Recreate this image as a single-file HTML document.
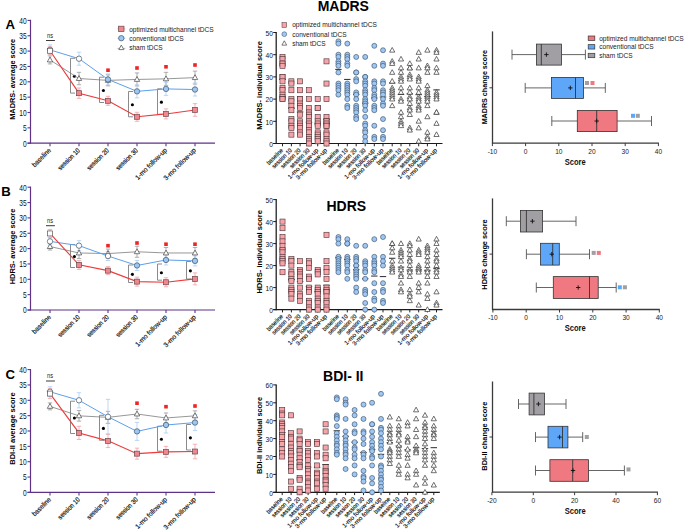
<!DOCTYPE html>
<html><head><meta charset="utf-8"><title>figure</title>
<style>
html,body{margin:0;padding:0;background:#fff;}
body{width:685px;height:530px;overflow:hidden;}
svg{display:block;}
text{font-family:"Liberation Sans", sans-serif;}
</style></head>
<body>
<svg width="685" height="530" viewBox="0 0 685 530">
<rect x="0" y="0" width="685" height="530" fill="#fff"/>
<text x="5.4" y="28.7" font-size="13.2" text-anchor="start" fill="#000" font-weight="bold">A</text>
<text x="15" y="79.3" font-size="7.4" text-anchor="middle" fill="#000" font-weight="bold" transform="rotate(-90 15 79.3)" textLength="81" lengthAdjust="spacingAndGlyphs">MADRS- average score</text>
<line x1="30.5" y1="19.8" x2="30.5" y2="143.7" stroke="#5e3387" stroke-width="1.2"/>
<line x1="27.5" y1="143.2" x2="215" y2="143.2" stroke="#5e3387" stroke-width="1.2"/>
<line x1="27.5" y1="143.2" x2="30.5" y2="143.2" stroke="#5e3387" stroke-width="1.1"/>
<text x="26.6" y="146.5" font-size="8.2" text-anchor="end" fill="#111" textLength="3.7" lengthAdjust="spacingAndGlyphs">0</text>
<line x1="27.5" y1="127.85" x2="30.5" y2="127.85" stroke="#5e3387" stroke-width="1.1"/>
<text x="26.6" y="131.15" font-size="8.2" text-anchor="end" fill="#111" textLength="3.7" lengthAdjust="spacingAndGlyphs">5</text>
<line x1="27.5" y1="112.5" x2="30.5" y2="112.5" stroke="#5e3387" stroke-width="1.1"/>
<text x="26.6" y="115.8" font-size="8.2" text-anchor="end" fill="#111" textLength="7.4" lengthAdjust="spacingAndGlyphs">10</text>
<line x1="27.5" y1="97.15" x2="30.5" y2="97.15" stroke="#5e3387" stroke-width="1.1"/>
<text x="26.6" y="100.45" font-size="8.2" text-anchor="end" fill="#111" textLength="7.4" lengthAdjust="spacingAndGlyphs">15</text>
<line x1="27.5" y1="81.8" x2="30.5" y2="81.8" stroke="#5e3387" stroke-width="1.1"/>
<text x="26.6" y="85.1" font-size="8.2" text-anchor="end" fill="#111" textLength="7.4" lengthAdjust="spacingAndGlyphs">20</text>
<line x1="27.5" y1="66.45" x2="30.5" y2="66.45" stroke="#5e3387" stroke-width="1.1"/>
<text x="26.6" y="69.75" font-size="8.2" text-anchor="end" fill="#111" textLength="7.4" lengthAdjust="spacingAndGlyphs">25</text>
<line x1="27.5" y1="51.1" x2="30.5" y2="51.1" stroke="#5e3387" stroke-width="1.1"/>
<text x="26.6" y="54.4" font-size="8.2" text-anchor="end" fill="#111" textLength="7.4" lengthAdjust="spacingAndGlyphs">30</text>
<line x1="27.5" y1="35.75" x2="30.5" y2="35.75" stroke="#5e3387" stroke-width="1.1"/>
<text x="26.6" y="39.05" font-size="8.2" text-anchor="end" fill="#111" textLength="7.4" lengthAdjust="spacingAndGlyphs">35</text>
<line x1="27.5" y1="20.4" x2="30.5" y2="20.4" stroke="#5e3387" stroke-width="1.1"/>
<text x="26.6" y="23.7" font-size="8.2" text-anchor="end" fill="#111" textLength="7.4" lengthAdjust="spacingAndGlyphs">40</text>
<line x1="50" y1="143.2" x2="50" y2="146.2" stroke="#5e3387" stroke-width="1.1"/>
<text x="51.4" y="150.8" font-size="6.8" text-anchor="end" fill="#111" transform="rotate(-45 51.4 150.8)" textLength="23.5" lengthAdjust="spacingAndGlyphs" stroke="#111" stroke-width="0.18">baseline</text>
<line x1="79" y1="143.2" x2="79" y2="146.2" stroke="#5e3387" stroke-width="1.1"/>
<text x="80.4" y="150.8" font-size="6.8" text-anchor="end" fill="#111" transform="rotate(-45 80.4 150.8)" textLength="28.2" lengthAdjust="spacingAndGlyphs" stroke="#111" stroke-width="0.18">session 10</text>
<line x1="108" y1="143.2" x2="108" y2="146.2" stroke="#5e3387" stroke-width="1.1"/>
<text x="109.4" y="150.8" font-size="6.8" text-anchor="end" fill="#111" transform="rotate(-45 109.4 150.8)" textLength="28.2" lengthAdjust="spacingAndGlyphs" stroke="#111" stroke-width="0.18">session 20</text>
<line x1="137" y1="143.2" x2="137" y2="146.2" stroke="#5e3387" stroke-width="1.1"/>
<text x="138.4" y="150.8" font-size="6.8" text-anchor="end" fill="#111" transform="rotate(-45 138.4 150.8)" textLength="28.2" lengthAdjust="spacingAndGlyphs" stroke="#111" stroke-width="0.18">session 30</text>
<line x1="166" y1="143.2" x2="166" y2="146.2" stroke="#5e3387" stroke-width="1.1"/>
<text x="167.4" y="150.8" font-size="6.8" text-anchor="end" fill="#111" transform="rotate(-45 167.4 150.8)" textLength="41.5" lengthAdjust="spacingAndGlyphs" stroke="#111" stroke-width="0.18">1-mo follow-up</text>
<line x1="195" y1="143.2" x2="195" y2="146.2" stroke="#5e3387" stroke-width="1.1"/>
<text x="196.4" y="150.8" font-size="6.8" text-anchor="end" fill="#111" transform="rotate(-45 196.4 150.8)" textLength="42.5" lengthAdjust="spacingAndGlyphs" stroke="#111" stroke-width="0.18">3-mo follow-up</text>
<text x="50.1" y="37.6" font-size="7" text-anchor="middle" fill="#222" textLength="6" lengthAdjust="spacingAndGlyphs">ns</text>
<line x1="46" y1="40.5" x2="54.9" y2="40.5" stroke="#222" stroke-width="0.9"/>
<polyline points="75,58.3 70.5,58.3 70.5,93.1 75,93.1" fill="none" stroke="#858585" stroke-width="0.95"/>
<circle cx="74.4" cy="76.3" r="1.55" fill="#000" stroke="none" stroke-width="0"/>
<polyline points="104,77.2 99.5,77.2 99.5,102.5 104,102.5" fill="none" stroke="#858585" stroke-width="0.95"/>
<circle cx="103.4" cy="90.45" r="1.55" fill="#000" stroke="none" stroke-width="0"/>
<polyline points="133,91.5 128.5,91.5 128.5,116.8 133,116.8" fill="none" stroke="#858585" stroke-width="0.95"/>
<circle cx="132.4" cy="104.75" r="1.55" fill="#000" stroke="none" stroke-width="0"/>
<polyline points="162,88.8 157.5,88.8 157.5,114.3 162,114.3" fill="none" stroke="#858585" stroke-width="0.95"/>
<circle cx="161.4" cy="102.15" r="1.55" fill="#000" stroke="none" stroke-width="0"/>
<polyline points="50,59.93 79,78.54 108,80.37 137,79.45 166,78.84 195,77.62" fill="none" stroke="#7c7c7c" stroke-width="0.8"/>
<polyline points="50,49.87 79,58.71 108,79.45 137,91.35 166,88.91 195,89.52" fill="none" stroke="#5b9ff0" stroke-width="1"/>
<polyline points="50,50.78 79,93.18 108,100.8 137,116.79 166,113.92 195,109.95" fill="none" stroke="#ee3a3a" stroke-width="1.1"/>
<line x1="50" y1="55.93" x2="50" y2="63.93" stroke="#9a9a9a" stroke-width="0.8"/>
<line x1="47.8" y1="55.93" x2="52.2" y2="55.93" stroke="#9a9a9a" stroke-width="0.8"/>
<line x1="47.8" y1="63.93" x2="52.2" y2="63.93" stroke="#9a9a9a" stroke-width="0.8"/>
<line x1="50" y1="44.87" x2="50" y2="54.87" stroke="#a9cdf5" stroke-width="0.8"/>
<line x1="47.8" y1="44.87" x2="52.2" y2="44.87" stroke="#a9cdf5" stroke-width="0.8"/>
<line x1="47.8" y1="54.87" x2="52.2" y2="54.87" stroke="#a9cdf5" stroke-width="0.8"/>
<line x1="50" y1="46.78" x2="50" y2="54.78" stroke="#f2a0a6" stroke-width="0.8"/>
<line x1="47.8" y1="46.78" x2="52.2" y2="46.78" stroke="#f2a0a6" stroke-width="0.8"/>
<line x1="47.8" y1="54.78" x2="52.2" y2="54.78" stroke="#f2a0a6" stroke-width="0.8"/>
<line x1="79" y1="72.34" x2="79" y2="84.74" stroke="#9a9a9a" stroke-width="0.8"/>
<line x1="76.8" y1="72.34" x2="81.2" y2="72.34" stroke="#9a9a9a" stroke-width="0.8"/>
<line x1="76.8" y1="84.74" x2="81.2" y2="84.74" stroke="#9a9a9a" stroke-width="0.8"/>
<line x1="79" y1="52.21" x2="79" y2="65.21" stroke="#a9cdf5" stroke-width="0.8"/>
<line x1="76.8" y1="52.21" x2="81.2" y2="52.21" stroke="#a9cdf5" stroke-width="0.8"/>
<line x1="76.8" y1="65.21" x2="81.2" y2="65.21" stroke="#a9cdf5" stroke-width="0.8"/>
<line x1="79" y1="87.98" x2="79" y2="98.38" stroke="#f2a0a6" stroke-width="0.8"/>
<line x1="76.8" y1="87.98" x2="81.2" y2="87.98" stroke="#f2a0a6" stroke-width="0.8"/>
<line x1="76.8" y1="98.38" x2="81.2" y2="98.38" stroke="#f2a0a6" stroke-width="0.8"/>
<line x1="108" y1="74.87" x2="108" y2="85.87" stroke="#9a9a9a" stroke-width="0.8"/>
<line x1="105.8" y1="74.87" x2="110.2" y2="74.87" stroke="#9a9a9a" stroke-width="0.8"/>
<line x1="105.8" y1="85.87" x2="110.2" y2="85.87" stroke="#9a9a9a" stroke-width="0.8"/>
<line x1="108" y1="73.95" x2="108" y2="84.95" stroke="#a9cdf5" stroke-width="0.8"/>
<line x1="105.8" y1="73.95" x2="110.2" y2="73.95" stroke="#a9cdf5" stroke-width="0.8"/>
<line x1="105.8" y1="84.95" x2="110.2" y2="84.95" stroke="#a9cdf5" stroke-width="0.8"/>
<line x1="108" y1="96.3" x2="108" y2="105.3" stroke="#f2a0a6" stroke-width="0.8"/>
<line x1="105.8" y1="96.3" x2="110.2" y2="96.3" stroke="#f2a0a6" stroke-width="0.8"/>
<line x1="105.8" y1="105.3" x2="110.2" y2="105.3" stroke="#f2a0a6" stroke-width="0.8"/>
<line x1="137" y1="72.95" x2="137" y2="85.95" stroke="#9a9a9a" stroke-width="0.8"/>
<line x1="134.8" y1="72.95" x2="139.2" y2="72.95" stroke="#9a9a9a" stroke-width="0.8"/>
<line x1="134.8" y1="85.95" x2="139.2" y2="85.95" stroke="#9a9a9a" stroke-width="0.8"/>
<line x1="137" y1="84.85" x2="137" y2="97.85" stroke="#a9cdf5" stroke-width="0.8"/>
<line x1="134.8" y1="84.85" x2="139.2" y2="84.85" stroke="#a9cdf5" stroke-width="0.8"/>
<line x1="134.8" y1="97.85" x2="139.2" y2="97.85" stroke="#a9cdf5" stroke-width="0.8"/>
<line x1="137" y1="112.29" x2="137" y2="121.29" stroke="#f2a0a6" stroke-width="0.8"/>
<line x1="134.8" y1="112.29" x2="139.2" y2="112.29" stroke="#f2a0a6" stroke-width="0.8"/>
<line x1="134.8" y1="121.29" x2="139.2" y2="121.29" stroke="#f2a0a6" stroke-width="0.8"/>
<line x1="166" y1="72.34" x2="166" y2="85.34" stroke="#9a9a9a" stroke-width="0.8"/>
<line x1="163.8" y1="72.34" x2="168.2" y2="72.34" stroke="#9a9a9a" stroke-width="0.8"/>
<line x1="163.8" y1="85.34" x2="168.2" y2="85.34" stroke="#9a9a9a" stroke-width="0.8"/>
<line x1="166" y1="82.41" x2="166" y2="95.41" stroke="#a9cdf5" stroke-width="0.8"/>
<line x1="163.8" y1="82.41" x2="168.2" y2="82.41" stroke="#a9cdf5" stroke-width="0.8"/>
<line x1="163.8" y1="95.41" x2="168.2" y2="95.41" stroke="#a9cdf5" stroke-width="0.8"/>
<line x1="166" y1="108.92" x2="166" y2="118.92" stroke="#f2a0a6" stroke-width="0.8"/>
<line x1="163.8" y1="108.92" x2="168.2" y2="108.92" stroke="#f2a0a6" stroke-width="0.8"/>
<line x1="163.8" y1="118.92" x2="168.2" y2="118.92" stroke="#f2a0a6" stroke-width="0.8"/>
<line x1="195" y1="71.12" x2="195" y2="84.12" stroke="#9a9a9a" stroke-width="0.8"/>
<line x1="192.8" y1="71.12" x2="197.2" y2="71.12" stroke="#9a9a9a" stroke-width="0.8"/>
<line x1="192.8" y1="84.12" x2="197.2" y2="84.12" stroke="#9a9a9a" stroke-width="0.8"/>
<line x1="195" y1="83.02" x2="195" y2="96.02" stroke="#a9cdf5" stroke-width="0.8"/>
<line x1="192.8" y1="83.02" x2="197.2" y2="83.02" stroke="#a9cdf5" stroke-width="0.8"/>
<line x1="192.8" y1="96.02" x2="197.2" y2="96.02" stroke="#a9cdf5" stroke-width="0.8"/>
<line x1="195" y1="103.65" x2="195" y2="116.25" stroke="#f2a0a6" stroke-width="0.8"/>
<line x1="192.8" y1="103.65" x2="197.2" y2="103.65" stroke="#f2a0a6" stroke-width="0.8"/>
<line x1="192.8" y1="116.25" x2="197.2" y2="116.25" stroke="#f2a0a6" stroke-width="0.8"/>
<polygon points="50,57.02 47.3,61.88 52.7,61.88" fill="#fff" stroke="#444" stroke-width="0.7"/>
<polygon points="79,75.62 76.3,80.48 81.7,80.48" fill="#fff" stroke="#444" stroke-width="0.7"/>
<polygon points="108,77.45 105.3,82.31 110.7,82.31" fill="#fff" stroke="#444" stroke-width="0.7"/>
<polygon points="137,76.54 134.3,81.4 139.7,81.4" fill="#fff" stroke="#444" stroke-width="0.7"/>
<polygon points="166,75.93 163.3,80.79 168.7,80.79" fill="#fff" stroke="#444" stroke-width="0.7"/>
<polygon points="195,74.71 192.3,79.57 197.7,79.57" fill="#fff" stroke="#444" stroke-width="0.7"/>
<circle cx="50" cy="49.87" r="2.7" fill="#fff" stroke="#445566" stroke-width="0.7"/>
<circle cx="79" cy="58.71" r="2.7" fill="#fff" stroke="#445566" stroke-width="0.7"/>
<circle cx="108" cy="79.45" r="2.7" fill="#9cc6f4" stroke="#445566" stroke-width="0.7"/>
<circle cx="137" cy="91.35" r="2.7" fill="#9cc6f4" stroke="#445566" stroke-width="0.7"/>
<circle cx="166" cy="88.91" r="2.7" fill="#9cc6f4" stroke="#445566" stroke-width="0.7"/>
<circle cx="195" cy="89.52" r="2.7" fill="#9cc6f4" stroke="#445566" stroke-width="0.7"/>
<rect x="47.5" y="48.28" width="5" height="5" fill="#fff" stroke="#555" stroke-width="0.7"/>
<rect x="76.5" y="90.68" width="5" height="5" fill="#f0868e" stroke="#6a4a4c" stroke-width="0.7"/>
<rect x="105.5" y="98.3" width="5" height="5" fill="#f0868e" stroke="#6a4a4c" stroke-width="0.7"/>
<rect x="134.5" y="114.29" width="5" height="5" fill="#f0868e" stroke="#6a4a4c" stroke-width="0.7"/>
<rect x="163.5" y="111.42" width="5" height="5" fill="#f0868e" stroke="#6a4a4c" stroke-width="0.7"/>
<rect x="192.5" y="107.45" width="5" height="5" fill="#f0868e" stroke="#6a4a4c" stroke-width="0.7"/>
<rect x="106.2" y="68.4" width="3.6" height="3.6" fill="#ee2428" stroke="none" stroke-width="0"/>
<rect x="135.2" y="66.2" width="3.6" height="3.6" fill="#ee2428" stroke="none" stroke-width="0"/>
<rect x="164.2" y="65" width="3.6" height="3.6" fill="#ee2428" stroke="none" stroke-width="0"/>
<rect x="193.2" y="63.2" width="3.6" height="3.6" fill="#ee2428" stroke="none" stroke-width="0"/>
<line x1="117.4" y1="28.9" x2="125.3" y2="28.9" stroke="#f5a0a5" stroke-width="0.9"/>
<line x1="117.4" y1="38.2" x2="125.3" y2="38.2" stroke="#9cc4f0" stroke-width="0.9"/>
<line x1="117.4" y1="48.4" x2="125.3" y2="48.4" stroke="#aaaaaa" stroke-width="0.9"/>
<rect x="118.6" y="26.2" width="5.4" height="5.4" fill="#f0868e" stroke="#6a4a4c" stroke-width="0.7"/>
<circle cx="121.3" cy="38.2" r="2.7" fill="#9cc6f4" stroke="#445566" stroke-width="0.7"/>
<polygon points="121.3,45.1 118.8,49.6 123.8,49.6" fill="#fff" stroke="#444" stroke-width="0.7"/>
<text x="129.2" y="31.6" font-size="6.8" text-anchor="start" fill="#222" textLength="84.5" lengthAdjust="spacingAndGlyphs">optimized multichannel tDCS</text>
<text x="129.2" y="40.9" font-size="6.8" text-anchor="start" fill="#222" textLength="54.5" lengthAdjust="spacingAndGlyphs">conventional tDCS</text>
<text x="129.2" y="49.8" font-size="6.8" text-anchor="start" fill="#222" textLength="33.5" lengthAdjust="spacingAndGlyphs">sham tDCS</text>
<text x="1.2" y="196.2" font-size="13.2" text-anchor="start" fill="#000" font-weight="bold">B</text>
<text x="15" y="246.5" font-size="7.4" text-anchor="middle" fill="#000" font-weight="bold" transform="rotate(-90 15 246.5)" textLength="75.6" lengthAdjust="spacingAndGlyphs">HDRS- average score</text>
<line x1="30.5" y1="186.6" x2="30.5" y2="310.5" stroke="#5e3387" stroke-width="1.2"/>
<line x1="27.5" y1="310" x2="215" y2="310" stroke="#5e3387" stroke-width="1.2"/>
<line x1="27.5" y1="310" x2="30.5" y2="310" stroke="#5e3387" stroke-width="1.1"/>
<text x="26.6" y="313.3" font-size="8.2" text-anchor="end" fill="#111" textLength="3.7" lengthAdjust="spacingAndGlyphs">0</text>
<line x1="27.5" y1="294.65" x2="30.5" y2="294.65" stroke="#5e3387" stroke-width="1.1"/>
<text x="26.6" y="297.95" font-size="8.2" text-anchor="end" fill="#111" textLength="3.7" lengthAdjust="spacingAndGlyphs">5</text>
<line x1="27.5" y1="279.3" x2="30.5" y2="279.3" stroke="#5e3387" stroke-width="1.1"/>
<text x="26.6" y="282.6" font-size="8.2" text-anchor="end" fill="#111" textLength="7.4" lengthAdjust="spacingAndGlyphs">10</text>
<line x1="27.5" y1="263.95" x2="30.5" y2="263.95" stroke="#5e3387" stroke-width="1.1"/>
<text x="26.6" y="267.25" font-size="8.2" text-anchor="end" fill="#111" textLength="7.4" lengthAdjust="spacingAndGlyphs">15</text>
<line x1="27.5" y1="248.6" x2="30.5" y2="248.6" stroke="#5e3387" stroke-width="1.1"/>
<text x="26.6" y="251.9" font-size="8.2" text-anchor="end" fill="#111" textLength="7.4" lengthAdjust="spacingAndGlyphs">20</text>
<line x1="27.5" y1="233.25" x2="30.5" y2="233.25" stroke="#5e3387" stroke-width="1.1"/>
<text x="26.6" y="236.55" font-size="8.2" text-anchor="end" fill="#111" textLength="7.4" lengthAdjust="spacingAndGlyphs">25</text>
<line x1="27.5" y1="217.9" x2="30.5" y2="217.9" stroke="#5e3387" stroke-width="1.1"/>
<text x="26.6" y="221.2" font-size="8.2" text-anchor="end" fill="#111" textLength="7.4" lengthAdjust="spacingAndGlyphs">30</text>
<line x1="27.5" y1="202.55" x2="30.5" y2="202.55" stroke="#5e3387" stroke-width="1.1"/>
<text x="26.6" y="205.85" font-size="8.2" text-anchor="end" fill="#111" textLength="7.4" lengthAdjust="spacingAndGlyphs">35</text>
<line x1="27.5" y1="187.2" x2="30.5" y2="187.2" stroke="#5e3387" stroke-width="1.1"/>
<text x="26.6" y="190.5" font-size="8.2" text-anchor="end" fill="#111" textLength="7.4" lengthAdjust="spacingAndGlyphs">40</text>
<line x1="50" y1="310" x2="50" y2="313" stroke="#5e3387" stroke-width="1.1"/>
<text x="51.4" y="317.6" font-size="6.8" text-anchor="end" fill="#111" transform="rotate(-45 51.4 317.6)" textLength="23.5" lengthAdjust="spacingAndGlyphs" stroke="#111" stroke-width="0.18">baseline</text>
<line x1="79" y1="310" x2="79" y2="313" stroke="#5e3387" stroke-width="1.1"/>
<text x="80.4" y="317.6" font-size="6.8" text-anchor="end" fill="#111" transform="rotate(-45 80.4 317.6)" textLength="28.2" lengthAdjust="spacingAndGlyphs" stroke="#111" stroke-width="0.18">session 10</text>
<line x1="108" y1="310" x2="108" y2="313" stroke="#5e3387" stroke-width="1.1"/>
<text x="109.4" y="317.6" font-size="6.8" text-anchor="end" fill="#111" transform="rotate(-45 109.4 317.6)" textLength="28.2" lengthAdjust="spacingAndGlyphs" stroke="#111" stroke-width="0.18">session 20</text>
<line x1="137" y1="310" x2="137" y2="313" stroke="#5e3387" stroke-width="1.1"/>
<text x="138.4" y="317.6" font-size="6.8" text-anchor="end" fill="#111" transform="rotate(-45 138.4 317.6)" textLength="28.2" lengthAdjust="spacingAndGlyphs" stroke="#111" stroke-width="0.18">session 30</text>
<line x1="166" y1="310" x2="166" y2="313" stroke="#5e3387" stroke-width="1.1"/>
<text x="167.4" y="317.6" font-size="6.8" text-anchor="end" fill="#111" transform="rotate(-45 167.4 317.6)" textLength="41.5" lengthAdjust="spacingAndGlyphs" stroke="#111" stroke-width="0.18">1-mo follow-up</text>
<line x1="195" y1="310" x2="195" y2="313" stroke="#5e3387" stroke-width="1.1"/>
<text x="196.4" y="317.6" font-size="6.8" text-anchor="end" fill="#111" transform="rotate(-45 196.4 317.6)" textLength="42.5" lengthAdjust="spacingAndGlyphs" stroke="#111" stroke-width="0.18">3-mo follow-up</text>
<text x="50.1" y="222.8" font-size="7" text-anchor="middle" fill="#222" textLength="6" lengthAdjust="spacingAndGlyphs">ns</text>
<line x1="46" y1="225.7" x2="54.9" y2="225.7" stroke="#222" stroke-width="0.9"/>
<polyline points="75,244.5 70.5,244.5 70.5,267.5 75,267.5" fill="none" stroke="#858585" stroke-width="0.95"/>
<circle cx="74.4" cy="256.6" r="1.55" fill="#000" stroke="none" stroke-width="0"/>
<polyline points="133,265 128.5,265 128.5,282.5 133,282.5" fill="none" stroke="#858585" stroke-width="0.95"/>
<circle cx="132.4" cy="274.35" r="1.55" fill="#000" stroke="none" stroke-width="0"/>
<polyline points="162,264 157.5,264 157.5,280.2 162,280.2" fill="none" stroke="#858585" stroke-width="0.95"/>
<circle cx="161.4" cy="272.7" r="1.55" fill="#000" stroke="none" stroke-width="0"/>
<polyline points="191,261.5 186.5,261.5 186.5,279 191,279" fill="none" stroke="#858585" stroke-width="0.95"/>
<circle cx="190.4" cy="270.85" r="1.55" fill="#000" stroke="none" stroke-width="0"/>
<polyline points="50,246.56 79,252.97 108,253.57 137,251.75 166,252.97 195,252.97" fill="none" stroke="#7c7c7c" stroke-width="0.8"/>
<polyline points="50,241.38 79,245.64 108,256.01 137,265.47 166,259.98 195,260.89" fill="none" stroke="#5b9ff0" stroke-width="1"/>
<polyline points="50,233.44 79,264.86 108,270.65 137,281.63 166,282.25 195,278.89" fill="none" stroke="#ee3a3a" stroke-width="1.1"/>
<line x1="50" y1="243.06" x2="50" y2="250.06" stroke="#9a9a9a" stroke-width="0.8"/>
<line x1="47.8" y1="243.06" x2="52.2" y2="243.06" stroke="#9a9a9a" stroke-width="0.8"/>
<line x1="47.8" y1="250.06" x2="52.2" y2="250.06" stroke="#9a9a9a" stroke-width="0.8"/>
<line x1="50" y1="237.88" x2="50" y2="244.88" stroke="#a9cdf5" stroke-width="0.8"/>
<line x1="47.8" y1="237.88" x2="52.2" y2="237.88" stroke="#a9cdf5" stroke-width="0.8"/>
<line x1="47.8" y1="244.88" x2="52.2" y2="244.88" stroke="#a9cdf5" stroke-width="0.8"/>
<line x1="50" y1="229.44" x2="50" y2="237.44" stroke="#f2a0a6" stroke-width="0.8"/>
<line x1="47.8" y1="229.44" x2="52.2" y2="229.44" stroke="#f2a0a6" stroke-width="0.8"/>
<line x1="47.8" y1="237.44" x2="52.2" y2="237.44" stroke="#f2a0a6" stroke-width="0.8"/>
<line x1="79" y1="247.47" x2="79" y2="258.47" stroke="#9a9a9a" stroke-width="0.8"/>
<line x1="76.8" y1="247.47" x2="81.2" y2="247.47" stroke="#9a9a9a" stroke-width="0.8"/>
<line x1="76.8" y1="258.47" x2="81.2" y2="258.47" stroke="#9a9a9a" stroke-width="0.8"/>
<line x1="79" y1="240.64" x2="79" y2="250.64" stroke="#a9cdf5" stroke-width="0.8"/>
<line x1="76.8" y1="240.64" x2="81.2" y2="240.64" stroke="#a9cdf5" stroke-width="0.8"/>
<line x1="76.8" y1="250.64" x2="81.2" y2="250.64" stroke="#a9cdf5" stroke-width="0.8"/>
<line x1="79" y1="260.36" x2="79" y2="269.36" stroke="#f2a0a6" stroke-width="0.8"/>
<line x1="76.8" y1="260.36" x2="81.2" y2="260.36" stroke="#f2a0a6" stroke-width="0.8"/>
<line x1="76.8" y1="269.36" x2="81.2" y2="269.36" stroke="#f2a0a6" stroke-width="0.8"/>
<line x1="108" y1="249.07" x2="108" y2="258.07" stroke="#9a9a9a" stroke-width="0.8"/>
<line x1="105.8" y1="249.07" x2="110.2" y2="249.07" stroke="#9a9a9a" stroke-width="0.8"/>
<line x1="105.8" y1="258.07" x2="110.2" y2="258.07" stroke="#9a9a9a" stroke-width="0.8"/>
<line x1="108" y1="251.51" x2="108" y2="260.51" stroke="#a9cdf5" stroke-width="0.8"/>
<line x1="105.8" y1="251.51" x2="110.2" y2="251.51" stroke="#a9cdf5" stroke-width="0.8"/>
<line x1="105.8" y1="260.51" x2="110.2" y2="260.51" stroke="#a9cdf5" stroke-width="0.8"/>
<line x1="108" y1="266.65" x2="108" y2="274.65" stroke="#f2a0a6" stroke-width="0.8"/>
<line x1="105.8" y1="266.65" x2="110.2" y2="266.65" stroke="#f2a0a6" stroke-width="0.8"/>
<line x1="105.8" y1="274.65" x2="110.2" y2="274.65" stroke="#f2a0a6" stroke-width="0.8"/>
<line x1="137" y1="246.25" x2="137" y2="257.25" stroke="#9a9a9a" stroke-width="0.8"/>
<line x1="134.8" y1="246.25" x2="139.2" y2="246.25" stroke="#9a9a9a" stroke-width="0.8"/>
<line x1="134.8" y1="257.25" x2="139.2" y2="257.25" stroke="#9a9a9a" stroke-width="0.8"/>
<line x1="137" y1="260.47" x2="137" y2="270.47" stroke="#a9cdf5" stroke-width="0.8"/>
<line x1="134.8" y1="260.47" x2="139.2" y2="260.47" stroke="#a9cdf5" stroke-width="0.8"/>
<line x1="134.8" y1="270.47" x2="139.2" y2="270.47" stroke="#a9cdf5" stroke-width="0.8"/>
<line x1="137" y1="277.13" x2="137" y2="286.13" stroke="#f2a0a6" stroke-width="0.8"/>
<line x1="134.8" y1="277.13" x2="139.2" y2="277.13" stroke="#f2a0a6" stroke-width="0.8"/>
<line x1="134.8" y1="286.13" x2="139.2" y2="286.13" stroke="#f2a0a6" stroke-width="0.8"/>
<line x1="166" y1="247.47" x2="166" y2="258.47" stroke="#9a9a9a" stroke-width="0.8"/>
<line x1="163.8" y1="247.47" x2="168.2" y2="247.47" stroke="#9a9a9a" stroke-width="0.8"/>
<line x1="163.8" y1="258.47" x2="168.2" y2="258.47" stroke="#9a9a9a" stroke-width="0.8"/>
<line x1="166" y1="254.98" x2="166" y2="264.98" stroke="#a9cdf5" stroke-width="0.8"/>
<line x1="163.8" y1="254.98" x2="168.2" y2="254.98" stroke="#a9cdf5" stroke-width="0.8"/>
<line x1="163.8" y1="264.98" x2="168.2" y2="264.98" stroke="#a9cdf5" stroke-width="0.8"/>
<line x1="166" y1="277.75" x2="166" y2="286.75" stroke="#f2a0a6" stroke-width="0.8"/>
<line x1="163.8" y1="277.75" x2="168.2" y2="277.75" stroke="#f2a0a6" stroke-width="0.8"/>
<line x1="163.8" y1="286.75" x2="168.2" y2="286.75" stroke="#f2a0a6" stroke-width="0.8"/>
<line x1="195" y1="247.47" x2="195" y2="258.47" stroke="#9a9a9a" stroke-width="0.8"/>
<line x1="192.8" y1="247.47" x2="197.2" y2="247.47" stroke="#9a9a9a" stroke-width="0.8"/>
<line x1="192.8" y1="258.47" x2="197.2" y2="258.47" stroke="#9a9a9a" stroke-width="0.8"/>
<line x1="195" y1="255.89" x2="195" y2="265.89" stroke="#a9cdf5" stroke-width="0.8"/>
<line x1="192.8" y1="255.89" x2="197.2" y2="255.89" stroke="#a9cdf5" stroke-width="0.8"/>
<line x1="192.8" y1="265.89" x2="197.2" y2="265.89" stroke="#a9cdf5" stroke-width="0.8"/>
<line x1="195" y1="272.89" x2="195" y2="284.89" stroke="#f2a0a6" stroke-width="0.8"/>
<line x1="192.8" y1="272.89" x2="197.2" y2="272.89" stroke="#f2a0a6" stroke-width="0.8"/>
<line x1="192.8" y1="284.89" x2="197.2" y2="284.89" stroke="#f2a0a6" stroke-width="0.8"/>
<polygon points="50,243.64 47.3,248.5 52.7,248.5" fill="#fff" stroke="#444" stroke-width="0.7"/>
<polygon points="79,250.05 76.3,254.91 81.7,254.91" fill="#fff" stroke="#444" stroke-width="0.7"/>
<polygon points="108,250.66 105.3,255.52 110.7,255.52" fill="#fff" stroke="#444" stroke-width="0.7"/>
<polygon points="137,248.83 134.3,253.69 139.7,253.69" fill="#fff" stroke="#444" stroke-width="0.7"/>
<polygon points="166,250.05 163.3,254.91 168.7,254.91" fill="#fff" stroke="#444" stroke-width="0.7"/>
<polygon points="195,250.05 192.3,254.91 197.7,254.91" fill="#fff" stroke="#444" stroke-width="0.7"/>
<circle cx="50" cy="241.38" r="2.7" fill="#fff" stroke="#445566" stroke-width="0.7"/>
<circle cx="79" cy="245.64" r="2.7" fill="#fff" stroke="#445566" stroke-width="0.7"/>
<circle cx="108" cy="256.01" r="2.7" fill="#fff" stroke="#445566" stroke-width="0.7"/>
<circle cx="137" cy="265.47" r="2.7" fill="#9cc6f4" stroke="#445566" stroke-width="0.7"/>
<circle cx="166" cy="259.98" r="2.7" fill="#9cc6f4" stroke="#445566" stroke-width="0.7"/>
<circle cx="195" cy="260.89" r="2.7" fill="#9cc6f4" stroke="#445566" stroke-width="0.7"/>
<rect x="47.5" y="230.94" width="5" height="5" fill="#fff" stroke="#555" stroke-width="0.7"/>
<rect x="76.5" y="262.36" width="5" height="5" fill="#f0868e" stroke="#6a4a4c" stroke-width="0.7"/>
<rect x="105.5" y="268.15" width="5" height="5" fill="#f0868e" stroke="#6a4a4c" stroke-width="0.7"/>
<rect x="134.5" y="279.13" width="5" height="5" fill="#f0868e" stroke="#6a4a4c" stroke-width="0.7"/>
<rect x="163.5" y="279.75" width="5" height="5" fill="#f0868e" stroke="#6a4a4c" stroke-width="0.7"/>
<rect x="192.5" y="276.39" width="5" height="5" fill="#f0868e" stroke="#6a4a4c" stroke-width="0.7"/>
<rect x="106.2" y="243.9" width="3.6" height="3.6" fill="#ee2428" stroke="none" stroke-width="0"/>
<rect x="135.2" y="241.2" width="3.6" height="3.6" fill="#ee2428" stroke="none" stroke-width="0"/>
<rect x="164.2" y="242.4" width="3.6" height="3.6" fill="#ee2428" stroke="none" stroke-width="0"/>
<rect x="193.2" y="242.4" width="3.6" height="3.6" fill="#ee2428" stroke="none" stroke-width="0"/>
<text x="5.4" y="378.6" font-size="13.2" text-anchor="start" fill="#000" font-weight="bold">C</text>
<text x="15" y="428.6" font-size="7.4" text-anchor="middle" fill="#000" font-weight="bold" transform="rotate(-90 15 428.6)" textLength="72.4" lengthAdjust="spacingAndGlyphs">BDI-II average score</text>
<line x1="30.5" y1="369" x2="30.5" y2="492.9" stroke="#5e3387" stroke-width="1.2"/>
<line x1="27.5" y1="492.4" x2="215" y2="492.4" stroke="#5e3387" stroke-width="1.2"/>
<line x1="27.5" y1="492.4" x2="30.5" y2="492.4" stroke="#5e3387" stroke-width="1.1"/>
<text x="26.6" y="495.7" font-size="8.2" text-anchor="end" fill="#111" textLength="3.7" lengthAdjust="spacingAndGlyphs">0</text>
<line x1="27.5" y1="477.05" x2="30.5" y2="477.05" stroke="#5e3387" stroke-width="1.1"/>
<text x="26.6" y="480.35" font-size="8.2" text-anchor="end" fill="#111" textLength="3.7" lengthAdjust="spacingAndGlyphs">5</text>
<line x1="27.5" y1="461.7" x2="30.5" y2="461.7" stroke="#5e3387" stroke-width="1.1"/>
<text x="26.6" y="465" font-size="8.2" text-anchor="end" fill="#111" textLength="7.4" lengthAdjust="spacingAndGlyphs">10</text>
<line x1="27.5" y1="446.35" x2="30.5" y2="446.35" stroke="#5e3387" stroke-width="1.1"/>
<text x="26.6" y="449.65" font-size="8.2" text-anchor="end" fill="#111" textLength="7.4" lengthAdjust="spacingAndGlyphs">15</text>
<line x1="27.5" y1="431" x2="30.5" y2="431" stroke="#5e3387" stroke-width="1.1"/>
<text x="26.6" y="434.3" font-size="8.2" text-anchor="end" fill="#111" textLength="7.4" lengthAdjust="spacingAndGlyphs">20</text>
<line x1="27.5" y1="415.65" x2="30.5" y2="415.65" stroke="#5e3387" stroke-width="1.1"/>
<text x="26.6" y="418.95" font-size="8.2" text-anchor="end" fill="#111" textLength="7.4" lengthAdjust="spacingAndGlyphs">25</text>
<line x1="27.5" y1="400.3" x2="30.5" y2="400.3" stroke="#5e3387" stroke-width="1.1"/>
<text x="26.6" y="403.6" font-size="8.2" text-anchor="end" fill="#111" textLength="7.4" lengthAdjust="spacingAndGlyphs">30</text>
<line x1="27.5" y1="384.95" x2="30.5" y2="384.95" stroke="#5e3387" stroke-width="1.1"/>
<text x="26.6" y="388.25" font-size="8.2" text-anchor="end" fill="#111" textLength="7.4" lengthAdjust="spacingAndGlyphs">35</text>
<line x1="27.5" y1="369.6" x2="30.5" y2="369.6" stroke="#5e3387" stroke-width="1.1"/>
<text x="26.6" y="372.9" font-size="8.2" text-anchor="end" fill="#111" textLength="7.4" lengthAdjust="spacingAndGlyphs">40</text>
<line x1="50" y1="492.4" x2="50" y2="495.4" stroke="#5e3387" stroke-width="1.1"/>
<text x="51.4" y="500" font-size="6.8" text-anchor="end" fill="#111" transform="rotate(-45 51.4 500)" textLength="23.5" lengthAdjust="spacingAndGlyphs" stroke="#111" stroke-width="0.18">baseline</text>
<line x1="79" y1="492.4" x2="79" y2="495.4" stroke="#5e3387" stroke-width="1.1"/>
<text x="80.4" y="500" font-size="6.8" text-anchor="end" fill="#111" transform="rotate(-45 80.4 500)" textLength="28.2" lengthAdjust="spacingAndGlyphs" stroke="#111" stroke-width="0.18">session 10</text>
<line x1="108" y1="492.4" x2="108" y2="495.4" stroke="#5e3387" stroke-width="1.1"/>
<text x="109.4" y="500" font-size="6.8" text-anchor="end" fill="#111" transform="rotate(-45 109.4 500)" textLength="28.2" lengthAdjust="spacingAndGlyphs" stroke="#111" stroke-width="0.18">session 20</text>
<line x1="137" y1="492.4" x2="137" y2="495.4" stroke="#5e3387" stroke-width="1.1"/>
<text x="138.4" y="500" font-size="6.8" text-anchor="end" fill="#111" transform="rotate(-45 138.4 500)" textLength="28.2" lengthAdjust="spacingAndGlyphs" stroke="#111" stroke-width="0.18">session 30</text>
<line x1="166" y1="492.4" x2="166" y2="495.4" stroke="#5e3387" stroke-width="1.1"/>
<text x="167.4" y="500" font-size="6.8" text-anchor="end" fill="#111" transform="rotate(-45 167.4 500)" textLength="41.5" lengthAdjust="spacingAndGlyphs" stroke="#111" stroke-width="0.18">1-mo follow-up</text>
<line x1="195" y1="492.4" x2="195" y2="495.4" stroke="#5e3387" stroke-width="1.1"/>
<text x="196.4" y="500" font-size="6.8" text-anchor="end" fill="#111" transform="rotate(-45 196.4 500)" textLength="42.5" lengthAdjust="spacingAndGlyphs" stroke="#111" stroke-width="0.18">3-mo follow-up</text>
<text x="50.1" y="378.1" font-size="7" text-anchor="middle" fill="#222" textLength="6" lengthAdjust="spacingAndGlyphs">ns</text>
<line x1="46" y1="381" x2="54.9" y2="381" stroke="#222" stroke-width="0.9"/>
<polyline points="75,401.2 70.5,401.2 70.5,433.5 75,433.5" fill="none" stroke="#858585" stroke-width="0.95"/>
<circle cx="74.4" cy="417.95" r="1.55" fill="#000" stroke="none" stroke-width="0"/>
<polyline points="104,415.3 99.5,415.3 99.5,440.3 104,440.3" fill="none" stroke="#858585" stroke-width="0.95"/>
<circle cx="103.4" cy="428.4" r="1.55" fill="#000" stroke="none" stroke-width="0"/>
<polyline points="162,426.2 157.5,426.2 157.5,451.2 162,451.2" fill="none" stroke="#858585" stroke-width="0.95"/>
<circle cx="161.4" cy="439.3" r="1.55" fill="#000" stroke="none" stroke-width="0"/>
<polyline points="191,424.5 186.5,424.5 186.5,450 191,450" fill="none" stroke="#858585" stroke-width="0.95"/>
<circle cx="190.4" cy="437.85" r="1.55" fill="#000" stroke="none" stroke-width="0"/>
<polyline points="50,406.39 79,415.84 108,417.37 137,414.01 166,417.98 195,415.84" fill="none" stroke="#7c7c7c" stroke-width="0.8"/>
<polyline points="50,391.75 79,400.29 108,416.76 137,431.4 166,425 195,422.56" fill="none" stroke="#5b9ff0" stroke-width="1"/>
<polyline points="50,393.58 79,432.92 108,440.85 137,453.66 166,451.83 195,451.53" fill="none" stroke="#ee3a3a" stroke-width="1.1"/>
<line x1="50" y1="402.89" x2="50" y2="409.89" stroke="#9a9a9a" stroke-width="0.8"/>
<line x1="47.8" y1="402.89" x2="52.2" y2="402.89" stroke="#9a9a9a" stroke-width="0.8"/>
<line x1="47.8" y1="409.89" x2="52.2" y2="409.89" stroke="#9a9a9a" stroke-width="0.8"/>
<line x1="50" y1="386.75" x2="50" y2="396.75" stroke="#a9cdf5" stroke-width="0.8"/>
<line x1="47.8" y1="386.75" x2="52.2" y2="386.75" stroke="#a9cdf5" stroke-width="0.8"/>
<line x1="47.8" y1="396.75" x2="52.2" y2="396.75" stroke="#a9cdf5" stroke-width="0.8"/>
<line x1="50" y1="388.58" x2="50" y2="398.58" stroke="#f2a0a6" stroke-width="0.8"/>
<line x1="47.8" y1="388.58" x2="52.2" y2="388.58" stroke="#f2a0a6" stroke-width="0.8"/>
<line x1="47.8" y1="398.58" x2="52.2" y2="398.58" stroke="#f2a0a6" stroke-width="0.8"/>
<line x1="79" y1="410.54" x2="79" y2="421.14" stroke="#9a9a9a" stroke-width="0.8"/>
<line x1="76.8" y1="410.54" x2="81.2" y2="410.54" stroke="#9a9a9a" stroke-width="0.8"/>
<line x1="76.8" y1="421.14" x2="81.2" y2="421.14" stroke="#9a9a9a" stroke-width="0.8"/>
<line x1="79" y1="392.69" x2="79" y2="407.89" stroke="#a9cdf5" stroke-width="0.8"/>
<line x1="76.8" y1="392.69" x2="81.2" y2="392.69" stroke="#a9cdf5" stroke-width="0.8"/>
<line x1="76.8" y1="407.89" x2="81.2" y2="407.89" stroke="#a9cdf5" stroke-width="0.8"/>
<line x1="79" y1="426.32" x2="79" y2="439.52" stroke="#f2a0a6" stroke-width="0.8"/>
<line x1="76.8" y1="426.32" x2="81.2" y2="426.32" stroke="#f2a0a6" stroke-width="0.8"/>
<line x1="76.8" y1="439.52" x2="81.2" y2="439.52" stroke="#f2a0a6" stroke-width="0.8"/>
<line x1="108" y1="411.37" x2="108" y2="423.37" stroke="#9a9a9a" stroke-width="0.8"/>
<line x1="105.8" y1="411.37" x2="110.2" y2="411.37" stroke="#9a9a9a" stroke-width="0.8"/>
<line x1="105.8" y1="423.37" x2="110.2" y2="423.37" stroke="#9a9a9a" stroke-width="0.8"/>
<line x1="108" y1="399.36" x2="108" y2="434.16" stroke="#a9cdf5" stroke-width="0.8"/>
<line x1="105.8" y1="399.36" x2="110.2" y2="399.36" stroke="#a9cdf5" stroke-width="0.8"/>
<line x1="105.8" y1="434.16" x2="110.2" y2="434.16" stroke="#a9cdf5" stroke-width="0.8"/>
<line x1="108" y1="434.15" x2="108" y2="447.55" stroke="#f2a0a6" stroke-width="0.8"/>
<line x1="105.8" y1="434.15" x2="110.2" y2="434.15" stroke="#f2a0a6" stroke-width="0.8"/>
<line x1="105.8" y1="447.55" x2="110.2" y2="447.55" stroke="#f2a0a6" stroke-width="0.8"/>
<line x1="137" y1="409.31" x2="137" y2="418.71" stroke="#9a9a9a" stroke-width="0.8"/>
<line x1="134.8" y1="409.31" x2="139.2" y2="409.31" stroke="#9a9a9a" stroke-width="0.8"/>
<line x1="134.8" y1="418.71" x2="139.2" y2="418.71" stroke="#9a9a9a" stroke-width="0.8"/>
<line x1="137" y1="422.4" x2="137" y2="440.4" stroke="#a9cdf5" stroke-width="0.8"/>
<line x1="134.8" y1="422.4" x2="139.2" y2="422.4" stroke="#a9cdf5" stroke-width="0.8"/>
<line x1="134.8" y1="440.4" x2="139.2" y2="440.4" stroke="#a9cdf5" stroke-width="0.8"/>
<line x1="137" y1="448.16" x2="137" y2="459.16" stroke="#f2a0a6" stroke-width="0.8"/>
<line x1="134.8" y1="448.16" x2="139.2" y2="448.16" stroke="#f2a0a6" stroke-width="0.8"/>
<line x1="134.8" y1="459.16" x2="139.2" y2="459.16" stroke="#f2a0a6" stroke-width="0.8"/>
<line x1="166" y1="412.98" x2="166" y2="422.98" stroke="#9a9a9a" stroke-width="0.8"/>
<line x1="163.8" y1="412.98" x2="168.2" y2="412.98" stroke="#9a9a9a" stroke-width="0.8"/>
<line x1="163.8" y1="422.98" x2="168.2" y2="422.98" stroke="#9a9a9a" stroke-width="0.8"/>
<line x1="166" y1="417" x2="166" y2="433" stroke="#a9cdf5" stroke-width="0.8"/>
<line x1="163.8" y1="417" x2="168.2" y2="417" stroke="#a9cdf5" stroke-width="0.8"/>
<line x1="163.8" y1="433" x2="168.2" y2="433" stroke="#a9cdf5" stroke-width="0.8"/>
<line x1="166" y1="446.33" x2="166" y2="457.33" stroke="#f2a0a6" stroke-width="0.8"/>
<line x1="163.8" y1="446.33" x2="168.2" y2="446.33" stroke="#f2a0a6" stroke-width="0.8"/>
<line x1="163.8" y1="457.33" x2="168.2" y2="457.33" stroke="#f2a0a6" stroke-width="0.8"/>
<line x1="195" y1="410.84" x2="195" y2="420.84" stroke="#9a9a9a" stroke-width="0.8"/>
<line x1="192.8" y1="410.84" x2="197.2" y2="410.84" stroke="#9a9a9a" stroke-width="0.8"/>
<line x1="192.8" y1="420.84" x2="197.2" y2="420.84" stroke="#9a9a9a" stroke-width="0.8"/>
<line x1="195" y1="414.56" x2="195" y2="430.56" stroke="#a9cdf5" stroke-width="0.8"/>
<line x1="192.8" y1="414.56" x2="197.2" y2="414.56" stroke="#a9cdf5" stroke-width="0.8"/>
<line x1="192.8" y1="430.56" x2="197.2" y2="430.56" stroke="#a9cdf5" stroke-width="0.8"/>
<line x1="195" y1="444.23" x2="195" y2="458.83" stroke="#f2a0a6" stroke-width="0.8"/>
<line x1="192.8" y1="444.23" x2="197.2" y2="444.23" stroke="#f2a0a6" stroke-width="0.8"/>
<line x1="192.8" y1="458.83" x2="197.2" y2="458.83" stroke="#f2a0a6" stroke-width="0.8"/>
<polygon points="50,403.47 47.3,408.33 52.7,408.33" fill="#fff" stroke="#444" stroke-width="0.7"/>
<polygon points="79,412.93 76.3,417.79 81.7,417.79" fill="#fff" stroke="#444" stroke-width="0.7"/>
<polygon points="108,414.45 105.3,419.31 110.7,419.31" fill="#fff" stroke="#444" stroke-width="0.7"/>
<polygon points="137,411.1 134.3,415.96 139.7,415.96" fill="#fff" stroke="#444" stroke-width="0.7"/>
<polygon points="166,415.06 163.3,419.92 168.7,419.92" fill="#fff" stroke="#444" stroke-width="0.7"/>
<polygon points="195,412.93 192.3,417.79 197.7,417.79" fill="#fff" stroke="#444" stroke-width="0.7"/>
<circle cx="50" cy="391.75" r="2.7" fill="#fff" stroke="#445566" stroke-width="0.7"/>
<circle cx="79" cy="400.29" r="2.7" fill="#fff" stroke="#445566" stroke-width="0.7"/>
<circle cx="108" cy="416.76" r="2.7" fill="#fff" stroke="#445566" stroke-width="0.7"/>
<circle cx="137" cy="431.4" r="2.7" fill="#9cc6f4" stroke="#445566" stroke-width="0.7"/>
<circle cx="166" cy="425" r="2.7" fill="#9cc6f4" stroke="#445566" stroke-width="0.7"/>
<circle cx="195" cy="422.56" r="2.7" fill="#9cc6f4" stroke="#445566" stroke-width="0.7"/>
<rect x="47.5" y="391.08" width="5" height="5" fill="#fff" stroke="#555" stroke-width="0.7"/>
<rect x="76.5" y="430.42" width="5" height="5" fill="#f0868e" stroke="#6a4a4c" stroke-width="0.7"/>
<rect x="105.5" y="438.35" width="5" height="5" fill="#f0868e" stroke="#6a4a4c" stroke-width="0.7"/>
<rect x="134.5" y="451.16" width="5" height="5" fill="#f0868e" stroke="#6a4a4c" stroke-width="0.7"/>
<rect x="163.5" y="449.33" width="5" height="5" fill="#f0868e" stroke="#6a4a4c" stroke-width="0.7"/>
<rect x="192.5" y="449.03" width="5" height="5" fill="#f0868e" stroke="#6a4a4c" stroke-width="0.7"/>
<rect x="135.2" y="401.4" width="3.6" height="3.6" fill="#ee2428" stroke="none" stroke-width="0"/>
<rect x="164.2" y="404.9" width="3.6" height="3.6" fill="#ee2428" stroke="none" stroke-width="0"/>
<rect x="193.2" y="404.2" width="3.6" height="3.6" fill="#ee2428" stroke="none" stroke-width="0"/>
<text x="343.3" y="11.2" font-size="14" text-anchor="middle" fill="#000" font-weight="bold">MADRS</text>
<text x="261.8" y="85.5" font-size="7.4" text-anchor="middle" fill="#000" font-weight="bold" transform="rotate(-90 261.8 85.5)" textLength="88.6" lengthAdjust="spacingAndGlyphs">MADRS- individual score</text>
<line x1="276.2" y1="32" x2="276.2" y2="144.1" stroke="#1a1a1a" stroke-width="1.25"/>
<line x1="273.2" y1="143.5" x2="442.5" y2="143.5" stroke="#1a1a1a" stroke-width="1.2"/>
<line x1="273.2" y1="143.5" x2="276.2" y2="143.5" stroke="#1a1a1a" stroke-width="1"/>
<text x="273" y="146.7" font-size="8" text-anchor="end" fill="#111" textLength="3.7" lengthAdjust="spacingAndGlyphs">0</text>
<line x1="273.2" y1="121.3" x2="276.2" y2="121.3" stroke="#1a1a1a" stroke-width="1"/>
<text x="273" y="124.5" font-size="8" text-anchor="end" fill="#111" textLength="7.4" lengthAdjust="spacingAndGlyphs">10</text>
<line x1="273.2" y1="99.1" x2="276.2" y2="99.1" stroke="#1a1a1a" stroke-width="1"/>
<text x="273" y="102.3" font-size="8" text-anchor="end" fill="#111" textLength="7.4" lengthAdjust="spacingAndGlyphs">20</text>
<line x1="273.2" y1="76.9" x2="276.2" y2="76.9" stroke="#1a1a1a" stroke-width="1"/>
<text x="273" y="80.1" font-size="8" text-anchor="end" fill="#111" textLength="7.4" lengthAdjust="spacingAndGlyphs">30</text>
<line x1="273.2" y1="54.7" x2="276.2" y2="54.7" stroke="#1a1a1a" stroke-width="1"/>
<text x="273" y="57.9" font-size="8" text-anchor="end" fill="#111" textLength="7.4" lengthAdjust="spacingAndGlyphs">40</text>
<line x1="273.2" y1="32.5" x2="276.2" y2="32.5" stroke="#1a1a1a" stroke-width="1"/>
<text x="273" y="35.7" font-size="8" text-anchor="end" fill="#111" textLength="7.4" lengthAdjust="spacingAndGlyphs">50</text>
<line x1="282.5" y1="143.5" x2="282.5" y2="146.3" stroke="#222" stroke-width="1"/>
<text x="283.5" y="150.8" font-size="6.2" text-anchor="end" fill="#111" transform="rotate(-45 283.5 150.8)" textLength="20.6" lengthAdjust="spacingAndGlyphs" stroke="#111" stroke-width="0.15">baseline</text>
<line x1="291.4" y1="143.5" x2="291.4" y2="146.3" stroke="#222" stroke-width="1"/>
<text x="292.4" y="150.8" font-size="6.2" text-anchor="end" fill="#111" transform="rotate(-45 292.4 150.8)" textLength="25.5" lengthAdjust="spacingAndGlyphs" stroke="#111" stroke-width="0.15">session 10</text>
<line x1="300.1" y1="143.5" x2="300.1" y2="146.3" stroke="#222" stroke-width="1"/>
<text x="301.1" y="150.8" font-size="6.2" text-anchor="end" fill="#111" transform="rotate(-45 301.1 150.8)" textLength="25.5" lengthAdjust="spacingAndGlyphs" stroke="#111" stroke-width="0.15">session 20</text>
<line x1="309" y1="143.5" x2="309" y2="146.3" stroke="#222" stroke-width="1"/>
<text x="310" y="150.8" font-size="6.2" text-anchor="end" fill="#111" transform="rotate(-45 310 150.8)" textLength="25.5" lengthAdjust="spacingAndGlyphs" stroke="#111" stroke-width="0.15">session 30</text>
<line x1="317.7" y1="143.5" x2="317.7" y2="146.3" stroke="#222" stroke-width="1"/>
<text x="318.7" y="150.8" font-size="6.2" text-anchor="end" fill="#111" transform="rotate(-45 318.7 150.8)" textLength="40.2" lengthAdjust="spacingAndGlyphs" stroke="#111" stroke-width="0.15">1-mo follow-up</text>
<line x1="326.5" y1="143.5" x2="326.5" y2="146.3" stroke="#222" stroke-width="1"/>
<text x="327.5" y="150.8" font-size="6.2" text-anchor="end" fill="#111" transform="rotate(-45 327.5 150.8)" textLength="41.2" lengthAdjust="spacingAndGlyphs" stroke="#111" stroke-width="0.15">3-mo follow-up</text>
<line x1="338.4" y1="143.5" x2="338.4" y2="146.3" stroke="#222" stroke-width="1"/>
<text x="339.4" y="150.8" font-size="6.2" text-anchor="end" fill="#111" transform="rotate(-45 339.4 150.8)" textLength="20.6" lengthAdjust="spacingAndGlyphs" stroke="#111" stroke-width="0.15">baseline</text>
<line x1="347.3" y1="143.5" x2="347.3" y2="146.3" stroke="#222" stroke-width="1"/>
<text x="348.3" y="150.8" font-size="6.2" text-anchor="end" fill="#111" transform="rotate(-45 348.3 150.8)" textLength="25.5" lengthAdjust="spacingAndGlyphs" stroke="#111" stroke-width="0.15">session 10</text>
<line x1="356.2" y1="143.5" x2="356.2" y2="146.3" stroke="#222" stroke-width="1"/>
<text x="357.2" y="150.8" font-size="6.2" text-anchor="end" fill="#111" transform="rotate(-45 357.2 150.8)" textLength="25.5" lengthAdjust="spacingAndGlyphs" stroke="#111" stroke-width="0.15">session 20</text>
<line x1="365.2" y1="143.5" x2="365.2" y2="146.3" stroke="#222" stroke-width="1"/>
<text x="366.2" y="150.8" font-size="6.2" text-anchor="end" fill="#111" transform="rotate(-45 366.2 150.8)" textLength="25.5" lengthAdjust="spacingAndGlyphs" stroke="#111" stroke-width="0.15">session 30</text>
<line x1="374.3" y1="143.5" x2="374.3" y2="146.3" stroke="#222" stroke-width="1"/>
<text x="375.3" y="150.8" font-size="6.2" text-anchor="end" fill="#111" transform="rotate(-45 375.3 150.8)" textLength="40.2" lengthAdjust="spacingAndGlyphs" stroke="#111" stroke-width="0.15">1-mo follow-up</text>
<line x1="383" y1="143.5" x2="383" y2="146.3" stroke="#222" stroke-width="1"/>
<text x="384" y="150.8" font-size="6.2" text-anchor="end" fill="#111" transform="rotate(-45 384 150.8)" textLength="41.2" lengthAdjust="spacingAndGlyphs" stroke="#111" stroke-width="0.15">3-mo follow-up</text>
<line x1="392.2" y1="143.5" x2="392.2" y2="146.3" stroke="#222" stroke-width="1"/>
<text x="393.2" y="150.8" font-size="6.2" text-anchor="end" fill="#111" transform="rotate(-45 393.2 150.8)" textLength="20.6" lengthAdjust="spacingAndGlyphs" stroke="#111" stroke-width="0.15">baseline</text>
<line x1="401" y1="143.5" x2="401" y2="146.3" stroke="#222" stroke-width="1"/>
<text x="402" y="150.8" font-size="6.2" text-anchor="end" fill="#111" transform="rotate(-45 402 150.8)" textLength="25.5" lengthAdjust="spacingAndGlyphs" stroke="#111" stroke-width="0.15">session 10</text>
<line x1="409.8" y1="143.5" x2="409.8" y2="146.3" stroke="#222" stroke-width="1"/>
<text x="410.8" y="150.8" font-size="6.2" text-anchor="end" fill="#111" transform="rotate(-45 410.8 150.8)" textLength="25.5" lengthAdjust="spacingAndGlyphs" stroke="#111" stroke-width="0.15">session 20</text>
<line x1="418.7" y1="143.5" x2="418.7" y2="146.3" stroke="#222" stroke-width="1"/>
<text x="419.7" y="150.8" font-size="6.2" text-anchor="end" fill="#111" transform="rotate(-45 419.7 150.8)" textLength="25.5" lengthAdjust="spacingAndGlyphs" stroke="#111" stroke-width="0.15">session 30</text>
<line x1="427.4" y1="143.5" x2="427.4" y2="146.3" stroke="#222" stroke-width="1"/>
<text x="428.4" y="150.8" font-size="6.2" text-anchor="end" fill="#111" transform="rotate(-45 428.4 150.8)" textLength="40.2" lengthAdjust="spacingAndGlyphs" stroke="#111" stroke-width="0.15">1-mo follow-up</text>
<line x1="436.5" y1="143.5" x2="436.5" y2="146.3" stroke="#222" stroke-width="1"/>
<text x="437.5" y="150.8" font-size="6.2" text-anchor="end" fill="#111" transform="rotate(-45 437.5 150.8)" textLength="41.2" lengthAdjust="spacingAndGlyphs" stroke="#111" stroke-width="0.15">3-mo follow-up</text>
<line x1="279.3" y1="79.44" x2="285.7" y2="79.44" stroke="#111" stroke-width="0.9"/>
<line x1="288.2" y1="108.35" x2="294.6" y2="108.35" stroke="#111" stroke-width="0.9"/>
<line x1="296.9" y1="111.94" x2="303.3" y2="111.94" stroke="#111" stroke-width="0.9"/>
<line x1="305.8" y1="122.34" x2="312.2" y2="122.34" stroke="#111" stroke-width="0.9"/>
<line x1="314.5" y1="123.89" x2="320.9" y2="123.89" stroke="#111" stroke-width="0.9"/>
<line x1="323.3" y1="119.24" x2="329.7" y2="119.24" stroke="#111" stroke-width="0.9"/>
<line x1="335.2" y1="69.39" x2="341.6" y2="69.39" stroke="#111" stroke-width="0.9"/>
<line x1="344.1" y1="79.42" x2="350.5" y2="79.42" stroke="#111" stroke-width="0.9"/>
<line x1="353" y1="94.34" x2="359.4" y2="94.34" stroke="#111" stroke-width="0.9"/>
<line x1="362" y1="103.12" x2="368.4" y2="103.12" stroke="#111" stroke-width="0.9"/>
<line x1="371.1" y1="98.06" x2="377.5" y2="98.06" stroke="#111" stroke-width="0.9"/>
<line x1="379.8" y1="97.03" x2="386.2" y2="97.03" stroke="#111" stroke-width="0.9"/>
<line x1="389" y1="83" x2="395.4" y2="83" stroke="#111" stroke-width="0.9"/>
<line x1="397.8" y1="94.51" x2="404.2" y2="94.51" stroke="#111" stroke-width="0.9"/>
<line x1="406.6" y1="93.83" x2="413" y2="93.83" stroke="#111" stroke-width="0.9"/>
<line x1="415.5" y1="94.66" x2="421.9" y2="94.66" stroke="#111" stroke-width="0.9"/>
<line x1="424.2" y1="96.74" x2="430.6" y2="96.74" stroke="#111" stroke-width="0.9"/>
<line x1="433.3" y1="89.88" x2="439.7" y2="89.88" stroke="#111" stroke-width="0.9"/>
<rect x="279.95" y="54.37" width="5.1" height="5.1" fill="#f6a3aa" stroke="#4a3033" stroke-width="0.6"/>
<rect x="279.95" y="56.59" width="5.1" height="5.1" fill="#f6a3aa" stroke="#4a3033" stroke-width="0.6"/>
<rect x="279.95" y="61.03" width="5.1" height="5.1" fill="#f6a3aa" stroke="#4a3033" stroke-width="0.6"/>
<rect x="279.95" y="61.03" width="5.1" height="5.1" fill="#f6a3aa" stroke="#4a3033" stroke-width="0.6"/>
<rect x="279.95" y="63.25" width="5.1" height="5.1" fill="#f6a3aa" stroke="#4a3033" stroke-width="0.6"/>
<rect x="279.95" y="74.35" width="5.1" height="5.1" fill="#f6a3aa" stroke="#4a3033" stroke-width="0.6"/>
<rect x="279.95" y="74.35" width="5.1" height="5.1" fill="#f6a3aa" stroke="#4a3033" stroke-width="0.6"/>
<rect x="279.95" y="78.79" width="5.1" height="5.1" fill="#f6a3aa" stroke="#4a3033" stroke-width="0.6"/>
<rect x="279.95" y="85.45" width="5.1" height="5.1" fill="#f6a3aa" stroke="#4a3033" stroke-width="0.6"/>
<rect x="279.95" y="87.67" width="5.1" height="5.1" fill="#f6a3aa" stroke="#4a3033" stroke-width="0.6"/>
<rect x="279.95" y="92.11" width="5.1" height="5.1" fill="#f6a3aa" stroke="#4a3033" stroke-width="0.6"/>
<rect x="279.95" y="94.33" width="5.1" height="5.1" fill="#f6a3aa" stroke="#4a3033" stroke-width="0.6"/>
<rect x="279.95" y="96.55" width="5.1" height="5.1" fill="#f6a3aa" stroke="#4a3033" stroke-width="0.6"/>
<rect x="279.95" y="96.55" width="5.1" height="5.1" fill="#f6a3aa" stroke="#4a3033" stroke-width="0.6"/>
<rect x="288.85" y="78.79" width="5.1" height="5.1" fill="#f6a3aa" stroke="#4a3033" stroke-width="0.6"/>
<rect x="288.85" y="81.01" width="5.1" height="5.1" fill="#f6a3aa" stroke="#4a3033" stroke-width="0.6"/>
<rect x="288.85" y="87.67" width="5.1" height="5.1" fill="#f6a3aa" stroke="#4a3033" stroke-width="0.6"/>
<rect x="288.85" y="96.55" width="5.1" height="5.1" fill="#f6a3aa" stroke="#4a3033" stroke-width="0.6"/>
<rect x="288.85" y="98.77" width="5.1" height="5.1" fill="#f6a3aa" stroke="#4a3033" stroke-width="0.6"/>
<rect x="288.85" y="103.21" width="5.1" height="5.1" fill="#f6a3aa" stroke="#4a3033" stroke-width="0.6"/>
<rect x="288.85" y="107.65" width="5.1" height="5.1" fill="#f6a3aa" stroke="#4a3033" stroke-width="0.6"/>
<rect x="288.85" y="116.53" width="5.1" height="5.1" fill="#f6a3aa" stroke="#4a3033" stroke-width="0.6"/>
<rect x="288.85" y="118.75" width="5.1" height="5.1" fill="#f6a3aa" stroke="#4a3033" stroke-width="0.6"/>
<rect x="288.85" y="123.19" width="5.1" height="5.1" fill="#f6a3aa" stroke="#4a3033" stroke-width="0.6"/>
<rect x="288.85" y="125.41" width="5.1" height="5.1" fill="#f6a3aa" stroke="#4a3033" stroke-width="0.6"/>
<rect x="288.85" y="132.07" width="5.1" height="5.1" fill="#f6a3aa" stroke="#4a3033" stroke-width="0.6"/>
<rect x="297.55" y="78.79" width="5.1" height="5.1" fill="#f6a3aa" stroke="#4a3033" stroke-width="0.6"/>
<rect x="297.55" y="87.67" width="5.1" height="5.1" fill="#f6a3aa" stroke="#4a3033" stroke-width="0.6"/>
<rect x="297.55" y="96.55" width="5.1" height="5.1" fill="#f6a3aa" stroke="#4a3033" stroke-width="0.6"/>
<rect x="297.55" y="96.55" width="5.1" height="5.1" fill="#f6a3aa" stroke="#4a3033" stroke-width="0.6"/>
<rect x="297.55" y="100.99" width="5.1" height="5.1" fill="#f6a3aa" stroke="#4a3033" stroke-width="0.6"/>
<rect x="297.55" y="103.21" width="5.1" height="5.1" fill="#f6a3aa" stroke="#4a3033" stroke-width="0.6"/>
<rect x="297.55" y="105.43" width="5.1" height="5.1" fill="#f6a3aa" stroke="#4a3033" stroke-width="0.6"/>
<rect x="297.55" y="112.09" width="5.1" height="5.1" fill="#f6a3aa" stroke="#4a3033" stroke-width="0.6"/>
<rect x="297.55" y="118.75" width="5.1" height="5.1" fill="#f6a3aa" stroke="#4a3033" stroke-width="0.6"/>
<rect x="297.55" y="120.97" width="5.1" height="5.1" fill="#f6a3aa" stroke="#4a3033" stroke-width="0.6"/>
<rect x="297.55" y="123.19" width="5.1" height="5.1" fill="#f6a3aa" stroke="#4a3033" stroke-width="0.6"/>
<rect x="297.55" y="125.41" width="5.1" height="5.1" fill="#f6a3aa" stroke="#4a3033" stroke-width="0.6"/>
<rect x="297.55" y="129.85" width="5.1" height="5.1" fill="#f6a3aa" stroke="#4a3033" stroke-width="0.6"/>
<rect x="297.55" y="132.07" width="5.1" height="5.1" fill="#f6a3aa" stroke="#4a3033" stroke-width="0.6"/>
<rect x="306.45" y="87.67" width="5.1" height="5.1" fill="#f6a3aa" stroke="#4a3033" stroke-width="0.6"/>
<rect x="306.45" y="96.55" width="5.1" height="5.1" fill="#f6a3aa" stroke="#4a3033" stroke-width="0.6"/>
<rect x="306.45" y="105.43" width="5.1" height="5.1" fill="#f6a3aa" stroke="#4a3033" stroke-width="0.6"/>
<rect x="306.45" y="109.87" width="5.1" height="5.1" fill="#f6a3aa" stroke="#4a3033" stroke-width="0.6"/>
<rect x="306.45" y="112.09" width="5.1" height="5.1" fill="#f6a3aa" stroke="#4a3033" stroke-width="0.6"/>
<rect x="306.45" y="114.31" width="5.1" height="5.1" fill="#f6a3aa" stroke="#4a3033" stroke-width="0.6"/>
<rect x="306.45" y="118.75" width="5.1" height="5.1" fill="#f6a3aa" stroke="#4a3033" stroke-width="0.6"/>
<rect x="306.45" y="120.97" width="5.1" height="5.1" fill="#f6a3aa" stroke="#4a3033" stroke-width="0.6"/>
<rect x="306.45" y="123.19" width="5.1" height="5.1" fill="#f6a3aa" stroke="#4a3033" stroke-width="0.6"/>
<rect x="306.45" y="127.63" width="5.1" height="5.1" fill="#f6a3aa" stroke="#4a3033" stroke-width="0.6"/>
<rect x="306.45" y="129.85" width="5.1" height="5.1" fill="#f6a3aa" stroke="#4a3033" stroke-width="0.6"/>
<rect x="306.45" y="134.29" width="5.1" height="5.1" fill="#f6a3aa" stroke="#4a3033" stroke-width="0.6"/>
<rect x="306.45" y="136.51" width="5.1" height="5.1" fill="#f6a3aa" stroke="#4a3033" stroke-width="0.6"/>
<rect x="306.45" y="138.73" width="5.1" height="5.1" fill="#f6a3aa" stroke="#4a3033" stroke-width="0.6"/>
<rect x="306.45" y="140.95" width="5.1" height="5.1" fill="#f6a3aa" stroke="#4a3033" stroke-width="0.6"/>
<rect x="315.15" y="96.55" width="5.1" height="5.1" fill="#f6a3aa" stroke="#4a3033" stroke-width="0.6"/>
<rect x="315.15" y="105.43" width="5.1" height="5.1" fill="#f6a3aa" stroke="#4a3033" stroke-width="0.6"/>
<rect x="315.15" y="105.43" width="5.1" height="5.1" fill="#f6a3aa" stroke="#4a3033" stroke-width="0.6"/>
<rect x="315.15" y="114.31" width="5.1" height="5.1" fill="#f6a3aa" stroke="#4a3033" stroke-width="0.6"/>
<rect x="315.15" y="118.75" width="5.1" height="5.1" fill="#f6a3aa" stroke="#4a3033" stroke-width="0.6"/>
<rect x="315.15" y="120.97" width="5.1" height="5.1" fill="#f6a3aa" stroke="#4a3033" stroke-width="0.6"/>
<rect x="315.15" y="123.19" width="5.1" height="5.1" fill="#f6a3aa" stroke="#4a3033" stroke-width="0.6"/>
<rect x="315.15" y="129.85" width="5.1" height="5.1" fill="#f6a3aa" stroke="#4a3033" stroke-width="0.6"/>
<rect x="315.15" y="132.07" width="5.1" height="5.1" fill="#f6a3aa" stroke="#4a3033" stroke-width="0.6"/>
<rect x="315.15" y="134.29" width="5.1" height="5.1" fill="#f6a3aa" stroke="#4a3033" stroke-width="0.6"/>
<rect x="315.15" y="136.51" width="5.1" height="5.1" fill="#f6a3aa" stroke="#4a3033" stroke-width="0.6"/>
<rect x="315.15" y="138.73" width="5.1" height="5.1" fill="#f6a3aa" stroke="#4a3033" stroke-width="0.6"/>
<rect x="323.95" y="58.81" width="5.1" height="5.1" fill="#f6a3aa" stroke="#4a3033" stroke-width="0.6"/>
<rect x="323.95" y="81.01" width="5.1" height="5.1" fill="#f6a3aa" stroke="#4a3033" stroke-width="0.6"/>
<rect x="323.95" y="96.55" width="5.1" height="5.1" fill="#f6a3aa" stroke="#4a3033" stroke-width="0.6"/>
<rect x="323.95" y="114.31" width="5.1" height="5.1" fill="#f6a3aa" stroke="#4a3033" stroke-width="0.6"/>
<rect x="323.95" y="118.75" width="5.1" height="5.1" fill="#f6a3aa" stroke="#4a3033" stroke-width="0.6"/>
<rect x="323.95" y="118.75" width="5.1" height="5.1" fill="#f6a3aa" stroke="#4a3033" stroke-width="0.6"/>
<rect x="323.95" y="120.97" width="5.1" height="5.1" fill="#f6a3aa" stroke="#4a3033" stroke-width="0.6"/>
<rect x="323.95" y="123.19" width="5.1" height="5.1" fill="#f6a3aa" stroke="#4a3033" stroke-width="0.6"/>
<rect x="323.95" y="123.19" width="5.1" height="5.1" fill="#f6a3aa" stroke="#4a3033" stroke-width="0.6"/>
<rect x="323.95" y="129.85" width="5.1" height="5.1" fill="#f6a3aa" stroke="#4a3033" stroke-width="0.6"/>
<rect x="323.95" y="132.07" width="5.1" height="5.1" fill="#f6a3aa" stroke="#4a3033" stroke-width="0.6"/>
<rect x="323.95" y="136.51" width="5.1" height="5.1" fill="#f6a3aa" stroke="#4a3033" stroke-width="0.6"/>
<rect x="323.95" y="138.73" width="5.1" height="5.1" fill="#f6a3aa" stroke="#4a3033" stroke-width="0.6"/>
<rect x="323.95" y="140.95" width="5.1" height="5.1" fill="#f6a3aa" stroke="#4a3033" stroke-width="0.6"/>
<circle cx="338.4" cy="41.38" r="2.5" fill="#9fc7f5" stroke="#34495f" stroke-width="0.6"/>
<circle cx="338.4" cy="43.6" r="2.5" fill="#9fc7f5" stroke="#34495f" stroke-width="0.6"/>
<circle cx="338.4" cy="54.7" r="2.5" fill="#9fc7f5" stroke="#34495f" stroke-width="0.6"/>
<circle cx="338.4" cy="56.92" r="2.5" fill="#9fc7f5" stroke="#34495f" stroke-width="0.6"/>
<circle cx="338.4" cy="61.36" r="2.5" fill="#9fc7f5" stroke="#34495f" stroke-width="0.6"/>
<circle cx="338.4" cy="63.58" r="2.5" fill="#9fc7f5" stroke="#34495f" stroke-width="0.6"/>
<circle cx="338.4" cy="65.8" r="2.5" fill="#9fc7f5" stroke="#34495f" stroke-width="0.6"/>
<circle cx="338.4" cy="72.46" r="2.5" fill="#9fc7f5" stroke="#34495f" stroke-width="0.6"/>
<circle cx="338.4" cy="83.56" r="2.5" fill="#9fc7f5" stroke="#34495f" stroke-width="0.6"/>
<circle cx="338.4" cy="85.78" r="2.5" fill="#9fc7f5" stroke="#34495f" stroke-width="0.6"/>
<circle cx="338.4" cy="88" r="2.5" fill="#9fc7f5" stroke="#34495f" stroke-width="0.6"/>
<circle cx="338.4" cy="90.22" r="2.5" fill="#9fc7f5" stroke="#34495f" stroke-width="0.6"/>
<circle cx="338.4" cy="94.66" r="2.5" fill="#9fc7f5" stroke="#34495f" stroke-width="0.6"/>
<circle cx="347.3" cy="43.6" r="2.5" fill="#9fc7f5" stroke="#34495f" stroke-width="0.6"/>
<circle cx="347.3" cy="54.7" r="2.5" fill="#9fc7f5" stroke="#34495f" stroke-width="0.6"/>
<circle cx="347.3" cy="56.92" r="2.5" fill="#9fc7f5" stroke="#34495f" stroke-width="0.6"/>
<circle cx="347.3" cy="59.14" r="2.5" fill="#9fc7f5" stroke="#34495f" stroke-width="0.6"/>
<circle cx="347.3" cy="63.58" r="2.5" fill="#9fc7f5" stroke="#34495f" stroke-width="0.6"/>
<circle cx="347.3" cy="65.8" r="2.5" fill="#9fc7f5" stroke="#34495f" stroke-width="0.6"/>
<circle cx="347.3" cy="83.56" r="2.5" fill="#9fc7f5" stroke="#34495f" stroke-width="0.6"/>
<circle cx="347.3" cy="85.78" r="2.5" fill="#9fc7f5" stroke="#34495f" stroke-width="0.6"/>
<circle cx="347.3" cy="88" r="2.5" fill="#9fc7f5" stroke="#34495f" stroke-width="0.6"/>
<circle cx="347.3" cy="90.22" r="2.5" fill="#9fc7f5" stroke="#34495f" stroke-width="0.6"/>
<circle cx="347.3" cy="92.44" r="2.5" fill="#9fc7f5" stroke="#34495f" stroke-width="0.6"/>
<circle cx="347.3" cy="94.66" r="2.5" fill="#9fc7f5" stroke="#34495f" stroke-width="0.6"/>
<circle cx="347.3" cy="99.1" r="2.5" fill="#9fc7f5" stroke="#34495f" stroke-width="0.6"/>
<circle cx="347.3" cy="105.76" r="2.5" fill="#9fc7f5" stroke="#34495f" stroke-width="0.6"/>
<circle cx="347.3" cy="107.98" r="2.5" fill="#9fc7f5" stroke="#34495f" stroke-width="0.6"/>
<circle cx="356.2" cy="56.92" r="2.5" fill="#9fc7f5" stroke="#34495f" stroke-width="0.6"/>
<circle cx="356.2" cy="72.46" r="2.5" fill="#9fc7f5" stroke="#34495f" stroke-width="0.6"/>
<circle cx="356.2" cy="72.46" r="2.5" fill="#9fc7f5" stroke="#34495f" stroke-width="0.6"/>
<circle cx="356.2" cy="79.12" r="2.5" fill="#9fc7f5" stroke="#34495f" stroke-width="0.6"/>
<circle cx="356.2" cy="81.34" r="2.5" fill="#9fc7f5" stroke="#34495f" stroke-width="0.6"/>
<circle cx="356.2" cy="92.44" r="2.5" fill="#9fc7f5" stroke="#34495f" stroke-width="0.6"/>
<circle cx="356.2" cy="94.66" r="2.5" fill="#9fc7f5" stroke="#34495f" stroke-width="0.6"/>
<circle cx="356.2" cy="99.1" r="2.5" fill="#9fc7f5" stroke="#34495f" stroke-width="0.6"/>
<circle cx="356.2" cy="105.76" r="2.5" fill="#9fc7f5" stroke="#34495f" stroke-width="0.6"/>
<circle cx="356.2" cy="107.98" r="2.5" fill="#9fc7f5" stroke="#34495f" stroke-width="0.6"/>
<circle cx="356.2" cy="110.2" r="2.5" fill="#9fc7f5" stroke="#34495f" stroke-width="0.6"/>
<circle cx="356.2" cy="112.42" r="2.5" fill="#9fc7f5" stroke="#34495f" stroke-width="0.6"/>
<circle cx="356.2" cy="116.86" r="2.5" fill="#9fc7f5" stroke="#34495f" stroke-width="0.6"/>
<circle cx="356.2" cy="119.08" r="2.5" fill="#9fc7f5" stroke="#34495f" stroke-width="0.6"/>
<circle cx="365.2" cy="56.92" r="2.5" fill="#9fc7f5" stroke="#34495f" stroke-width="0.6"/>
<circle cx="365.2" cy="76.9" r="2.5" fill="#9fc7f5" stroke="#34495f" stroke-width="0.6"/>
<circle cx="365.2" cy="76.9" r="2.5" fill="#9fc7f5" stroke="#34495f" stroke-width="0.6"/>
<circle cx="365.2" cy="81.34" r="2.5" fill="#9fc7f5" stroke="#34495f" stroke-width="0.6"/>
<circle cx="365.2" cy="83.56" r="2.5" fill="#9fc7f5" stroke="#34495f" stroke-width="0.6"/>
<circle cx="365.2" cy="85.78" r="2.5" fill="#9fc7f5" stroke="#34495f" stroke-width="0.6"/>
<circle cx="365.2" cy="90.22" r="2.5" fill="#9fc7f5" stroke="#34495f" stroke-width="0.6"/>
<circle cx="365.2" cy="92.44" r="2.5" fill="#9fc7f5" stroke="#34495f" stroke-width="0.6"/>
<circle cx="365.2" cy="94.66" r="2.5" fill="#9fc7f5" stroke="#34495f" stroke-width="0.6"/>
<circle cx="365.2" cy="99.1" r="2.5" fill="#9fc7f5" stroke="#34495f" stroke-width="0.6"/>
<circle cx="365.2" cy="101.32" r="2.5" fill="#9fc7f5" stroke="#34495f" stroke-width="0.6"/>
<circle cx="365.2" cy="103.54" r="2.5" fill="#9fc7f5" stroke="#34495f" stroke-width="0.6"/>
<circle cx="365.2" cy="105.76" r="2.5" fill="#9fc7f5" stroke="#34495f" stroke-width="0.6"/>
<circle cx="365.2" cy="110.2" r="2.5" fill="#9fc7f5" stroke="#34495f" stroke-width="0.6"/>
<circle cx="365.2" cy="116.86" r="2.5" fill="#9fc7f5" stroke="#34495f" stroke-width="0.6"/>
<circle cx="365.2" cy="123.52" r="2.5" fill="#9fc7f5" stroke="#34495f" stroke-width="0.6"/>
<circle cx="365.2" cy="125.74" r="2.5" fill="#9fc7f5" stroke="#34495f" stroke-width="0.6"/>
<circle cx="365.2" cy="130.18" r="2.5" fill="#9fc7f5" stroke="#34495f" stroke-width="0.6"/>
<circle cx="365.2" cy="132.4" r="2.5" fill="#9fc7f5" stroke="#34495f" stroke-width="0.6"/>
<circle cx="365.2" cy="136.84" r="2.5" fill="#9fc7f5" stroke="#34495f" stroke-width="0.6"/>
<circle cx="365.2" cy="141.28" r="2.5" fill="#9fc7f5" stroke="#34495f" stroke-width="0.6"/>
<circle cx="374.3" cy="45.82" r="2.5" fill="#9fc7f5" stroke="#34495f" stroke-width="0.6"/>
<circle cx="374.3" cy="65.8" r="2.5" fill="#9fc7f5" stroke="#34495f" stroke-width="0.6"/>
<circle cx="374.3" cy="81.34" r="2.5" fill="#9fc7f5" stroke="#34495f" stroke-width="0.6"/>
<circle cx="374.3" cy="83.56" r="2.5" fill="#9fc7f5" stroke="#34495f" stroke-width="0.6"/>
<circle cx="374.3" cy="88" r="2.5" fill="#9fc7f5" stroke="#34495f" stroke-width="0.6"/>
<circle cx="374.3" cy="90.22" r="2.5" fill="#9fc7f5" stroke="#34495f" stroke-width="0.6"/>
<circle cx="374.3" cy="94.66" r="2.5" fill="#9fc7f5" stroke="#34495f" stroke-width="0.6"/>
<circle cx="374.3" cy="96.88" r="2.5" fill="#9fc7f5" stroke="#34495f" stroke-width="0.6"/>
<circle cx="374.3" cy="99.1" r="2.5" fill="#9fc7f5" stroke="#34495f" stroke-width="0.6"/>
<circle cx="374.3" cy="105.76" r="2.5" fill="#9fc7f5" stroke="#34495f" stroke-width="0.6"/>
<circle cx="374.3" cy="107.98" r="2.5" fill="#9fc7f5" stroke="#34495f" stroke-width="0.6"/>
<circle cx="374.3" cy="110.2" r="2.5" fill="#9fc7f5" stroke="#34495f" stroke-width="0.6"/>
<circle cx="374.3" cy="125.74" r="2.5" fill="#9fc7f5" stroke="#34495f" stroke-width="0.6"/>
<circle cx="374.3" cy="136.84" r="2.5" fill="#9fc7f5" stroke="#34495f" stroke-width="0.6"/>
<circle cx="374.3" cy="139.06" r="2.5" fill="#9fc7f5" stroke="#34495f" stroke-width="0.6"/>
<circle cx="383" cy="50.26" r="2.5" fill="#9fc7f5" stroke="#34495f" stroke-width="0.6"/>
<circle cx="383" cy="63.58" r="2.5" fill="#9fc7f5" stroke="#34495f" stroke-width="0.6"/>
<circle cx="383" cy="65.8" r="2.5" fill="#9fc7f5" stroke="#34495f" stroke-width="0.6"/>
<circle cx="383" cy="81.34" r="2.5" fill="#9fc7f5" stroke="#34495f" stroke-width="0.6"/>
<circle cx="383" cy="83.56" r="2.5" fill="#9fc7f5" stroke="#34495f" stroke-width="0.6"/>
<circle cx="383" cy="90.22" r="2.5" fill="#9fc7f5" stroke="#34495f" stroke-width="0.6"/>
<circle cx="383" cy="92.44" r="2.5" fill="#9fc7f5" stroke="#34495f" stroke-width="0.6"/>
<circle cx="383" cy="94.66" r="2.5" fill="#9fc7f5" stroke="#34495f" stroke-width="0.6"/>
<circle cx="383" cy="99.1" r="2.5" fill="#9fc7f5" stroke="#34495f" stroke-width="0.6"/>
<circle cx="383" cy="103.54" r="2.5" fill="#9fc7f5" stroke="#34495f" stroke-width="0.6"/>
<circle cx="383" cy="105.76" r="2.5" fill="#9fc7f5" stroke="#34495f" stroke-width="0.6"/>
<circle cx="383" cy="119.08" r="2.5" fill="#9fc7f5" stroke="#34495f" stroke-width="0.6"/>
<circle cx="383" cy="130.18" r="2.5" fill="#9fc7f5" stroke="#34495f" stroke-width="0.6"/>
<circle cx="383" cy="136.84" r="2.5" fill="#9fc7f5" stroke="#34495f" stroke-width="0.6"/>
<circle cx="383" cy="139.06" r="2.5" fill="#9fc7f5" stroke="#34495f" stroke-width="0.6"/>
<polygon points="392.2,47.45 389.6,52.13 394.8,52.13" fill="#fff" stroke="#333" stroke-width="0.7"/>
<polygon points="392.2,58.55 389.6,63.23 394.8,63.23" fill="#fff" stroke="#333" stroke-width="0.7"/>
<polygon points="392.2,60.77 389.6,65.45 394.8,65.45" fill="#fff" stroke="#333" stroke-width="0.7"/>
<polygon points="392.2,69.65 389.6,74.33 394.8,74.33" fill="#fff" stroke="#333" stroke-width="0.7"/>
<polygon points="392.2,78.53 389.6,83.21 394.8,83.21" fill="#fff" stroke="#333" stroke-width="0.7"/>
<polygon points="392.2,85.19 389.6,89.87 394.8,89.87" fill="#fff" stroke="#333" stroke-width="0.7"/>
<polygon points="392.2,87.41 389.6,92.09 394.8,92.09" fill="#fff" stroke="#333" stroke-width="0.7"/>
<polygon points="392.2,89.63 389.6,94.31 394.8,94.31" fill="#fff" stroke="#333" stroke-width="0.7"/>
<polygon points="392.2,91.85 389.6,96.53 394.8,96.53" fill="#fff" stroke="#333" stroke-width="0.7"/>
<polygon points="392.2,94.07 389.6,98.75 394.8,98.75" fill="#fff" stroke="#333" stroke-width="0.7"/>
<polygon points="392.2,96.29 389.6,100.97 394.8,100.97" fill="#fff" stroke="#333" stroke-width="0.7"/>
<polygon points="392.2,102.95 389.6,107.63 394.8,107.63" fill="#fff" stroke="#333" stroke-width="0.7"/>
<polygon points="401,56.33 398.4,61.01 403.6,61.01" fill="#fff" stroke="#333" stroke-width="0.7"/>
<polygon points="401,65.21 398.4,69.89 403.6,69.89" fill="#fff" stroke="#333" stroke-width="0.7"/>
<polygon points="401,69.65 398.4,74.33 403.6,74.33" fill="#fff" stroke="#333" stroke-width="0.7"/>
<polygon points="401,74.09 398.4,78.77 403.6,78.77" fill="#fff" stroke="#333" stroke-width="0.7"/>
<polygon points="401,76.31 398.4,80.99 403.6,80.99" fill="#fff" stroke="#333" stroke-width="0.7"/>
<polygon points="401,78.53 398.4,83.21 403.6,83.21" fill="#fff" stroke="#333" stroke-width="0.7"/>
<polygon points="401,85.19 398.4,89.87 403.6,89.87" fill="#fff" stroke="#333" stroke-width="0.7"/>
<polygon points="401,89.63 398.4,94.31 403.6,94.31" fill="#fff" stroke="#333" stroke-width="0.7"/>
<polygon points="401,96.29 398.4,100.97 403.6,100.97" fill="#fff" stroke="#333" stroke-width="0.7"/>
<polygon points="401,98.51 398.4,103.19 403.6,103.19" fill="#fff" stroke="#333" stroke-width="0.7"/>
<polygon points="401,109.61 398.4,114.29 403.6,114.29" fill="#fff" stroke="#333" stroke-width="0.7"/>
<polygon points="401,114.05 398.4,118.73 403.6,118.73" fill="#fff" stroke="#333" stroke-width="0.7"/>
<polygon points="401,118.49 398.4,123.17 403.6,123.17" fill="#fff" stroke="#333" stroke-width="0.7"/>
<polygon points="401,120.71 398.4,125.39 403.6,125.39" fill="#fff" stroke="#333" stroke-width="0.7"/>
<polygon points="401,122.93 398.4,127.61 403.6,127.61" fill="#fff" stroke="#333" stroke-width="0.7"/>
<polygon points="409.8,60.77 407.2,65.45 412.4,65.45" fill="#fff" stroke="#333" stroke-width="0.7"/>
<polygon points="409.8,65.21 407.2,69.89 412.4,69.89" fill="#fff" stroke="#333" stroke-width="0.7"/>
<polygon points="409.8,65.21 407.2,69.89 412.4,69.89" fill="#fff" stroke="#333" stroke-width="0.7"/>
<polygon points="409.8,71.87 407.2,76.55 412.4,76.55" fill="#fff" stroke="#333" stroke-width="0.7"/>
<polygon points="409.8,74.09 407.2,78.77 412.4,78.77" fill="#fff" stroke="#333" stroke-width="0.7"/>
<polygon points="409.8,76.31 407.2,80.99 412.4,80.99" fill="#fff" stroke="#333" stroke-width="0.7"/>
<polygon points="409.8,85.19 407.2,89.87 412.4,89.87" fill="#fff" stroke="#333" stroke-width="0.7"/>
<polygon points="409.8,89.63 407.2,94.31 412.4,94.31" fill="#fff" stroke="#333" stroke-width="0.7"/>
<polygon points="409.8,94.07 407.2,98.75 412.4,98.75" fill="#fff" stroke="#333" stroke-width="0.7"/>
<polygon points="409.8,96.29 407.2,100.97 412.4,100.97" fill="#fff" stroke="#333" stroke-width="0.7"/>
<polygon points="409.8,100.73 407.2,105.41 412.4,105.41" fill="#fff" stroke="#333" stroke-width="0.7"/>
<polygon points="409.8,105.17 407.2,109.85 412.4,109.85" fill="#fff" stroke="#333" stroke-width="0.7"/>
<polygon points="409.8,107.39 407.2,112.07 412.4,112.07" fill="#fff" stroke="#333" stroke-width="0.7"/>
<polygon points="409.8,111.83 407.2,116.51 412.4,116.51" fill="#fff" stroke="#333" stroke-width="0.7"/>
<polygon points="409.8,125.15 407.2,129.83 412.4,129.83" fill="#fff" stroke="#333" stroke-width="0.7"/>
<polygon points="409.8,127.37 407.2,132.05 412.4,132.05" fill="#fff" stroke="#333" stroke-width="0.7"/>
<polygon points="418.7,49.67 416.1,54.35 421.3,54.35" fill="#fff" stroke="#333" stroke-width="0.7"/>
<polygon points="418.7,56.33 416.1,61.01 421.3,61.01" fill="#fff" stroke="#333" stroke-width="0.7"/>
<polygon points="418.7,65.21 416.1,69.89 421.3,69.89" fill="#fff" stroke="#333" stroke-width="0.7"/>
<polygon points="418.7,74.09 416.1,78.77 421.3,78.77" fill="#fff" stroke="#333" stroke-width="0.7"/>
<polygon points="418.7,76.31 416.1,80.99 421.3,80.99" fill="#fff" stroke="#333" stroke-width="0.7"/>
<polygon points="418.7,78.53 416.1,83.21 421.3,83.21" fill="#fff" stroke="#333" stroke-width="0.7"/>
<polygon points="418.7,85.19 416.1,89.87 421.3,89.87" fill="#fff" stroke="#333" stroke-width="0.7"/>
<polygon points="418.7,89.63 416.1,94.31 421.3,94.31" fill="#fff" stroke="#333" stroke-width="0.7"/>
<polygon points="418.7,94.07 416.1,98.75 421.3,98.75" fill="#fff" stroke="#333" stroke-width="0.7"/>
<polygon points="418.7,96.29 416.1,100.97 421.3,100.97" fill="#fff" stroke="#333" stroke-width="0.7"/>
<polygon points="418.7,98.51 416.1,103.19 421.3,103.19" fill="#fff" stroke="#333" stroke-width="0.7"/>
<polygon points="418.7,102.95 416.1,107.63 421.3,107.63" fill="#fff" stroke="#333" stroke-width="0.7"/>
<polygon points="418.7,105.17 416.1,109.85 421.3,109.85" fill="#fff" stroke="#333" stroke-width="0.7"/>
<polygon points="418.7,107.39 416.1,112.07 421.3,112.07" fill="#fff" stroke="#333" stroke-width="0.7"/>
<polygon points="418.7,118.49 416.1,123.17 421.3,123.17" fill="#fff" stroke="#333" stroke-width="0.7"/>
<polygon points="418.7,125.15 416.1,129.83 421.3,129.83" fill="#fff" stroke="#333" stroke-width="0.7"/>
<polygon points="418.7,138.47 416.1,143.15 421.3,143.15" fill="#fff" stroke="#333" stroke-width="0.7"/>
<polygon points="427.4,47.45 424.8,52.13 430,52.13" fill="#fff" stroke="#333" stroke-width="0.7"/>
<polygon points="427.4,62.99 424.8,67.67 430,67.67" fill="#fff" stroke="#333" stroke-width="0.7"/>
<polygon points="427.4,65.21 424.8,69.89 430,69.89" fill="#fff" stroke="#333" stroke-width="0.7"/>
<polygon points="427.4,69.65 424.8,74.33 430,74.33" fill="#fff" stroke="#333" stroke-width="0.7"/>
<polygon points="427.4,82.97 424.8,87.65 430,87.65" fill="#fff" stroke="#333" stroke-width="0.7"/>
<polygon points="427.4,87.41 424.8,92.09 430,92.09" fill="#fff" stroke="#333" stroke-width="0.7"/>
<polygon points="427.4,89.63 424.8,94.31 430,94.31" fill="#fff" stroke="#333" stroke-width="0.7"/>
<polygon points="427.4,91.85 424.8,96.53 430,96.53" fill="#fff" stroke="#333" stroke-width="0.7"/>
<polygon points="427.4,94.07 424.8,98.75 430,98.75" fill="#fff" stroke="#333" stroke-width="0.7"/>
<polygon points="427.4,96.29 424.8,100.97 430,100.97" fill="#fff" stroke="#333" stroke-width="0.7"/>
<polygon points="427.4,98.51 424.8,103.19 430,103.19" fill="#fff" stroke="#333" stroke-width="0.7"/>
<polygon points="427.4,102.95 424.8,107.63 430,107.63" fill="#fff" stroke="#333" stroke-width="0.7"/>
<polygon points="427.4,114.05 424.8,118.73 430,118.73" fill="#fff" stroke="#333" stroke-width="0.7"/>
<polygon points="427.4,129.59 424.8,134.27 430,134.27" fill="#fff" stroke="#333" stroke-width="0.7"/>
<polygon points="427.4,134.03 424.8,138.71 430,138.71" fill="#fff" stroke="#333" stroke-width="0.7"/>
<polygon points="427.4,136.25 424.8,140.93 430,140.93" fill="#fff" stroke="#333" stroke-width="0.7"/>
<polygon points="436.5,47.45 433.9,52.13 439.1,52.13" fill="#fff" stroke="#333" stroke-width="0.7"/>
<polygon points="436.5,49.67 433.9,54.35 439.1,54.35" fill="#fff" stroke="#333" stroke-width="0.7"/>
<polygon points="436.5,56.33 433.9,61.01 439.1,61.01" fill="#fff" stroke="#333" stroke-width="0.7"/>
<polygon points="436.5,65.21 433.9,69.89 439.1,69.89" fill="#fff" stroke="#333" stroke-width="0.7"/>
<polygon points="436.5,69.65 433.9,74.33 439.1,74.33" fill="#fff" stroke="#333" stroke-width="0.7"/>
<polygon points="436.5,89.63 433.9,94.31 439.1,94.31" fill="#fff" stroke="#333" stroke-width="0.7"/>
<polygon points="436.5,91.85 433.9,96.53 439.1,96.53" fill="#fff" stroke="#333" stroke-width="0.7"/>
<polygon points="436.5,94.07 433.9,98.75 439.1,98.75" fill="#fff" stroke="#333" stroke-width="0.7"/>
<polygon points="436.5,96.29 433.9,100.97 439.1,100.97" fill="#fff" stroke="#333" stroke-width="0.7"/>
<polygon points="436.5,109.61 433.9,114.29 439.1,114.29" fill="#fff" stroke="#333" stroke-width="0.7"/>
<polygon points="436.5,109.61 433.9,114.29 439.1,114.29" fill="#fff" stroke="#333" stroke-width="0.7"/>
<polygon points="436.5,120.71 433.9,125.39 439.1,125.39" fill="#fff" stroke="#333" stroke-width="0.7"/>
<polygon points="436.5,131.81 433.9,136.49 439.1,136.49" fill="#fff" stroke="#333" stroke-width="0.7"/>
<rect x="282" y="22.7" width="4.6" height="4.6" fill="#f6a3aa" stroke="#5a3a3c" stroke-width="0.55"/>
<circle cx="284.3" cy="34.2" r="2.4" fill="#9fc7f5" stroke="#3d5570" stroke-width="0.55"/>
<polygon points="284.3,40.81 281.9,45.13 286.7,45.13" fill="#fff" stroke="#333" stroke-width="0.65"/>
<text x="292.2" y="27.4" font-size="6.8" text-anchor="start" fill="#222" textLength="84.8" lengthAdjust="spacingAndGlyphs">optimized multichannel tDCS</text>
<text x="292.2" y="36.6" font-size="6.8" text-anchor="start" fill="#222" textLength="54.5" lengthAdjust="spacingAndGlyphs">conventional tDCS</text>
<text x="292.2" y="45.6" font-size="6.8" text-anchor="start" fill="#222" textLength="33.5" lengthAdjust="spacingAndGlyphs">sham tDCS</text>
<text x="346.3" y="211.2" font-size="14" text-anchor="middle" fill="#000" font-weight="bold">HDRS</text>
<text x="261.8" y="251.8" font-size="7.4" text-anchor="middle" fill="#000" font-weight="bold" transform="rotate(-90 261.8 251.8)" textLength="83.6" lengthAdjust="spacingAndGlyphs">HDRS- individual score</text>
<line x1="276.2" y1="199.1" x2="276.2" y2="310.2" stroke="#1a1a1a" stroke-width="1.25"/>
<line x1="273.2" y1="309.6" x2="442.5" y2="309.6" stroke="#1a1a1a" stroke-width="1.2"/>
<line x1="273.2" y1="309.6" x2="276.2" y2="309.6" stroke="#1a1a1a" stroke-width="1"/>
<text x="273" y="312.8" font-size="8" text-anchor="end" fill="#111" textLength="3.7" lengthAdjust="spacingAndGlyphs">0</text>
<line x1="273.2" y1="287.6" x2="276.2" y2="287.6" stroke="#1a1a1a" stroke-width="1"/>
<text x="273" y="290.8" font-size="8" text-anchor="end" fill="#111" textLength="7.4" lengthAdjust="spacingAndGlyphs">10</text>
<line x1="273.2" y1="265.6" x2="276.2" y2="265.6" stroke="#1a1a1a" stroke-width="1"/>
<text x="273" y="268.8" font-size="8" text-anchor="end" fill="#111" textLength="7.4" lengthAdjust="spacingAndGlyphs">20</text>
<line x1="273.2" y1="243.6" x2="276.2" y2="243.6" stroke="#1a1a1a" stroke-width="1"/>
<text x="273" y="246.8" font-size="8" text-anchor="end" fill="#111" textLength="7.4" lengthAdjust="spacingAndGlyphs">30</text>
<line x1="273.2" y1="221.6" x2="276.2" y2="221.6" stroke="#1a1a1a" stroke-width="1"/>
<text x="273" y="224.8" font-size="8" text-anchor="end" fill="#111" textLength="7.4" lengthAdjust="spacingAndGlyphs">40</text>
<line x1="273.2" y1="199.6" x2="276.2" y2="199.6" stroke="#1a1a1a" stroke-width="1"/>
<text x="273" y="202.8" font-size="8" text-anchor="end" fill="#111" textLength="7.4" lengthAdjust="spacingAndGlyphs">50</text>
<line x1="282.5" y1="309.6" x2="282.5" y2="312.4" stroke="#222" stroke-width="1"/>
<text x="283.5" y="316.9" font-size="6.2" text-anchor="end" fill="#111" transform="rotate(-45 283.5 316.9)" textLength="20.6" lengthAdjust="spacingAndGlyphs" stroke="#111" stroke-width="0.15">baseline</text>
<line x1="291.4" y1="309.6" x2="291.4" y2="312.4" stroke="#222" stroke-width="1"/>
<text x="292.4" y="316.9" font-size="6.2" text-anchor="end" fill="#111" transform="rotate(-45 292.4 316.9)" textLength="25.5" lengthAdjust="spacingAndGlyphs" stroke="#111" stroke-width="0.15">session 10</text>
<line x1="300.1" y1="309.6" x2="300.1" y2="312.4" stroke="#222" stroke-width="1"/>
<text x="301.1" y="316.9" font-size="6.2" text-anchor="end" fill="#111" transform="rotate(-45 301.1 316.9)" textLength="25.5" lengthAdjust="spacingAndGlyphs" stroke="#111" stroke-width="0.15">session 20</text>
<line x1="309" y1="309.6" x2="309" y2="312.4" stroke="#222" stroke-width="1"/>
<text x="310" y="316.9" font-size="6.2" text-anchor="end" fill="#111" transform="rotate(-45 310 316.9)" textLength="25.5" lengthAdjust="spacingAndGlyphs" stroke="#111" stroke-width="0.15">session 30</text>
<line x1="317.7" y1="309.6" x2="317.7" y2="312.4" stroke="#222" stroke-width="1"/>
<text x="318.7" y="316.9" font-size="6.2" text-anchor="end" fill="#111" transform="rotate(-45 318.7 316.9)" textLength="40.2" lengthAdjust="spacingAndGlyphs" stroke="#111" stroke-width="0.15">1-mo follow-up</text>
<line x1="326.5" y1="309.6" x2="326.5" y2="312.4" stroke="#222" stroke-width="1"/>
<text x="327.5" y="316.9" font-size="6.2" text-anchor="end" fill="#111" transform="rotate(-45 327.5 316.9)" textLength="41.2" lengthAdjust="spacingAndGlyphs" stroke="#111" stroke-width="0.15">3-mo follow-up</text>
<line x1="338.4" y1="309.6" x2="338.4" y2="312.4" stroke="#222" stroke-width="1"/>
<text x="339.4" y="316.9" font-size="6.2" text-anchor="end" fill="#111" transform="rotate(-45 339.4 316.9)" textLength="20.6" lengthAdjust="spacingAndGlyphs" stroke="#111" stroke-width="0.15">baseline</text>
<line x1="347.3" y1="309.6" x2="347.3" y2="312.4" stroke="#222" stroke-width="1"/>
<text x="348.3" y="316.9" font-size="6.2" text-anchor="end" fill="#111" transform="rotate(-45 348.3 316.9)" textLength="25.5" lengthAdjust="spacingAndGlyphs" stroke="#111" stroke-width="0.15">session 10</text>
<line x1="356.2" y1="309.6" x2="356.2" y2="312.4" stroke="#222" stroke-width="1"/>
<text x="357.2" y="316.9" font-size="6.2" text-anchor="end" fill="#111" transform="rotate(-45 357.2 316.9)" textLength="25.5" lengthAdjust="spacingAndGlyphs" stroke="#111" stroke-width="0.15">session 20</text>
<line x1="365.2" y1="309.6" x2="365.2" y2="312.4" stroke="#222" stroke-width="1"/>
<text x="366.2" y="316.9" font-size="6.2" text-anchor="end" fill="#111" transform="rotate(-45 366.2 316.9)" textLength="25.5" lengthAdjust="spacingAndGlyphs" stroke="#111" stroke-width="0.15">session 30</text>
<line x1="374.3" y1="309.6" x2="374.3" y2="312.4" stroke="#222" stroke-width="1"/>
<text x="375.3" y="316.9" font-size="6.2" text-anchor="end" fill="#111" transform="rotate(-45 375.3 316.9)" textLength="40.2" lengthAdjust="spacingAndGlyphs" stroke="#111" stroke-width="0.15">1-mo follow-up</text>
<line x1="383" y1="309.6" x2="383" y2="312.4" stroke="#222" stroke-width="1"/>
<text x="384" y="316.9" font-size="6.2" text-anchor="end" fill="#111" transform="rotate(-45 384 316.9)" textLength="41.2" lengthAdjust="spacingAndGlyphs" stroke="#111" stroke-width="0.15">3-mo follow-up</text>
<line x1="392.2" y1="309.6" x2="392.2" y2="312.4" stroke="#222" stroke-width="1"/>
<text x="393.2" y="316.9" font-size="6.2" text-anchor="end" fill="#111" transform="rotate(-45 393.2 316.9)" textLength="20.6" lengthAdjust="spacingAndGlyphs" stroke="#111" stroke-width="0.15">baseline</text>
<line x1="401" y1="309.6" x2="401" y2="312.4" stroke="#222" stroke-width="1"/>
<text x="402" y="316.9" font-size="6.2" text-anchor="end" fill="#111" transform="rotate(-45 402 316.9)" textLength="25.5" lengthAdjust="spacingAndGlyphs" stroke="#111" stroke-width="0.15">session 10</text>
<line x1="409.8" y1="309.6" x2="409.8" y2="312.4" stroke="#222" stroke-width="1"/>
<text x="410.8" y="316.9" font-size="6.2" text-anchor="end" fill="#111" transform="rotate(-45 410.8 316.9)" textLength="25.5" lengthAdjust="spacingAndGlyphs" stroke="#111" stroke-width="0.15">session 20</text>
<line x1="418.7" y1="309.6" x2="418.7" y2="312.4" stroke="#222" stroke-width="1"/>
<text x="419.7" y="316.9" font-size="6.2" text-anchor="end" fill="#111" transform="rotate(-45 419.7 316.9)" textLength="25.5" lengthAdjust="spacingAndGlyphs" stroke="#111" stroke-width="0.15">session 30</text>
<line x1="427.4" y1="309.6" x2="427.4" y2="312.4" stroke="#222" stroke-width="1"/>
<text x="428.4" y="316.9" font-size="6.2" text-anchor="end" fill="#111" transform="rotate(-45 428.4 316.9)" textLength="40.2" lengthAdjust="spacingAndGlyphs" stroke="#111" stroke-width="0.15">1-mo follow-up</text>
<line x1="436.5" y1="309.6" x2="436.5" y2="312.4" stroke="#222" stroke-width="1"/>
<text x="437.5" y="316.9" font-size="6.2" text-anchor="end" fill="#111" transform="rotate(-45 437.5 316.9)" textLength="41.2" lengthAdjust="spacingAndGlyphs" stroke="#111" stroke-width="0.15">3-mo follow-up</text>
<line x1="279.3" y1="249.1" x2="285.7" y2="249.1" stroke="#111" stroke-width="0.9"/>
<line x1="288.2" y1="279.53" x2="294.6" y2="279.53" stroke="#111" stroke-width="0.9"/>
<line x1="296.9" y1="281.44" x2="303.3" y2="281.44" stroke="#111" stroke-width="0.9"/>
<line x1="305.8" y1="286.5" x2="312.2" y2="286.5" stroke="#111" stroke-width="0.9"/>
<line x1="314.5" y1="291.63" x2="320.9" y2="291.63" stroke="#111" stroke-width="0.9"/>
<line x1="323.3" y1="285.24" x2="329.7" y2="285.24" stroke="#111" stroke-width="0.9"/>
<line x1="335.2" y1="257.8" x2="341.6" y2="257.8" stroke="#111" stroke-width="0.9"/>
<line x1="344.1" y1="259.4" x2="350.5" y2="259.4" stroke="#111" stroke-width="0.9"/>
<line x1="353" y1="269.66" x2="359.4" y2="269.66" stroke="#111" stroke-width="0.9"/>
<line x1="362" y1="278.8" x2="368.4" y2="278.8" stroke="#111" stroke-width="0.9"/>
<line x1="371.1" y1="276.05" x2="377.5" y2="276.05" stroke="#111" stroke-width="0.9"/>
<line x1="379.8" y1="276.6" x2="386.2" y2="276.6" stroke="#111" stroke-width="0.9"/>
<line x1="389" y1="258.27" x2="395.4" y2="258.27" stroke="#111" stroke-width="0.9"/>
<line x1="397.8" y1="267.12" x2="404.2" y2="267.12" stroke="#111" stroke-width="0.9"/>
<line x1="406.6" y1="270" x2="413" y2="270" stroke="#111" stroke-width="0.9"/>
<line x1="415.5" y1="270" x2="421.9" y2="270" stroke="#111" stroke-width="0.9"/>
<line x1="424.2" y1="270.31" x2="430.6" y2="270.31" stroke="#111" stroke-width="0.9"/>
<line x1="433.3" y1="268.65" x2="439.7" y2="268.65" stroke="#111" stroke-width="0.9"/>
<rect x="279.95" y="219.05" width="5.1" height="5.1" fill="#f6a3aa" stroke="#4a3033" stroke-width="0.6"/>
<rect x="279.95" y="225.65" width="5.1" height="5.1" fill="#f6a3aa" stroke="#4a3033" stroke-width="0.6"/>
<rect x="279.95" y="234.45" width="5.1" height="5.1" fill="#f6a3aa" stroke="#4a3033" stroke-width="0.6"/>
<rect x="279.95" y="238.85" width="5.1" height="5.1" fill="#f6a3aa" stroke="#4a3033" stroke-width="0.6"/>
<rect x="279.95" y="243.25" width="5.1" height="5.1" fill="#f6a3aa" stroke="#4a3033" stroke-width="0.6"/>
<rect x="279.95" y="247.65" width="5.1" height="5.1" fill="#f6a3aa" stroke="#4a3033" stroke-width="0.6"/>
<rect x="279.95" y="249.85" width="5.1" height="5.1" fill="#f6a3aa" stroke="#4a3033" stroke-width="0.6"/>
<rect x="279.95" y="254.25" width="5.1" height="5.1" fill="#f6a3aa" stroke="#4a3033" stroke-width="0.6"/>
<rect x="279.95" y="256.45" width="5.1" height="5.1" fill="#f6a3aa" stroke="#4a3033" stroke-width="0.6"/>
<rect x="279.95" y="258.65" width="5.1" height="5.1" fill="#f6a3aa" stroke="#4a3033" stroke-width="0.6"/>
<rect x="279.95" y="260.85" width="5.1" height="5.1" fill="#f6a3aa" stroke="#4a3033" stroke-width="0.6"/>
<rect x="279.95" y="269.65" width="5.1" height="5.1" fill="#f6a3aa" stroke="#4a3033" stroke-width="0.6"/>
<rect x="288.85" y="256.45" width="5.1" height="5.1" fill="#f6a3aa" stroke="#4a3033" stroke-width="0.6"/>
<rect x="288.85" y="258.65" width="5.1" height="5.1" fill="#f6a3aa" stroke="#4a3033" stroke-width="0.6"/>
<rect x="288.85" y="263.05" width="5.1" height="5.1" fill="#f6a3aa" stroke="#4a3033" stroke-width="0.6"/>
<rect x="288.85" y="269.65" width="5.1" height="5.1" fill="#f6a3aa" stroke="#4a3033" stroke-width="0.6"/>
<rect x="288.85" y="271.85" width="5.1" height="5.1" fill="#f6a3aa" stroke="#4a3033" stroke-width="0.6"/>
<rect x="288.85" y="276.25" width="5.1" height="5.1" fill="#f6a3aa" stroke="#4a3033" stroke-width="0.6"/>
<rect x="288.85" y="278.45" width="5.1" height="5.1" fill="#f6a3aa" stroke="#4a3033" stroke-width="0.6"/>
<rect x="288.85" y="285.05" width="5.1" height="5.1" fill="#f6a3aa" stroke="#4a3033" stroke-width="0.6"/>
<rect x="288.85" y="287.25" width="5.1" height="5.1" fill="#f6a3aa" stroke="#4a3033" stroke-width="0.6"/>
<rect x="288.85" y="289.45" width="5.1" height="5.1" fill="#f6a3aa" stroke="#4a3033" stroke-width="0.6"/>
<rect x="288.85" y="291.65" width="5.1" height="5.1" fill="#f6a3aa" stroke="#4a3033" stroke-width="0.6"/>
<rect x="288.85" y="296.05" width="5.1" height="5.1" fill="#f6a3aa" stroke="#4a3033" stroke-width="0.6"/>
<rect x="297.55" y="258.65" width="5.1" height="5.1" fill="#f6a3aa" stroke="#4a3033" stroke-width="0.6"/>
<rect x="297.55" y="267.45" width="5.1" height="5.1" fill="#f6a3aa" stroke="#4a3033" stroke-width="0.6"/>
<rect x="297.55" y="269.65" width="5.1" height="5.1" fill="#f6a3aa" stroke="#4a3033" stroke-width="0.6"/>
<rect x="297.55" y="271.85" width="5.1" height="5.1" fill="#f6a3aa" stroke="#4a3033" stroke-width="0.6"/>
<rect x="297.55" y="274.05" width="5.1" height="5.1" fill="#f6a3aa" stroke="#4a3033" stroke-width="0.6"/>
<rect x="297.55" y="278.45" width="5.1" height="5.1" fill="#f6a3aa" stroke="#4a3033" stroke-width="0.6"/>
<rect x="297.55" y="285.05" width="5.1" height="5.1" fill="#f6a3aa" stroke="#4a3033" stroke-width="0.6"/>
<rect x="297.55" y="291.65" width="5.1" height="5.1" fill="#f6a3aa" stroke="#4a3033" stroke-width="0.6"/>
<rect x="297.55" y="293.85" width="5.1" height="5.1" fill="#f6a3aa" stroke="#4a3033" stroke-width="0.6"/>
<rect x="297.55" y="298.25" width="5.1" height="5.1" fill="#f6a3aa" stroke="#4a3033" stroke-width="0.6"/>
<rect x="306.45" y="258.65" width="5.1" height="5.1" fill="#f6a3aa" stroke="#4a3033" stroke-width="0.6"/>
<rect x="306.45" y="260.85" width="5.1" height="5.1" fill="#f6a3aa" stroke="#4a3033" stroke-width="0.6"/>
<rect x="306.45" y="265.25" width="5.1" height="5.1" fill="#f6a3aa" stroke="#4a3033" stroke-width="0.6"/>
<rect x="306.45" y="274.05" width="5.1" height="5.1" fill="#f6a3aa" stroke="#4a3033" stroke-width="0.6"/>
<rect x="306.45" y="276.25" width="5.1" height="5.1" fill="#f6a3aa" stroke="#4a3033" stroke-width="0.6"/>
<rect x="306.45" y="285.05" width="5.1" height="5.1" fill="#f6a3aa" stroke="#4a3033" stroke-width="0.6"/>
<rect x="306.45" y="287.25" width="5.1" height="5.1" fill="#f6a3aa" stroke="#4a3033" stroke-width="0.6"/>
<rect x="306.45" y="289.45" width="5.1" height="5.1" fill="#f6a3aa" stroke="#4a3033" stroke-width="0.6"/>
<rect x="306.45" y="298.25" width="5.1" height="5.1" fill="#f6a3aa" stroke="#4a3033" stroke-width="0.6"/>
<rect x="306.45" y="300.45" width="5.1" height="5.1" fill="#f6a3aa" stroke="#4a3033" stroke-width="0.6"/>
<rect x="306.45" y="304.85" width="5.1" height="5.1" fill="#f6a3aa" stroke="#4a3033" stroke-width="0.6"/>
<rect x="306.45" y="307.05" width="5.1" height="5.1" fill="#f6a3aa" stroke="#4a3033" stroke-width="0.6"/>
<rect x="315.15" y="267.45" width="5.1" height="5.1" fill="#f6a3aa" stroke="#4a3033" stroke-width="0.6"/>
<rect x="315.15" y="269.65" width="5.1" height="5.1" fill="#f6a3aa" stroke="#4a3033" stroke-width="0.6"/>
<rect x="315.15" y="271.85" width="5.1" height="5.1" fill="#f6a3aa" stroke="#4a3033" stroke-width="0.6"/>
<rect x="315.15" y="285.05" width="5.1" height="5.1" fill="#f6a3aa" stroke="#4a3033" stroke-width="0.6"/>
<rect x="315.15" y="287.25" width="5.1" height="5.1" fill="#f6a3aa" stroke="#4a3033" stroke-width="0.6"/>
<rect x="315.15" y="289.45" width="5.1" height="5.1" fill="#f6a3aa" stroke="#4a3033" stroke-width="0.6"/>
<rect x="315.15" y="291.65" width="5.1" height="5.1" fill="#f6a3aa" stroke="#4a3033" stroke-width="0.6"/>
<rect x="315.15" y="296.05" width="5.1" height="5.1" fill="#f6a3aa" stroke="#4a3033" stroke-width="0.6"/>
<rect x="315.15" y="298.25" width="5.1" height="5.1" fill="#f6a3aa" stroke="#4a3033" stroke-width="0.6"/>
<rect x="315.15" y="300.45" width="5.1" height="5.1" fill="#f6a3aa" stroke="#4a3033" stroke-width="0.6"/>
<rect x="315.15" y="304.85" width="5.1" height="5.1" fill="#f6a3aa" stroke="#4a3033" stroke-width="0.6"/>
<rect x="315.15" y="307.05" width="5.1" height="5.1" fill="#f6a3aa" stroke="#4a3033" stroke-width="0.6"/>
<rect x="323.95" y="232.25" width="5.1" height="5.1" fill="#f6a3aa" stroke="#4a3033" stroke-width="0.6"/>
<rect x="323.95" y="258.65" width="5.1" height="5.1" fill="#f6a3aa" stroke="#4a3033" stroke-width="0.6"/>
<rect x="323.95" y="265.25" width="5.1" height="5.1" fill="#f6a3aa" stroke="#4a3033" stroke-width="0.6"/>
<rect x="323.95" y="269.65" width="5.1" height="5.1" fill="#f6a3aa" stroke="#4a3033" stroke-width="0.6"/>
<rect x="323.95" y="276.25" width="5.1" height="5.1" fill="#f6a3aa" stroke="#4a3033" stroke-width="0.6"/>
<rect x="323.95" y="285.05" width="5.1" height="5.1" fill="#f6a3aa" stroke="#4a3033" stroke-width="0.6"/>
<rect x="323.95" y="287.25" width="5.1" height="5.1" fill="#f6a3aa" stroke="#4a3033" stroke-width="0.6"/>
<rect x="323.95" y="289.45" width="5.1" height="5.1" fill="#f6a3aa" stroke="#4a3033" stroke-width="0.6"/>
<rect x="323.95" y="289.45" width="5.1" height="5.1" fill="#f6a3aa" stroke="#4a3033" stroke-width="0.6"/>
<rect x="323.95" y="293.85" width="5.1" height="5.1" fill="#f6a3aa" stroke="#4a3033" stroke-width="0.6"/>
<rect x="323.95" y="298.25" width="5.1" height="5.1" fill="#f6a3aa" stroke="#4a3033" stroke-width="0.6"/>
<rect x="323.95" y="300.45" width="5.1" height="5.1" fill="#f6a3aa" stroke="#4a3033" stroke-width="0.6"/>
<rect x="323.95" y="304.85" width="5.1" height="5.1" fill="#f6a3aa" stroke="#4a3033" stroke-width="0.6"/>
<rect x="323.95" y="307.05" width="5.1" height="5.1" fill="#f6a3aa" stroke="#4a3033" stroke-width="0.6"/>
<circle cx="338.4" cy="237" r="2.5" fill="#9fc7f5" stroke="#34495f" stroke-width="0.6"/>
<circle cx="338.4" cy="239.2" r="2.5" fill="#9fc7f5" stroke="#34495f" stroke-width="0.6"/>
<circle cx="338.4" cy="243.6" r="2.5" fill="#9fc7f5" stroke="#34495f" stroke-width="0.6"/>
<circle cx="338.4" cy="256.8" r="2.5" fill="#9fc7f5" stroke="#34495f" stroke-width="0.6"/>
<circle cx="338.4" cy="259" r="2.5" fill="#9fc7f5" stroke="#34495f" stroke-width="0.6"/>
<circle cx="338.4" cy="261.2" r="2.5" fill="#9fc7f5" stroke="#34495f" stroke-width="0.6"/>
<circle cx="338.4" cy="263.4" r="2.5" fill="#9fc7f5" stroke="#34495f" stroke-width="0.6"/>
<circle cx="338.4" cy="265.6" r="2.5" fill="#9fc7f5" stroke="#34495f" stroke-width="0.6"/>
<circle cx="338.4" cy="267.8" r="2.5" fill="#9fc7f5" stroke="#34495f" stroke-width="0.6"/>
<circle cx="338.4" cy="270" r="2.5" fill="#9fc7f5" stroke="#34495f" stroke-width="0.6"/>
<circle cx="338.4" cy="272.2" r="2.5" fill="#9fc7f5" stroke="#34495f" stroke-width="0.6"/>
<circle cx="347.3" cy="239.2" r="2.5" fill="#9fc7f5" stroke="#34495f" stroke-width="0.6"/>
<circle cx="347.3" cy="243.6" r="2.5" fill="#9fc7f5" stroke="#34495f" stroke-width="0.6"/>
<circle cx="347.3" cy="243.6" r="2.5" fill="#9fc7f5" stroke="#34495f" stroke-width="0.6"/>
<circle cx="347.3" cy="256.8" r="2.5" fill="#9fc7f5" stroke="#34495f" stroke-width="0.6"/>
<circle cx="347.3" cy="259" r="2.5" fill="#9fc7f5" stroke="#34495f" stroke-width="0.6"/>
<circle cx="347.3" cy="261.2" r="2.5" fill="#9fc7f5" stroke="#34495f" stroke-width="0.6"/>
<circle cx="347.3" cy="263.4" r="2.5" fill="#9fc7f5" stroke="#34495f" stroke-width="0.6"/>
<circle cx="347.3" cy="265.6" r="2.5" fill="#9fc7f5" stroke="#34495f" stroke-width="0.6"/>
<circle cx="347.3" cy="270" r="2.5" fill="#9fc7f5" stroke="#34495f" stroke-width="0.6"/>
<circle cx="347.3" cy="272.2" r="2.5" fill="#9fc7f5" stroke="#34495f" stroke-width="0.6"/>
<circle cx="347.3" cy="278.8" r="2.5" fill="#9fc7f5" stroke="#34495f" stroke-width="0.6"/>
<circle cx="356.2" cy="245.8" r="2.5" fill="#9fc7f5" stroke="#34495f" stroke-width="0.6"/>
<circle cx="356.2" cy="256.8" r="2.5" fill="#9fc7f5" stroke="#34495f" stroke-width="0.6"/>
<circle cx="356.2" cy="259" r="2.5" fill="#9fc7f5" stroke="#34495f" stroke-width="0.6"/>
<circle cx="356.2" cy="261.2" r="2.5" fill="#9fc7f5" stroke="#34495f" stroke-width="0.6"/>
<circle cx="356.2" cy="265.6" r="2.5" fill="#9fc7f5" stroke="#34495f" stroke-width="0.6"/>
<circle cx="356.2" cy="265.6" r="2.5" fill="#9fc7f5" stroke="#34495f" stroke-width="0.6"/>
<circle cx="356.2" cy="270" r="2.5" fill="#9fc7f5" stroke="#34495f" stroke-width="0.6"/>
<circle cx="356.2" cy="272.2" r="2.5" fill="#9fc7f5" stroke="#34495f" stroke-width="0.6"/>
<circle cx="356.2" cy="274.4" r="2.5" fill="#9fc7f5" stroke="#34495f" stroke-width="0.6"/>
<circle cx="356.2" cy="276.6" r="2.5" fill="#9fc7f5" stroke="#34495f" stroke-width="0.6"/>
<circle cx="356.2" cy="278.8" r="2.5" fill="#9fc7f5" stroke="#34495f" stroke-width="0.6"/>
<circle cx="356.2" cy="287.6" r="2.5" fill="#9fc7f5" stroke="#34495f" stroke-width="0.6"/>
<circle cx="356.2" cy="292" r="2.5" fill="#9fc7f5" stroke="#34495f" stroke-width="0.6"/>
<circle cx="365.2" cy="245.8" r="2.5" fill="#9fc7f5" stroke="#34495f" stroke-width="0.6"/>
<circle cx="365.2" cy="261.2" r="2.5" fill="#9fc7f5" stroke="#34495f" stroke-width="0.6"/>
<circle cx="365.2" cy="263.4" r="2.5" fill="#9fc7f5" stroke="#34495f" stroke-width="0.6"/>
<circle cx="365.2" cy="265.6" r="2.5" fill="#9fc7f5" stroke="#34495f" stroke-width="0.6"/>
<circle cx="365.2" cy="270" r="2.5" fill="#9fc7f5" stroke="#34495f" stroke-width="0.6"/>
<circle cx="365.2" cy="272.2" r="2.5" fill="#9fc7f5" stroke="#34495f" stroke-width="0.6"/>
<circle cx="365.2" cy="278.8" r="2.5" fill="#9fc7f5" stroke="#34495f" stroke-width="0.6"/>
<circle cx="365.2" cy="289.8" r="2.5" fill="#9fc7f5" stroke="#34495f" stroke-width="0.6"/>
<circle cx="365.2" cy="292" r="2.5" fill="#9fc7f5" stroke="#34495f" stroke-width="0.6"/>
<circle cx="365.2" cy="294.2" r="2.5" fill="#9fc7f5" stroke="#34495f" stroke-width="0.6"/>
<circle cx="365.2" cy="303" r="2.5" fill="#9fc7f5" stroke="#34495f" stroke-width="0.6"/>
<circle cx="365.2" cy="309.6" r="2.5" fill="#9fc7f5" stroke="#34495f" stroke-width="0.6"/>
<circle cx="374.3" cy="239.2" r="2.5" fill="#9fc7f5" stroke="#34495f" stroke-width="0.6"/>
<circle cx="374.3" cy="256.8" r="2.5" fill="#9fc7f5" stroke="#34495f" stroke-width="0.6"/>
<circle cx="374.3" cy="261.2" r="2.5" fill="#9fc7f5" stroke="#34495f" stroke-width="0.6"/>
<circle cx="374.3" cy="263.4" r="2.5" fill="#9fc7f5" stroke="#34495f" stroke-width="0.6"/>
<circle cx="374.3" cy="265.6" r="2.5" fill="#9fc7f5" stroke="#34495f" stroke-width="0.6"/>
<circle cx="374.3" cy="270" r="2.5" fill="#9fc7f5" stroke="#34495f" stroke-width="0.6"/>
<circle cx="374.3" cy="272.2" r="2.5" fill="#9fc7f5" stroke="#34495f" stroke-width="0.6"/>
<circle cx="374.3" cy="283.2" r="2.5" fill="#9fc7f5" stroke="#34495f" stroke-width="0.6"/>
<circle cx="374.3" cy="292" r="2.5" fill="#9fc7f5" stroke="#34495f" stroke-width="0.6"/>
<circle cx="374.3" cy="298.6" r="2.5" fill="#9fc7f5" stroke="#34495f" stroke-width="0.6"/>
<circle cx="374.3" cy="300.8" r="2.5" fill="#9fc7f5" stroke="#34495f" stroke-width="0.6"/>
<circle cx="374.3" cy="309.6" r="2.5" fill="#9fc7f5" stroke="#34495f" stroke-width="0.6"/>
<circle cx="383" cy="237" r="2.5" fill="#9fc7f5" stroke="#34495f" stroke-width="0.6"/>
<circle cx="383" cy="256.8" r="2.5" fill="#9fc7f5" stroke="#34495f" stroke-width="0.6"/>
<circle cx="383" cy="261.2" r="2.5" fill="#9fc7f5" stroke="#34495f" stroke-width="0.6"/>
<circle cx="383" cy="265.6" r="2.5" fill="#9fc7f5" stroke="#34495f" stroke-width="0.6"/>
<circle cx="383" cy="283.2" r="2.5" fill="#9fc7f5" stroke="#34495f" stroke-width="0.6"/>
<circle cx="383" cy="289.8" r="2.5" fill="#9fc7f5" stroke="#34495f" stroke-width="0.6"/>
<circle cx="383" cy="292" r="2.5" fill="#9fc7f5" stroke="#34495f" stroke-width="0.6"/>
<circle cx="383" cy="300.8" r="2.5" fill="#9fc7f5" stroke="#34495f" stroke-width="0.6"/>
<circle cx="383" cy="303" r="2.5" fill="#9fc7f5" stroke="#34495f" stroke-width="0.6"/>
<polygon points="392.2,240.79 389.6,245.47 394.8,245.47" fill="#fff" stroke="#333" stroke-width="0.7"/>
<polygon points="392.2,240.79 389.6,245.47 394.8,245.47" fill="#fff" stroke="#333" stroke-width="0.7"/>
<polygon points="392.2,245.19 389.6,249.87 394.8,249.87" fill="#fff" stroke="#333" stroke-width="0.7"/>
<polygon points="392.2,249.59 389.6,254.27 394.8,254.27" fill="#fff" stroke="#333" stroke-width="0.7"/>
<polygon points="392.2,258.39 389.6,263.07 394.8,263.07" fill="#fff" stroke="#333" stroke-width="0.7"/>
<polygon points="392.2,262.79 389.6,267.47 394.8,267.47" fill="#fff" stroke="#333" stroke-width="0.7"/>
<polygon points="392.2,264.99 389.6,269.67 394.8,269.67" fill="#fff" stroke="#333" stroke-width="0.7"/>
<polygon points="392.2,267.19 389.6,271.87 394.8,271.87" fill="#fff" stroke="#333" stroke-width="0.7"/>
<polygon points="392.2,269.39 389.6,274.07 394.8,274.07" fill="#fff" stroke="#333" stroke-width="0.7"/>
<polygon points="401,240.79 398.4,245.47 403.6,245.47" fill="#fff" stroke="#333" stroke-width="0.7"/>
<polygon points="401,247.39 398.4,252.07 403.6,252.07" fill="#fff" stroke="#333" stroke-width="0.7"/>
<polygon points="401,249.59 398.4,254.27 403.6,254.27" fill="#fff" stroke="#333" stroke-width="0.7"/>
<polygon points="401,251.79 398.4,256.47 403.6,256.47" fill="#fff" stroke="#333" stroke-width="0.7"/>
<polygon points="401,253.99 398.4,258.67 403.6,258.67" fill="#fff" stroke="#333" stroke-width="0.7"/>
<polygon points="401,258.39 398.4,263.07 403.6,263.07" fill="#fff" stroke="#333" stroke-width="0.7"/>
<polygon points="401,264.99 398.4,269.67 403.6,269.67" fill="#fff" stroke="#333" stroke-width="0.7"/>
<polygon points="401,267.19 398.4,271.87 403.6,271.87" fill="#fff" stroke="#333" stroke-width="0.7"/>
<polygon points="401,271.59 398.4,276.27 403.6,276.27" fill="#fff" stroke="#333" stroke-width="0.7"/>
<polygon points="401,273.79 398.4,278.47 403.6,278.47" fill="#fff" stroke="#333" stroke-width="0.7"/>
<polygon points="401,280.39 398.4,285.07 403.6,285.07" fill="#fff" stroke="#333" stroke-width="0.7"/>
<polygon points="401,286.99 398.4,291.67 403.6,291.67" fill="#fff" stroke="#333" stroke-width="0.7"/>
<polygon points="401,289.19 398.4,293.87 403.6,293.87" fill="#fff" stroke="#333" stroke-width="0.7"/>
<polygon points="409.8,240.79 407.2,245.47 412.4,245.47" fill="#fff" stroke="#333" stroke-width="0.7"/>
<polygon points="409.8,242.99 407.2,247.67 412.4,247.67" fill="#fff" stroke="#333" stroke-width="0.7"/>
<polygon points="409.8,247.39 407.2,252.07 412.4,252.07" fill="#fff" stroke="#333" stroke-width="0.7"/>
<polygon points="409.8,251.79 407.2,256.47 412.4,256.47" fill="#fff" stroke="#333" stroke-width="0.7"/>
<polygon points="409.8,256.19 407.2,260.87 412.4,260.87" fill="#fff" stroke="#333" stroke-width="0.7"/>
<polygon points="409.8,258.39 407.2,263.07 412.4,263.07" fill="#fff" stroke="#333" stroke-width="0.7"/>
<polygon points="409.8,262.79 407.2,267.47 412.4,267.47" fill="#fff" stroke="#333" stroke-width="0.7"/>
<polygon points="409.8,267.19 407.2,271.87 412.4,271.87" fill="#fff" stroke="#333" stroke-width="0.7"/>
<polygon points="409.8,269.39 407.2,274.07 412.4,274.07" fill="#fff" stroke="#333" stroke-width="0.7"/>
<polygon points="409.8,273.79 407.2,278.47 412.4,278.47" fill="#fff" stroke="#333" stroke-width="0.7"/>
<polygon points="409.8,286.99 407.2,291.67 412.4,291.67" fill="#fff" stroke="#333" stroke-width="0.7"/>
<polygon points="409.8,291.39 407.2,296.07 412.4,296.07" fill="#fff" stroke="#333" stroke-width="0.7"/>
<polygon points="409.8,293.59 407.2,298.27 412.4,298.27" fill="#fff" stroke="#333" stroke-width="0.7"/>
<polygon points="409.8,297.99 407.2,302.67 412.4,302.67" fill="#fff" stroke="#333" stroke-width="0.7"/>
<polygon points="418.7,236.39 416.1,241.07 421.3,241.07" fill="#fff" stroke="#333" stroke-width="0.7"/>
<polygon points="418.7,247.39 416.1,252.07 421.3,252.07" fill="#fff" stroke="#333" stroke-width="0.7"/>
<polygon points="418.7,249.59 416.1,254.27 421.3,254.27" fill="#fff" stroke="#333" stroke-width="0.7"/>
<polygon points="418.7,251.79 416.1,256.47 421.3,256.47" fill="#fff" stroke="#333" stroke-width="0.7"/>
<polygon points="418.7,262.79 416.1,267.47 421.3,267.47" fill="#fff" stroke="#333" stroke-width="0.7"/>
<polygon points="418.7,264.99 416.1,269.67 421.3,269.67" fill="#fff" stroke="#333" stroke-width="0.7"/>
<polygon points="418.7,267.19 416.1,271.87 421.3,271.87" fill="#fff" stroke="#333" stroke-width="0.7"/>
<polygon points="418.7,269.39 416.1,274.07 421.3,274.07" fill="#fff" stroke="#333" stroke-width="0.7"/>
<polygon points="418.7,280.39 416.1,285.07 421.3,285.07" fill="#fff" stroke="#333" stroke-width="0.7"/>
<polygon points="418.7,284.79 416.1,289.47 421.3,289.47" fill="#fff" stroke="#333" stroke-width="0.7"/>
<polygon points="418.7,289.19 416.1,293.87 421.3,293.87" fill="#fff" stroke="#333" stroke-width="0.7"/>
<polygon points="418.7,302.39 416.1,307.07 421.3,307.07" fill="#fff" stroke="#333" stroke-width="0.7"/>
<polygon points="427.4,242.99 424.8,247.67 430,247.67" fill="#fff" stroke="#333" stroke-width="0.7"/>
<polygon points="427.4,245.19 424.8,249.87 430,249.87" fill="#fff" stroke="#333" stroke-width="0.7"/>
<polygon points="427.4,247.39 424.8,252.07 430,252.07" fill="#fff" stroke="#333" stroke-width="0.7"/>
<polygon points="427.4,249.59 424.8,254.27 430,254.27" fill="#fff" stroke="#333" stroke-width="0.7"/>
<polygon points="427.4,253.99 424.8,258.67 430,258.67" fill="#fff" stroke="#333" stroke-width="0.7"/>
<polygon points="427.4,258.39 424.8,263.07 430,263.07" fill="#fff" stroke="#333" stroke-width="0.7"/>
<polygon points="427.4,262.79 424.8,267.47 430,267.47" fill="#fff" stroke="#333" stroke-width="0.7"/>
<polygon points="427.4,267.19 424.8,271.87 430,271.87" fill="#fff" stroke="#333" stroke-width="0.7"/>
<polygon points="427.4,269.39 424.8,274.07 430,274.07" fill="#fff" stroke="#333" stroke-width="0.7"/>
<polygon points="427.4,273.79 424.8,278.47 430,278.47" fill="#fff" stroke="#333" stroke-width="0.7"/>
<polygon points="427.4,280.39 424.8,285.07 430,285.07" fill="#fff" stroke="#333" stroke-width="0.7"/>
<polygon points="427.4,291.39 424.8,296.07 430,296.07" fill="#fff" stroke="#333" stroke-width="0.7"/>
<polygon points="427.4,295.79 424.8,300.47 430,300.47" fill="#fff" stroke="#333" stroke-width="0.7"/>
<polygon points="427.4,306.79 424.8,311.47 430,311.47" fill="#fff" stroke="#333" stroke-width="0.7"/>
<polygon points="436.5,236.39 433.9,241.07 439.1,241.07" fill="#fff" stroke="#333" stroke-width="0.7"/>
<polygon points="436.5,240.79 433.9,245.47 439.1,245.47" fill="#fff" stroke="#333" stroke-width="0.7"/>
<polygon points="436.5,247.39 433.9,252.07 439.1,252.07" fill="#fff" stroke="#333" stroke-width="0.7"/>
<polygon points="436.5,251.79 433.9,256.47 439.1,256.47" fill="#fff" stroke="#333" stroke-width="0.7"/>
<polygon points="436.5,256.19 433.9,260.87 439.1,260.87" fill="#fff" stroke="#333" stroke-width="0.7"/>
<polygon points="436.5,258.39 433.9,263.07 439.1,263.07" fill="#fff" stroke="#333" stroke-width="0.7"/>
<polygon points="436.5,262.79 433.9,267.47 439.1,267.47" fill="#fff" stroke="#333" stroke-width="0.7"/>
<polygon points="436.5,267.19 433.9,271.87 439.1,271.87" fill="#fff" stroke="#333" stroke-width="0.7"/>
<polygon points="436.5,269.39 433.9,274.07 439.1,274.07" fill="#fff" stroke="#333" stroke-width="0.7"/>
<polygon points="436.5,273.79 433.9,278.47 439.1,278.47" fill="#fff" stroke="#333" stroke-width="0.7"/>
<polygon points="436.5,289.19 433.9,293.87 439.1,293.87" fill="#fff" stroke="#333" stroke-width="0.7"/>
<polygon points="436.5,300.19 433.9,304.87 439.1,304.87" fill="#fff" stroke="#333" stroke-width="0.7"/>
<polygon points="436.5,302.39 433.9,307.07 439.1,307.07" fill="#fff" stroke="#333" stroke-width="0.7"/>
<text x="343.3" y="380.7" font-size="14" text-anchor="middle" fill="#000" font-weight="bold">BDI- II</text>
<text x="261.8" y="435.5" font-size="7.4" text-anchor="middle" fill="#000" font-weight="bold" transform="rotate(-90 261.8 435.5)" textLength="77" lengthAdjust="spacingAndGlyphs">BDI-II individual score</text>
<line x1="276.2" y1="384.4" x2="276.2" y2="492.9" stroke="#1a1a1a" stroke-width="1.25"/>
<line x1="273.2" y1="492.3" x2="439.8" y2="492.3" stroke="#1a1a1a" stroke-width="1.2"/>
<line x1="273.2" y1="492.3" x2="276.2" y2="492.3" stroke="#1a1a1a" stroke-width="1"/>
<text x="273" y="495.5" font-size="8" text-anchor="end" fill="#111" textLength="3.7" lengthAdjust="spacingAndGlyphs">0</text>
<line x1="273.2" y1="474.4" x2="276.2" y2="474.4" stroke="#1a1a1a" stroke-width="1"/>
<text x="273" y="477.6" font-size="8" text-anchor="end" fill="#111" textLength="7.4" lengthAdjust="spacingAndGlyphs">10</text>
<line x1="273.2" y1="456.5" x2="276.2" y2="456.5" stroke="#1a1a1a" stroke-width="1"/>
<text x="273" y="459.7" font-size="8" text-anchor="end" fill="#111" textLength="7.4" lengthAdjust="spacingAndGlyphs">20</text>
<line x1="273.2" y1="438.6" x2="276.2" y2="438.6" stroke="#1a1a1a" stroke-width="1"/>
<text x="273" y="441.8" font-size="8" text-anchor="end" fill="#111" textLength="7.4" lengthAdjust="spacingAndGlyphs">30</text>
<line x1="273.2" y1="420.7" x2="276.2" y2="420.7" stroke="#1a1a1a" stroke-width="1"/>
<text x="273" y="423.9" font-size="8" text-anchor="end" fill="#111" textLength="7.4" lengthAdjust="spacingAndGlyphs">40</text>
<line x1="273.2" y1="402.8" x2="276.2" y2="402.8" stroke="#1a1a1a" stroke-width="1"/>
<text x="273" y="406" font-size="8" text-anchor="end" fill="#111" textLength="7.4" lengthAdjust="spacingAndGlyphs">50</text>
<line x1="273.2" y1="384.9" x2="276.2" y2="384.9" stroke="#1a1a1a" stroke-width="1"/>
<text x="273" y="388.1" font-size="8" text-anchor="end" fill="#111" textLength="7.4" lengthAdjust="spacingAndGlyphs">60</text>
<line x1="282.2" y1="492.3" x2="282.2" y2="495.1" stroke="#222" stroke-width="1"/>
<text x="283.2" y="499.6" font-size="6.2" text-anchor="end" fill="#111" transform="rotate(-45 283.2 499.6)" textLength="20.6" lengthAdjust="spacingAndGlyphs" stroke="#111" stroke-width="0.15">baseline</text>
<line x1="291.1" y1="492.3" x2="291.1" y2="495.1" stroke="#222" stroke-width="1"/>
<text x="292.1" y="499.6" font-size="6.2" text-anchor="end" fill="#111" transform="rotate(-45 292.1 499.6)" textLength="25.5" lengthAdjust="spacingAndGlyphs" stroke="#111" stroke-width="0.15">session 10</text>
<line x1="299.6" y1="492.3" x2="299.6" y2="495.1" stroke="#222" stroke-width="1"/>
<text x="300.6" y="499.6" font-size="6.2" text-anchor="end" fill="#111" transform="rotate(-45 300.6 499.6)" textLength="25.5" lengthAdjust="spacingAndGlyphs" stroke="#111" stroke-width="0.15">session 20</text>
<line x1="308.1" y1="492.3" x2="308.1" y2="495.1" stroke="#222" stroke-width="1"/>
<text x="309.1" y="499.6" font-size="6.2" text-anchor="end" fill="#111" transform="rotate(-45 309.1 499.6)" textLength="25.5" lengthAdjust="spacingAndGlyphs" stroke="#111" stroke-width="0.15">session 30</text>
<line x1="317.1" y1="492.3" x2="317.1" y2="495.1" stroke="#222" stroke-width="1"/>
<text x="318.1" y="499.6" font-size="6.2" text-anchor="end" fill="#111" transform="rotate(-45 318.1 499.6)" textLength="40.2" lengthAdjust="spacingAndGlyphs" stroke="#111" stroke-width="0.15">1-mo follow-up</text>
<line x1="325.6" y1="492.3" x2="325.6" y2="495.1" stroke="#222" stroke-width="1"/>
<text x="326.6" y="499.6" font-size="6.2" text-anchor="end" fill="#111" transform="rotate(-45 326.6 499.6)" textLength="41.2" lengthAdjust="spacingAndGlyphs" stroke="#111" stroke-width="0.15">3-mo follow-up</text>
<line x1="336.8" y1="492.3" x2="336.8" y2="495.1" stroke="#222" stroke-width="1"/>
<text x="337.8" y="499.6" font-size="6.2" text-anchor="end" fill="#111" transform="rotate(-45 337.8 499.6)" textLength="20.6" lengthAdjust="spacingAndGlyphs" stroke="#111" stroke-width="0.15">baseline</text>
<line x1="345.6" y1="492.3" x2="345.6" y2="495.1" stroke="#222" stroke-width="1"/>
<text x="346.6" y="499.6" font-size="6.2" text-anchor="end" fill="#111" transform="rotate(-45 346.6 499.6)" textLength="25.5" lengthAdjust="spacingAndGlyphs" stroke="#111" stroke-width="0.15">session 10</text>
<line x1="354.6" y1="492.3" x2="354.6" y2="495.1" stroke="#222" stroke-width="1"/>
<text x="355.6" y="499.6" font-size="6.2" text-anchor="end" fill="#111" transform="rotate(-45 355.6 499.6)" textLength="25.5" lengthAdjust="spacingAndGlyphs" stroke="#111" stroke-width="0.15">session 20</text>
<line x1="363.5" y1="492.3" x2="363.5" y2="495.1" stroke="#222" stroke-width="1"/>
<text x="364.5" y="499.6" font-size="6.2" text-anchor="end" fill="#111" transform="rotate(-45 364.5 499.6)" textLength="25.5" lengthAdjust="spacingAndGlyphs" stroke="#111" stroke-width="0.15">session 30</text>
<line x1="372.1" y1="492.3" x2="372.1" y2="495.1" stroke="#222" stroke-width="1"/>
<text x="373.1" y="499.6" font-size="6.2" text-anchor="end" fill="#111" transform="rotate(-45 373.1 499.6)" textLength="40.2" lengthAdjust="spacingAndGlyphs" stroke="#111" stroke-width="0.15">1-mo follow-up</text>
<line x1="381" y1="492.3" x2="381" y2="495.1" stroke="#222" stroke-width="1"/>
<text x="382" y="499.6" font-size="6.2" text-anchor="end" fill="#111" transform="rotate(-45 382 499.6)" textLength="41.2" lengthAdjust="spacingAndGlyphs" stroke="#111" stroke-width="0.15">3-mo follow-up</text>
<line x1="389.8" y1="492.3" x2="389.8" y2="495.1" stroke="#222" stroke-width="1"/>
<text x="390.8" y="499.6" font-size="6.2" text-anchor="end" fill="#111" transform="rotate(-45 390.8 499.6)" textLength="20.6" lengthAdjust="spacingAndGlyphs" stroke="#111" stroke-width="0.15">baseline</text>
<line x1="398.8" y1="492.3" x2="398.8" y2="495.1" stroke="#222" stroke-width="1"/>
<text x="399.8" y="499.6" font-size="6.2" text-anchor="end" fill="#111" transform="rotate(-45 399.8 499.6)" textLength="25.5" lengthAdjust="spacingAndGlyphs" stroke="#111" stroke-width="0.15">session 10</text>
<line x1="407.6" y1="492.3" x2="407.6" y2="495.1" stroke="#222" stroke-width="1"/>
<text x="408.6" y="499.6" font-size="6.2" text-anchor="end" fill="#111" transform="rotate(-45 408.6 499.6)" textLength="25.5" lengthAdjust="spacingAndGlyphs" stroke="#111" stroke-width="0.15">session 20</text>
<line x1="416.1" y1="492.3" x2="416.1" y2="495.1" stroke="#222" stroke-width="1"/>
<text x="417.1" y="499.6" font-size="6.2" text-anchor="end" fill="#111" transform="rotate(-45 417.1 499.6)" textLength="25.5" lengthAdjust="spacingAndGlyphs" stroke="#111" stroke-width="0.15">session 30</text>
<line x1="425" y1="492.3" x2="425" y2="495.1" stroke="#222" stroke-width="1"/>
<text x="426" y="499.6" font-size="6.2" text-anchor="end" fill="#111" transform="rotate(-45 426 499.6)" textLength="40.2" lengthAdjust="spacingAndGlyphs" stroke="#111" stroke-width="0.15">1-mo follow-up</text>
<line x1="433.8" y1="492.3" x2="433.8" y2="495.1" stroke="#222" stroke-width="1"/>
<text x="434.8" y="499.6" font-size="6.2" text-anchor="end" fill="#111" transform="rotate(-45 434.8 499.6)" textLength="41.2" lengthAdjust="spacingAndGlyphs" stroke="#111" stroke-width="0.15">3-mo follow-up</text>
<line x1="279" y1="432.51" x2="285.4" y2="432.51" stroke="#111" stroke-width="0.9"/>
<line x1="287.9" y1="453.87" x2="294.3" y2="453.87" stroke="#111" stroke-width="0.9"/>
<line x1="296.4" y1="460.08" x2="302.8" y2="460.08" stroke="#111" stroke-width="0.9"/>
<line x1="304.9" y1="467.12" x2="311.3" y2="467.12" stroke="#111" stroke-width="0.9"/>
<line x1="313.9" y1="467.24" x2="320.3" y2="467.24" stroke="#111" stroke-width="0.9"/>
<line x1="322.4" y1="464.49" x2="328.8" y2="464.49" stroke="#111" stroke-width="0.9"/>
<line x1="333.6" y1="430.8" x2="340" y2="430.8" stroke="#111" stroke-width="0.9"/>
<line x1="342.4" y1="436.3" x2="348.8" y2="436.3" stroke="#111" stroke-width="0.9"/>
<line x1="351.4" y1="442.18" x2="357.8" y2="442.18" stroke="#111" stroke-width="0.9"/>
<line x1="360.3" y1="452.41" x2="366.7" y2="452.41" stroke="#111" stroke-width="0.9"/>
<line x1="368.9" y1="449.46" x2="375.3" y2="449.46" stroke="#111" stroke-width="0.9"/>
<line x1="377.8" y1="454.33" x2="384.2" y2="454.33" stroke="#111" stroke-width="0.9"/>
<line x1="386.6" y1="442.73" x2="393" y2="442.73" stroke="#111" stroke-width="0.9"/>
<line x1="395.6" y1="446.04" x2="402" y2="446.04" stroke="#111" stroke-width="0.9"/>
<line x1="404.4" y1="449.83" x2="410.8" y2="449.83" stroke="#111" stroke-width="0.9"/>
<line x1="412.9" y1="447.71" x2="419.3" y2="447.71" stroke="#111" stroke-width="0.9"/>
<line x1="421.8" y1="448.67" x2="428.2" y2="448.67" stroke="#111" stroke-width="0.9"/>
<line x1="430.6" y1="447.7" x2="437" y2="447.7" stroke="#111" stroke-width="0.9"/>
<rect x="279.65" y="407.41" width="5.1" height="5.1" fill="#f6a3aa" stroke="#4a3033" stroke-width="0.6"/>
<rect x="279.65" y="410.99" width="5.1" height="5.1" fill="#f6a3aa" stroke="#4a3033" stroke-width="0.6"/>
<rect x="279.65" y="412.78" width="5.1" height="5.1" fill="#f6a3aa" stroke="#4a3033" stroke-width="0.6"/>
<rect x="279.65" y="419.94" width="5.1" height="5.1" fill="#f6a3aa" stroke="#4a3033" stroke-width="0.6"/>
<rect x="279.65" y="421.73" width="5.1" height="5.1" fill="#f6a3aa" stroke="#4a3033" stroke-width="0.6"/>
<rect x="279.65" y="423.52" width="5.1" height="5.1" fill="#f6a3aa" stroke="#4a3033" stroke-width="0.6"/>
<rect x="279.65" y="425.31" width="5.1" height="5.1" fill="#f6a3aa" stroke="#4a3033" stroke-width="0.6"/>
<rect x="279.65" y="428.89" width="5.1" height="5.1" fill="#f6a3aa" stroke="#4a3033" stroke-width="0.6"/>
<rect x="279.65" y="432.47" width="5.1" height="5.1" fill="#f6a3aa" stroke="#4a3033" stroke-width="0.6"/>
<rect x="279.65" y="434.26" width="5.1" height="5.1" fill="#f6a3aa" stroke="#4a3033" stroke-width="0.6"/>
<rect x="279.65" y="439.63" width="5.1" height="5.1" fill="#f6a3aa" stroke="#4a3033" stroke-width="0.6"/>
<rect x="279.65" y="441.42" width="5.1" height="5.1" fill="#f6a3aa" stroke="#4a3033" stroke-width="0.6"/>
<rect x="279.65" y="446.79" width="5.1" height="5.1" fill="#f6a3aa" stroke="#4a3033" stroke-width="0.6"/>
<rect x="279.65" y="450.37" width="5.1" height="5.1" fill="#f6a3aa" stroke="#4a3033" stroke-width="0.6"/>
<rect x="279.65" y="453.95" width="5.1" height="5.1" fill="#f6a3aa" stroke="#4a3033" stroke-width="0.6"/>
<rect x="288.55" y="412.78" width="5.1" height="5.1" fill="#f6a3aa" stroke="#4a3033" stroke-width="0.6"/>
<rect x="288.55" y="430.68" width="5.1" height="5.1" fill="#f6a3aa" stroke="#4a3033" stroke-width="0.6"/>
<rect x="288.55" y="434.26" width="5.1" height="5.1" fill="#f6a3aa" stroke="#4a3033" stroke-width="0.6"/>
<rect x="288.55" y="436.05" width="5.1" height="5.1" fill="#f6a3aa" stroke="#4a3033" stroke-width="0.6"/>
<rect x="288.55" y="441.42" width="5.1" height="5.1" fill="#f6a3aa" stroke="#4a3033" stroke-width="0.6"/>
<rect x="288.55" y="445" width="5.1" height="5.1" fill="#f6a3aa" stroke="#4a3033" stroke-width="0.6"/>
<rect x="288.55" y="448.58" width="5.1" height="5.1" fill="#f6a3aa" stroke="#4a3033" stroke-width="0.6"/>
<rect x="288.55" y="450.37" width="5.1" height="5.1" fill="#f6a3aa" stroke="#4a3033" stroke-width="0.6"/>
<rect x="288.55" y="453.95" width="5.1" height="5.1" fill="#f6a3aa" stroke="#4a3033" stroke-width="0.6"/>
<rect x="288.55" y="457.53" width="5.1" height="5.1" fill="#f6a3aa" stroke="#4a3033" stroke-width="0.6"/>
<rect x="288.55" y="461.11" width="5.1" height="5.1" fill="#f6a3aa" stroke="#4a3033" stroke-width="0.6"/>
<rect x="288.55" y="464.69" width="5.1" height="5.1" fill="#f6a3aa" stroke="#4a3033" stroke-width="0.6"/>
<rect x="288.55" y="468.27" width="5.1" height="5.1" fill="#f6a3aa" stroke="#4a3033" stroke-width="0.6"/>
<rect x="288.55" y="479.01" width="5.1" height="5.1" fill="#f6a3aa" stroke="#4a3033" stroke-width="0.6"/>
<rect x="288.55" y="486.17" width="5.1" height="5.1" fill="#f6a3aa" stroke="#4a3033" stroke-width="0.6"/>
<rect x="297.05" y="428.89" width="5.1" height="5.1" fill="#f6a3aa" stroke="#4a3033" stroke-width="0.6"/>
<rect x="297.05" y="436.05" width="5.1" height="5.1" fill="#f6a3aa" stroke="#4a3033" stroke-width="0.6"/>
<rect x="297.05" y="437.84" width="5.1" height="5.1" fill="#f6a3aa" stroke="#4a3033" stroke-width="0.6"/>
<rect x="297.05" y="441.42" width="5.1" height="5.1" fill="#f6a3aa" stroke="#4a3033" stroke-width="0.6"/>
<rect x="297.05" y="446.79" width="5.1" height="5.1" fill="#f6a3aa" stroke="#4a3033" stroke-width="0.6"/>
<rect x="297.05" y="448.58" width="5.1" height="5.1" fill="#f6a3aa" stroke="#4a3033" stroke-width="0.6"/>
<rect x="297.05" y="452.16" width="5.1" height="5.1" fill="#f6a3aa" stroke="#4a3033" stroke-width="0.6"/>
<rect x="297.05" y="455.74" width="5.1" height="5.1" fill="#f6a3aa" stroke="#4a3033" stroke-width="0.6"/>
<rect x="297.05" y="459.32" width="5.1" height="5.1" fill="#f6a3aa" stroke="#4a3033" stroke-width="0.6"/>
<rect x="297.05" y="462.9" width="5.1" height="5.1" fill="#f6a3aa" stroke="#4a3033" stroke-width="0.6"/>
<rect x="297.05" y="464.69" width="5.1" height="5.1" fill="#f6a3aa" stroke="#4a3033" stroke-width="0.6"/>
<rect x="297.05" y="475.43" width="5.1" height="5.1" fill="#f6a3aa" stroke="#4a3033" stroke-width="0.6"/>
<rect x="297.05" y="477.22" width="5.1" height="5.1" fill="#f6a3aa" stroke="#4a3033" stroke-width="0.6"/>
<rect x="297.05" y="486.17" width="5.1" height="5.1" fill="#f6a3aa" stroke="#4a3033" stroke-width="0.6"/>
<rect x="297.05" y="489.75" width="5.1" height="5.1" fill="#f6a3aa" stroke="#4a3033" stroke-width="0.6"/>
<rect x="305.55" y="439.63" width="5.1" height="5.1" fill="#f6a3aa" stroke="#4a3033" stroke-width="0.6"/>
<rect x="305.55" y="441.42" width="5.1" height="5.1" fill="#f6a3aa" stroke="#4a3033" stroke-width="0.6"/>
<rect x="305.55" y="448.58" width="5.1" height="5.1" fill="#f6a3aa" stroke="#4a3033" stroke-width="0.6"/>
<rect x="305.55" y="450.37" width="5.1" height="5.1" fill="#f6a3aa" stroke="#4a3033" stroke-width="0.6"/>
<rect x="305.55" y="453.95" width="5.1" height="5.1" fill="#f6a3aa" stroke="#4a3033" stroke-width="0.6"/>
<rect x="305.55" y="457.53" width="5.1" height="5.1" fill="#f6a3aa" stroke="#4a3033" stroke-width="0.6"/>
<rect x="305.55" y="462.9" width="5.1" height="5.1" fill="#f6a3aa" stroke="#4a3033" stroke-width="0.6"/>
<rect x="305.55" y="466.48" width="5.1" height="5.1" fill="#f6a3aa" stroke="#4a3033" stroke-width="0.6"/>
<rect x="305.55" y="468.27" width="5.1" height="5.1" fill="#f6a3aa" stroke="#4a3033" stroke-width="0.6"/>
<rect x="305.55" y="471.85" width="5.1" height="5.1" fill="#f6a3aa" stroke="#4a3033" stroke-width="0.6"/>
<rect x="305.55" y="475.43" width="5.1" height="5.1" fill="#f6a3aa" stroke="#4a3033" stroke-width="0.6"/>
<rect x="305.55" y="479.01" width="5.1" height="5.1" fill="#f6a3aa" stroke="#4a3033" stroke-width="0.6"/>
<rect x="305.55" y="480.8" width="5.1" height="5.1" fill="#f6a3aa" stroke="#4a3033" stroke-width="0.6"/>
<rect x="305.55" y="484.38" width="5.1" height="5.1" fill="#f6a3aa" stroke="#4a3033" stroke-width="0.6"/>
<rect x="305.55" y="487.96" width="5.1" height="5.1" fill="#f6a3aa" stroke="#4a3033" stroke-width="0.6"/>
<rect x="314.55" y="439.63" width="5.1" height="5.1" fill="#f6a3aa" stroke="#4a3033" stroke-width="0.6"/>
<rect x="314.55" y="441.42" width="5.1" height="5.1" fill="#f6a3aa" stroke="#4a3033" stroke-width="0.6"/>
<rect x="314.55" y="450.37" width="5.1" height="5.1" fill="#f6a3aa" stroke="#4a3033" stroke-width="0.6"/>
<rect x="314.55" y="453.95" width="5.1" height="5.1" fill="#f6a3aa" stroke="#4a3033" stroke-width="0.6"/>
<rect x="314.55" y="462.9" width="5.1" height="5.1" fill="#f6a3aa" stroke="#4a3033" stroke-width="0.6"/>
<rect x="314.55" y="470.06" width="5.1" height="5.1" fill="#f6a3aa" stroke="#4a3033" stroke-width="0.6"/>
<rect x="314.55" y="471.85" width="5.1" height="5.1" fill="#f6a3aa" stroke="#4a3033" stroke-width="0.6"/>
<rect x="314.55" y="475.43" width="5.1" height="5.1" fill="#f6a3aa" stroke="#4a3033" stroke-width="0.6"/>
<rect x="314.55" y="479.01" width="5.1" height="5.1" fill="#f6a3aa" stroke="#4a3033" stroke-width="0.6"/>
<rect x="314.55" y="480.8" width="5.1" height="5.1" fill="#f6a3aa" stroke="#4a3033" stroke-width="0.6"/>
<rect x="314.55" y="486.17" width="5.1" height="5.1" fill="#f6a3aa" stroke="#4a3033" stroke-width="0.6"/>
<rect x="323.05" y="421.73" width="5.1" height="5.1" fill="#f6a3aa" stroke="#4a3033" stroke-width="0.6"/>
<rect x="323.05" y="428.89" width="5.1" height="5.1" fill="#f6a3aa" stroke="#4a3033" stroke-width="0.6"/>
<rect x="323.05" y="445" width="5.1" height="5.1" fill="#f6a3aa" stroke="#4a3033" stroke-width="0.6"/>
<rect x="323.05" y="452.16" width="5.1" height="5.1" fill="#f6a3aa" stroke="#4a3033" stroke-width="0.6"/>
<rect x="323.05" y="455.74" width="5.1" height="5.1" fill="#f6a3aa" stroke="#4a3033" stroke-width="0.6"/>
<rect x="323.05" y="464.69" width="5.1" height="5.1" fill="#f6a3aa" stroke="#4a3033" stroke-width="0.6"/>
<rect x="323.05" y="468.27" width="5.1" height="5.1" fill="#f6a3aa" stroke="#4a3033" stroke-width="0.6"/>
<rect x="323.05" y="470.06" width="5.1" height="5.1" fill="#f6a3aa" stroke="#4a3033" stroke-width="0.6"/>
<rect x="323.05" y="473.64" width="5.1" height="5.1" fill="#f6a3aa" stroke="#4a3033" stroke-width="0.6"/>
<rect x="323.05" y="477.22" width="5.1" height="5.1" fill="#f6a3aa" stroke="#4a3033" stroke-width="0.6"/>
<rect x="323.05" y="479.01" width="5.1" height="5.1" fill="#f6a3aa" stroke="#4a3033" stroke-width="0.6"/>
<rect x="323.05" y="482.59" width="5.1" height="5.1" fill="#f6a3aa" stroke="#4a3033" stroke-width="0.6"/>
<rect x="323.05" y="486.17" width="5.1" height="5.1" fill="#f6a3aa" stroke="#4a3033" stroke-width="0.6"/>
<circle cx="336.8" cy="397.43" r="2.5" fill="#9fc7f5" stroke="#34495f" stroke-width="0.6"/>
<circle cx="336.8" cy="399.22" r="2.5" fill="#9fc7f5" stroke="#34495f" stroke-width="0.6"/>
<circle cx="336.8" cy="415.33" r="2.5" fill="#9fc7f5" stroke="#34495f" stroke-width="0.6"/>
<circle cx="336.8" cy="417.12" r="2.5" fill="#9fc7f5" stroke="#34495f" stroke-width="0.6"/>
<circle cx="336.8" cy="418.91" r="2.5" fill="#9fc7f5" stroke="#34495f" stroke-width="0.6"/>
<circle cx="336.8" cy="426.07" r="2.5" fill="#9fc7f5" stroke="#34495f" stroke-width="0.6"/>
<circle cx="336.8" cy="433.23" r="2.5" fill="#9fc7f5" stroke="#34495f" stroke-width="0.6"/>
<circle cx="336.8" cy="436.81" r="2.5" fill="#9fc7f5" stroke="#34495f" stroke-width="0.6"/>
<circle cx="336.8" cy="440.39" r="2.5" fill="#9fc7f5" stroke="#34495f" stroke-width="0.6"/>
<circle cx="336.8" cy="443.97" r="2.5" fill="#9fc7f5" stroke="#34495f" stroke-width="0.6"/>
<circle cx="336.8" cy="445.76" r="2.5" fill="#9fc7f5" stroke="#34495f" stroke-width="0.6"/>
<circle cx="336.8" cy="449.34" r="2.5" fill="#9fc7f5" stroke="#34495f" stroke-width="0.6"/>
<circle cx="336.8" cy="452.92" r="2.5" fill="#9fc7f5" stroke="#34495f" stroke-width="0.6"/>
<circle cx="336.8" cy="454.71" r="2.5" fill="#9fc7f5" stroke="#34495f" stroke-width="0.6"/>
<circle cx="345.6" cy="399.22" r="2.5" fill="#9fc7f5" stroke="#34495f" stroke-width="0.6"/>
<circle cx="345.6" cy="402.8" r="2.5" fill="#9fc7f5" stroke="#34495f" stroke-width="0.6"/>
<circle cx="345.6" cy="404.59" r="2.5" fill="#9fc7f5" stroke="#34495f" stroke-width="0.6"/>
<circle cx="345.6" cy="418.91" r="2.5" fill="#9fc7f5" stroke="#34495f" stroke-width="0.6"/>
<circle cx="345.6" cy="431.44" r="2.5" fill="#9fc7f5" stroke="#34495f" stroke-width="0.6"/>
<circle cx="345.6" cy="436.81" r="2.5" fill="#9fc7f5" stroke="#34495f" stroke-width="0.6"/>
<circle cx="345.6" cy="440.39" r="2.5" fill="#9fc7f5" stroke="#34495f" stroke-width="0.6"/>
<circle cx="345.6" cy="443.97" r="2.5" fill="#9fc7f5" stroke="#34495f" stroke-width="0.6"/>
<circle cx="345.6" cy="445.76" r="2.5" fill="#9fc7f5" stroke="#34495f" stroke-width="0.6"/>
<circle cx="345.6" cy="449.34" r="2.5" fill="#9fc7f5" stroke="#34495f" stroke-width="0.6"/>
<circle cx="345.6" cy="452.92" r="2.5" fill="#9fc7f5" stroke="#34495f" stroke-width="0.6"/>
<circle cx="345.6" cy="454.71" r="2.5" fill="#9fc7f5" stroke="#34495f" stroke-width="0.6"/>
<circle cx="345.6" cy="458.29" r="2.5" fill="#9fc7f5" stroke="#34495f" stroke-width="0.6"/>
<circle cx="345.6" cy="469.03" r="2.5" fill="#9fc7f5" stroke="#34495f" stroke-width="0.6"/>
<circle cx="354.6" cy="409.96" r="2.5" fill="#9fc7f5" stroke="#34495f" stroke-width="0.6"/>
<circle cx="354.6" cy="415.33" r="2.5" fill="#9fc7f5" stroke="#34495f" stroke-width="0.6"/>
<circle cx="354.6" cy="424.28" r="2.5" fill="#9fc7f5" stroke="#34495f" stroke-width="0.6"/>
<circle cx="354.6" cy="431.44" r="2.5" fill="#9fc7f5" stroke="#34495f" stroke-width="0.6"/>
<circle cx="354.6" cy="433.23" r="2.5" fill="#9fc7f5" stroke="#34495f" stroke-width="0.6"/>
<circle cx="354.6" cy="442.18" r="2.5" fill="#9fc7f5" stroke="#34495f" stroke-width="0.6"/>
<circle cx="354.6" cy="447.55" r="2.5" fill="#9fc7f5" stroke="#34495f" stroke-width="0.6"/>
<circle cx="354.6" cy="449.34" r="2.5" fill="#9fc7f5" stroke="#34495f" stroke-width="0.6"/>
<circle cx="354.6" cy="454.71" r="2.5" fill="#9fc7f5" stroke="#34495f" stroke-width="0.6"/>
<circle cx="354.6" cy="458.29" r="2.5" fill="#9fc7f5" stroke="#34495f" stroke-width="0.6"/>
<circle cx="354.6" cy="465.45" r="2.5" fill="#9fc7f5" stroke="#34495f" stroke-width="0.6"/>
<circle cx="354.6" cy="474.4" r="2.5" fill="#9fc7f5" stroke="#34495f" stroke-width="0.6"/>
<circle cx="363.5" cy="404.59" r="2.5" fill="#9fc7f5" stroke="#34495f" stroke-width="0.6"/>
<circle cx="363.5" cy="418.91" r="2.5" fill="#9fc7f5" stroke="#34495f" stroke-width="0.6"/>
<circle cx="363.5" cy="431.44" r="2.5" fill="#9fc7f5" stroke="#34495f" stroke-width="0.6"/>
<circle cx="363.5" cy="433.23" r="2.5" fill="#9fc7f5" stroke="#34495f" stroke-width="0.6"/>
<circle cx="363.5" cy="438.6" r="2.5" fill="#9fc7f5" stroke="#34495f" stroke-width="0.6"/>
<circle cx="363.5" cy="443.97" r="2.5" fill="#9fc7f5" stroke="#34495f" stroke-width="0.6"/>
<circle cx="363.5" cy="452.92" r="2.5" fill="#9fc7f5" stroke="#34495f" stroke-width="0.6"/>
<circle cx="363.5" cy="454.71" r="2.5" fill="#9fc7f5" stroke="#34495f" stroke-width="0.6"/>
<circle cx="363.5" cy="458.29" r="2.5" fill="#9fc7f5" stroke="#34495f" stroke-width="0.6"/>
<circle cx="363.5" cy="470.82" r="2.5" fill="#9fc7f5" stroke="#34495f" stroke-width="0.6"/>
<circle cx="363.5" cy="476.19" r="2.5" fill="#9fc7f5" stroke="#34495f" stroke-width="0.6"/>
<circle cx="363.5" cy="477.98" r="2.5" fill="#9fc7f5" stroke="#34495f" stroke-width="0.6"/>
<circle cx="363.5" cy="481.56" r="2.5" fill="#9fc7f5" stroke="#34495f" stroke-width="0.6"/>
<circle cx="363.5" cy="490.51" r="2.5" fill="#9fc7f5" stroke="#34495f" stroke-width="0.6"/>
<circle cx="372.1" cy="402.8" r="2.5" fill="#9fc7f5" stroke="#34495f" stroke-width="0.6"/>
<circle cx="372.1" cy="424.28" r="2.5" fill="#9fc7f5" stroke="#34495f" stroke-width="0.6"/>
<circle cx="372.1" cy="424.28" r="2.5" fill="#9fc7f5" stroke="#34495f" stroke-width="0.6"/>
<circle cx="372.1" cy="431.44" r="2.5" fill="#9fc7f5" stroke="#34495f" stroke-width="0.6"/>
<circle cx="372.1" cy="436.81" r="2.5" fill="#9fc7f5" stroke="#34495f" stroke-width="0.6"/>
<circle cx="372.1" cy="442.18" r="2.5" fill="#9fc7f5" stroke="#34495f" stroke-width="0.6"/>
<circle cx="372.1" cy="445.76" r="2.5" fill="#9fc7f5" stroke="#34495f" stroke-width="0.6"/>
<circle cx="372.1" cy="449.34" r="2.5" fill="#9fc7f5" stroke="#34495f" stroke-width="0.6"/>
<circle cx="372.1" cy="451.13" r="2.5" fill="#9fc7f5" stroke="#34495f" stroke-width="0.6"/>
<circle cx="372.1" cy="456.5" r="2.5" fill="#9fc7f5" stroke="#34495f" stroke-width="0.6"/>
<circle cx="372.1" cy="458.29" r="2.5" fill="#9fc7f5" stroke="#34495f" stroke-width="0.6"/>
<circle cx="372.1" cy="465.45" r="2.5" fill="#9fc7f5" stroke="#34495f" stroke-width="0.6"/>
<circle cx="372.1" cy="477.98" r="2.5" fill="#9fc7f5" stroke="#34495f" stroke-width="0.6"/>
<circle cx="372.1" cy="483.35" r="2.5" fill="#9fc7f5" stroke="#34495f" stroke-width="0.6"/>
<circle cx="372.1" cy="492.3" r="2.5" fill="#9fc7f5" stroke="#34495f" stroke-width="0.6"/>
<circle cx="381" cy="393.85" r="2.5" fill="#9fc7f5" stroke="#34495f" stroke-width="0.6"/>
<circle cx="381" cy="418.91" r="2.5" fill="#9fc7f5" stroke="#34495f" stroke-width="0.6"/>
<circle cx="381" cy="427.86" r="2.5" fill="#9fc7f5" stroke="#34495f" stroke-width="0.6"/>
<circle cx="381" cy="429.65" r="2.5" fill="#9fc7f5" stroke="#34495f" stroke-width="0.6"/>
<circle cx="381" cy="433.23" r="2.5" fill="#9fc7f5" stroke="#34495f" stroke-width="0.6"/>
<circle cx="381" cy="438.6" r="2.5" fill="#9fc7f5" stroke="#34495f" stroke-width="0.6"/>
<circle cx="381" cy="442.18" r="2.5" fill="#9fc7f5" stroke="#34495f" stroke-width="0.6"/>
<circle cx="381" cy="445.76" r="2.5" fill="#9fc7f5" stroke="#34495f" stroke-width="0.6"/>
<circle cx="381" cy="449.34" r="2.5" fill="#9fc7f5" stroke="#34495f" stroke-width="0.6"/>
<circle cx="381" cy="456.5" r="2.5" fill="#9fc7f5" stroke="#34495f" stroke-width="0.6"/>
<circle cx="381" cy="465.45" r="2.5" fill="#9fc7f5" stroke="#34495f" stroke-width="0.6"/>
<circle cx="381" cy="467.24" r="2.5" fill="#9fc7f5" stroke="#34495f" stroke-width="0.6"/>
<circle cx="381" cy="470.82" r="2.5" fill="#9fc7f5" stroke="#34495f" stroke-width="0.6"/>
<circle cx="381" cy="474.4" r="2.5" fill="#9fc7f5" stroke="#34495f" stroke-width="0.6"/>
<circle cx="381" cy="477.98" r="2.5" fill="#9fc7f5" stroke="#34495f" stroke-width="0.6"/>
<circle cx="381" cy="479.77" r="2.5" fill="#9fc7f5" stroke="#34495f" stroke-width="0.6"/>
<circle cx="381" cy="483.35" r="2.5" fill="#9fc7f5" stroke="#34495f" stroke-width="0.6"/>
<circle cx="381" cy="486.93" r="2.5" fill="#9fc7f5" stroke="#34495f" stroke-width="0.6"/>
<circle cx="381" cy="490.51" r="2.5" fill="#9fc7f5" stroke="#34495f" stroke-width="0.6"/>
<polygon points="389.8,414.31 387.2,418.99 392.4,418.99" fill="#fff" stroke="#333" stroke-width="0.7"/>
<polygon points="389.8,423.26 387.2,427.94 392.4,427.94" fill="#fff" stroke="#333" stroke-width="0.7"/>
<polygon points="389.8,426.84 387.2,431.52 392.4,431.52" fill="#fff" stroke="#333" stroke-width="0.7"/>
<polygon points="389.8,430.42 387.2,435.1 392.4,435.1" fill="#fff" stroke="#333" stroke-width="0.7"/>
<polygon points="389.8,432.21 387.2,436.89 392.4,436.89" fill="#fff" stroke="#333" stroke-width="0.7"/>
<polygon points="389.8,435.79 387.2,440.47 392.4,440.47" fill="#fff" stroke="#333" stroke-width="0.7"/>
<polygon points="389.8,439.37 387.2,444.05 392.4,444.05" fill="#fff" stroke="#333" stroke-width="0.7"/>
<polygon points="389.8,446.53 387.2,451.21 392.4,451.21" fill="#fff" stroke="#333" stroke-width="0.7"/>
<polygon points="389.8,448.32 387.2,453 392.4,453" fill="#fff" stroke="#333" stroke-width="0.7"/>
<polygon points="389.8,450.11 387.2,454.79 392.4,454.79" fill="#fff" stroke="#333" stroke-width="0.7"/>
<polygon points="389.8,453.69 387.2,458.37 392.4,458.37" fill="#fff" stroke="#333" stroke-width="0.7"/>
<polygon points="389.8,457.27 387.2,461.95 392.4,461.95" fill="#fff" stroke="#333" stroke-width="0.7"/>
<polygon points="389.8,460.85 387.2,465.53 392.4,465.53" fill="#fff" stroke="#333" stroke-width="0.7"/>
<polygon points="398.8,416.1 396.2,420.78 401.4,420.78" fill="#fff" stroke="#333" stroke-width="0.7"/>
<polygon points="398.8,423.26 396.2,427.94 401.4,427.94" fill="#fff" stroke="#333" stroke-width="0.7"/>
<polygon points="398.8,426.84 396.2,431.52 401.4,431.52" fill="#fff" stroke="#333" stroke-width="0.7"/>
<polygon points="398.8,430.42 396.2,435.1 401.4,435.1" fill="#fff" stroke="#333" stroke-width="0.7"/>
<polygon points="398.8,432.21 396.2,436.89 401.4,436.89" fill="#fff" stroke="#333" stroke-width="0.7"/>
<polygon points="398.8,437.58 396.2,442.26 401.4,442.26" fill="#fff" stroke="#333" stroke-width="0.7"/>
<polygon points="398.8,442.95 396.2,447.63 401.4,447.63" fill="#fff" stroke="#333" stroke-width="0.7"/>
<polygon points="398.8,446.53 396.2,451.21 401.4,451.21" fill="#fff" stroke="#333" stroke-width="0.7"/>
<polygon points="398.8,450.11 396.2,454.79 401.4,454.79" fill="#fff" stroke="#333" stroke-width="0.7"/>
<polygon points="398.8,453.69 396.2,458.37 401.4,458.37" fill="#fff" stroke="#333" stroke-width="0.7"/>
<polygon points="398.8,462.64 396.2,467.32 401.4,467.32" fill="#fff" stroke="#333" stroke-width="0.7"/>
<polygon points="398.8,468.01 396.2,472.69 401.4,472.69" fill="#fff" stroke="#333" stroke-width="0.7"/>
<polygon points="398.8,471.59 396.2,476.27 401.4,476.27" fill="#fff" stroke="#333" stroke-width="0.7"/>
<polygon points="407.6,419.68 405,424.36 410.2,424.36" fill="#fff" stroke="#333" stroke-width="0.7"/>
<polygon points="407.6,423.26 405,427.94 410.2,427.94" fill="#fff" stroke="#333" stroke-width="0.7"/>
<polygon points="407.6,434 405,438.68 410.2,438.68" fill="#fff" stroke="#333" stroke-width="0.7"/>
<polygon points="407.6,437.58 405,442.26 410.2,442.26" fill="#fff" stroke="#333" stroke-width="0.7"/>
<polygon points="407.6,439.37 405,444.05 410.2,444.05" fill="#fff" stroke="#333" stroke-width="0.7"/>
<polygon points="407.6,446.53 405,451.21 410.2,451.21" fill="#fff" stroke="#333" stroke-width="0.7"/>
<polygon points="407.6,451.9 405,456.58 410.2,456.58" fill="#fff" stroke="#333" stroke-width="0.7"/>
<polygon points="407.6,455.48 405,460.16 410.2,460.16" fill="#fff" stroke="#333" stroke-width="0.7"/>
<polygon points="407.6,462.64 405,467.32 410.2,467.32" fill="#fff" stroke="#333" stroke-width="0.7"/>
<polygon points="407.6,471.59 405,476.27 410.2,476.27" fill="#fff" stroke="#333" stroke-width="0.7"/>
<polygon points="407.6,475.17 405,479.85 410.2,479.85" fill="#fff" stroke="#333" stroke-width="0.7"/>
<polygon points="416.1,407.15 413.5,411.83 418.7,411.83" fill="#fff" stroke="#333" stroke-width="0.7"/>
<polygon points="416.1,416.1 413.5,420.78 418.7,420.78" fill="#fff" stroke="#333" stroke-width="0.7"/>
<polygon points="416.1,426.84 413.5,431.52 418.7,431.52" fill="#fff" stroke="#333" stroke-width="0.7"/>
<polygon points="416.1,434 413.5,438.68 418.7,438.68" fill="#fff" stroke="#333" stroke-width="0.7"/>
<polygon points="416.1,442.95 413.5,447.63 418.7,447.63" fill="#fff" stroke="#333" stroke-width="0.7"/>
<polygon points="416.1,446.53 413.5,451.21 418.7,451.21" fill="#fff" stroke="#333" stroke-width="0.7"/>
<polygon points="416.1,448.32 413.5,453 418.7,453" fill="#fff" stroke="#333" stroke-width="0.7"/>
<polygon points="416.1,450.11 413.5,454.79 418.7,454.79" fill="#fff" stroke="#333" stroke-width="0.7"/>
<polygon points="416.1,468.01 413.5,472.69 418.7,472.69" fill="#fff" stroke="#333" stroke-width="0.7"/>
<polygon points="416.1,471.59 413.5,476.27 418.7,476.27" fill="#fff" stroke="#333" stroke-width="0.7"/>
<polygon points="416.1,482.33 413.5,487.01 418.7,487.01" fill="#fff" stroke="#333" stroke-width="0.7"/>
<polygon points="425,412.52 422.4,417.2 427.6,417.2" fill="#fff" stroke="#333" stroke-width="0.7"/>
<polygon points="425,419.68 422.4,424.36 427.6,424.36" fill="#fff" stroke="#333" stroke-width="0.7"/>
<polygon points="425,423.26 422.4,427.94 427.6,427.94" fill="#fff" stroke="#333" stroke-width="0.7"/>
<polygon points="425,425.05 422.4,429.73 427.6,429.73" fill="#fff" stroke="#333" stroke-width="0.7"/>
<polygon points="425,428.63 422.4,433.31 427.6,433.31" fill="#fff" stroke="#333" stroke-width="0.7"/>
<polygon points="425,432.21 422.4,436.89 427.6,436.89" fill="#fff" stroke="#333" stroke-width="0.7"/>
<polygon points="425,435.79 422.4,440.47 427.6,440.47" fill="#fff" stroke="#333" stroke-width="0.7"/>
<polygon points="425,441.16 422.4,445.84 427.6,445.84" fill="#fff" stroke="#333" stroke-width="0.7"/>
<polygon points="425,446.53 422.4,451.21 427.6,451.21" fill="#fff" stroke="#333" stroke-width="0.7"/>
<polygon points="425,450.11 422.4,454.79 427.6,454.79" fill="#fff" stroke="#333" stroke-width="0.7"/>
<polygon points="425,453.69 422.4,458.37 427.6,458.37" fill="#fff" stroke="#333" stroke-width="0.7"/>
<polygon points="425,457.27 422.4,461.95 427.6,461.95" fill="#fff" stroke="#333" stroke-width="0.7"/>
<polygon points="425,462.64 422.4,467.32 427.6,467.32" fill="#fff" stroke="#333" stroke-width="0.7"/>
<polygon points="425,475.17 422.4,479.85 427.6,479.85" fill="#fff" stroke="#333" stroke-width="0.7"/>
<polygon points="425,480.54 422.4,485.22 427.6,485.22" fill="#fff" stroke="#333" stroke-width="0.7"/>
<polygon points="425,489.49 422.4,494.17 427.6,494.17" fill="#fff" stroke="#333" stroke-width="0.7"/>
<polygon points="433.8,416.1 431.2,420.78 436.4,420.78" fill="#fff" stroke="#333" stroke-width="0.7"/>
<polygon points="433.8,423.26 431.2,427.94 436.4,427.94" fill="#fff" stroke="#333" stroke-width="0.7"/>
<polygon points="433.8,426.84 431.2,431.52 436.4,431.52" fill="#fff" stroke="#333" stroke-width="0.7"/>
<polygon points="433.8,430.42 431.2,435.1 436.4,435.1" fill="#fff" stroke="#333" stroke-width="0.7"/>
<polygon points="433.8,432.21 431.2,436.89 436.4,436.89" fill="#fff" stroke="#333" stroke-width="0.7"/>
<polygon points="433.8,435.79 431.2,440.47 436.4,440.47" fill="#fff" stroke="#333" stroke-width="0.7"/>
<polygon points="433.8,450.11 431.2,454.79 436.4,454.79" fill="#fff" stroke="#333" stroke-width="0.7"/>
<polygon points="433.8,453.69 431.2,458.37 436.4,458.37" fill="#fff" stroke="#333" stroke-width="0.7"/>
<polygon points="433.8,457.27 431.2,461.95 436.4,461.95" fill="#fff" stroke="#333" stroke-width="0.7"/>
<polygon points="433.8,462.64 431.2,467.32 436.4,467.32" fill="#fff" stroke="#333" stroke-width="0.7"/>
<polygon points="433.8,468.01 431.2,472.69 436.4,472.69" fill="#fff" stroke="#333" stroke-width="0.7"/>
<polygon points="433.8,482.33 431.2,487.01 436.4,487.01" fill="#fff" stroke="#333" stroke-width="0.7"/>
<text x="486.6" y="87.2" font-size="7.4" text-anchor="middle" fill="#000" font-weight="bold" transform="rotate(-90 486.6 87.2)" textLength="74.3" lengthAdjust="spacingAndGlyphs">MADRS change score</text>
<line x1="492.5" y1="31.4" x2="492.5" y2="143.7" stroke="#3a3a3a" stroke-width="1.3"/>
<line x1="492.5" y1="143.1" x2="658.9" y2="143.1" stroke="#3a3a3a" stroke-width="1.3"/>
<line x1="489.5" y1="87.8" x2="492.5" y2="87.8" stroke="#3a3a3a" stroke-width="1"/>
<line x1="492.4" y1="143.1" x2="492.4" y2="146.1" stroke="#3a3a3a" stroke-width="1"/>
<text x="492.4" y="153.7" font-size="6.6" text-anchor="middle" fill="#222">-10</text>
<line x1="525.6" y1="143.1" x2="525.6" y2="146.1" stroke="#3a3a3a" stroke-width="1"/>
<text x="525.6" y="153.7" font-size="6.6" text-anchor="middle" fill="#222">0</text>
<line x1="558.8" y1="143.1" x2="558.8" y2="146.1" stroke="#3a3a3a" stroke-width="1"/>
<text x="558.8" y="153.7" font-size="6.6" text-anchor="middle" fill="#222">10</text>
<line x1="592" y1="143.1" x2="592" y2="146.1" stroke="#3a3a3a" stroke-width="1"/>
<text x="592" y="153.7" font-size="6.6" text-anchor="middle" fill="#222">20</text>
<line x1="625.2" y1="143.1" x2="625.2" y2="146.1" stroke="#3a3a3a" stroke-width="1"/>
<text x="625.2" y="153.7" font-size="6.6" text-anchor="middle" fill="#222">30</text>
<line x1="658.4" y1="143.1" x2="658.4" y2="146.1" stroke="#3a3a3a" stroke-width="1"/>
<text x="658.4" y="153.7" font-size="6.6" text-anchor="middle" fill="#222">40</text>
<text x="575.2" y="164.9" font-size="8.4" text-anchor="middle" fill="#111" font-weight="bold" textLength="21" lengthAdjust="spacingAndGlyphs">Score</text>
<line x1="512" y1="54.6" x2="536.4" y2="54.6" stroke="#555" stroke-width="0.9"/>
<line x1="561.5" y1="54.6" x2="585.4" y2="54.6" stroke="#555" stroke-width="0.9"/>
<line x1="512" y1="49.6" x2="512" y2="59.6" stroke="#555" stroke-width="0.9"/>
<line x1="585.4" y1="49.6" x2="585.4" y2="59.6" stroke="#555" stroke-width="0.9"/>
<rect x="536.4" y="44.1" width="25.1" height="21" fill="#a19fa4" stroke="#333" stroke-width="0.8"/>
<line x1="541.3" y1="44.1" x2="541.3" y2="65.1" stroke="#333" stroke-width="0.9"/>
<line x1="544.2" y1="54.6" x2="548.6" y2="54.6" stroke="#111" stroke-width="0.9"/>
<line x1="546.4" y1="52.4" x2="546.4" y2="56.8" stroke="#111" stroke-width="0.9"/>
<line x1="525.2" y1="87.9" x2="551.4" y2="87.9" stroke="#555" stroke-width="0.9"/>
<line x1="583.5" y1="87.9" x2="605.3" y2="87.9" stroke="#555" stroke-width="0.9"/>
<line x1="525.2" y1="82.9" x2="525.2" y2="92.9" stroke="#555" stroke-width="0.9"/>
<line x1="605.3" y1="82.9" x2="605.3" y2="92.9" stroke="#555" stroke-width="0.9"/>
<rect x="551.4" y="77.4" width="32.1" height="21" fill="#5ea6f8" stroke="#333" stroke-width="0.8"/>
<line x1="575.5" y1="77.4" x2="575.5" y2="98.4" stroke="#333" stroke-width="0.9"/>
<line x1="568.1" y1="87.9" x2="572.5" y2="87.9" stroke="#111" stroke-width="0.9"/>
<line x1="570.3" y1="85.7" x2="570.3" y2="90.1" stroke="#111" stroke-width="0.9"/>
<line x1="551.8" y1="121" x2="577.3" y2="121" stroke="#555" stroke-width="0.9"/>
<line x1="617.1" y1="121" x2="651.5" y2="121" stroke="#555" stroke-width="0.9"/>
<line x1="551.8" y1="116" x2="551.8" y2="126" stroke="#555" stroke-width="0.9"/>
<line x1="651.5" y1="116" x2="651.5" y2="126" stroke="#555" stroke-width="0.9"/>
<rect x="577.3" y="110.4" width="39.8" height="21.2" fill="#f07880" stroke="#333" stroke-width="0.8"/>
<line x1="596.7" y1="110.4" x2="596.7" y2="131.6" stroke="#333" stroke-width="0.9"/>
<line x1="594.5" y1="121" x2="598.9" y2="121" stroke="#111" stroke-width="0.9"/>
<line x1="596.7" y1="118.8" x2="596.7" y2="123.2" stroke="#111" stroke-width="0.9"/>
<rect x="585" y="81" width="4" height="4" fill="#a19fa4" stroke="none" stroke-width="0"/>
<rect x="590.5" y="81" width="4" height="4" fill="#f07880" stroke="none" stroke-width="0"/>
<rect x="631" y="113.8" width="4" height="4" fill="#5ea6f8" stroke="none" stroke-width="0"/>
<rect x="635.8" y="113.8" width="4" height="4" fill="#a19fa4" stroke="none" stroke-width="0"/>
<rect x="588.2" y="36" width="6.6" height="4.4" fill="#f07880" stroke="#333" stroke-width="0.7"/>
<text x="599.2" y="40.6" font-size="6.8" text-anchor="start" fill="#222" textLength="84.5" lengthAdjust="spacingAndGlyphs">optimized multichannel tDCS</text>
<rect x="588.2" y="44.65" width="6.6" height="4.4" fill="#5ea6f8" stroke="#333" stroke-width="0.7"/>
<text x="599.2" y="49.25" font-size="6.8" text-anchor="start" fill="#222" textLength="54.5" lengthAdjust="spacingAndGlyphs">conventional tDCS</text>
<rect x="588.2" y="53.3" width="6.6" height="4.4" fill="#a19fa4" stroke="#333" stroke-width="0.7"/>
<text x="599.2" y="57.9" font-size="6.8" text-anchor="start" fill="#222" textLength="33.5" lengthAdjust="spacingAndGlyphs">sham tDCS</text>
<text x="486.6" y="254.5" font-size="7.4" text-anchor="middle" fill="#000" font-weight="bold" transform="rotate(-90 486.6 254.5)" textLength="70.3" lengthAdjust="spacingAndGlyphs">HDRS change score</text>
<line x1="492.5" y1="198.4" x2="492.5" y2="310.1" stroke="#3a3a3a" stroke-width="1.3"/>
<line x1="492.5" y1="309.5" x2="659.8" y2="309.5" stroke="#3a3a3a" stroke-width="1.3"/>
<line x1="489.5" y1="254.1" x2="492.5" y2="254.1" stroke="#3a3a3a" stroke-width="1"/>
<line x1="492.9" y1="309.5" x2="492.9" y2="312.5" stroke="#3a3a3a" stroke-width="1"/>
<text x="492.9" y="320.1" font-size="6.6" text-anchor="middle" fill="#222">-10</text>
<line x1="526.2" y1="309.5" x2="526.2" y2="312.5" stroke="#3a3a3a" stroke-width="1"/>
<text x="526.2" y="320.1" font-size="6.6" text-anchor="middle" fill="#222">0</text>
<line x1="559.5" y1="309.5" x2="559.5" y2="312.5" stroke="#3a3a3a" stroke-width="1"/>
<text x="559.5" y="320.1" font-size="6.6" text-anchor="middle" fill="#222">10</text>
<line x1="592.8" y1="309.5" x2="592.8" y2="312.5" stroke="#3a3a3a" stroke-width="1"/>
<text x="592.8" y="320.1" font-size="6.6" text-anchor="middle" fill="#222">20</text>
<line x1="626.1" y1="309.5" x2="626.1" y2="312.5" stroke="#3a3a3a" stroke-width="1"/>
<text x="626.1" y="320.1" font-size="6.6" text-anchor="middle" fill="#222">30</text>
<line x1="659.3" y1="309.5" x2="659.3" y2="312.5" stroke="#3a3a3a" stroke-width="1"/>
<text x="659.3" y="320.1" font-size="6.6" text-anchor="middle" fill="#222">40</text>
<text x="575.2" y="331.3" font-size="8.4" text-anchor="middle" fill="#111" font-weight="bold" textLength="21" lengthAdjust="spacingAndGlyphs">Score</text>
<line x1="506.3" y1="221.2" x2="520.4" y2="221.2" stroke="#555" stroke-width="0.9"/>
<line x1="542.6" y1="221.2" x2="576" y2="221.2" stroke="#555" stroke-width="0.9"/>
<line x1="506.3" y1="216.2" x2="506.3" y2="226.2" stroke="#555" stroke-width="0.9"/>
<line x1="576" y1="216.2" x2="576" y2="226.2" stroke="#555" stroke-width="0.9"/>
<rect x="520.4" y="210.4" width="22.2" height="21.6" fill="#a19fa4" stroke="#333" stroke-width="0.8"/>
<line x1="526.4" y1="210.4" x2="526.4" y2="232" stroke="#333" stroke-width="0.9"/>
<line x1="530.2" y1="221.2" x2="534.6" y2="221.2" stroke="#111" stroke-width="0.9"/>
<line x1="532.4" y1="219" x2="532.4" y2="223.4" stroke="#111" stroke-width="0.9"/>
<line x1="526.4" y1="254.2" x2="540.5" y2="254.2" stroke="#555" stroke-width="0.9"/>
<line x1="559.3" y1="254.2" x2="589.5" y2="254.2" stroke="#555" stroke-width="0.9"/>
<line x1="526.4" y1="249.2" x2="526.4" y2="259.2" stroke="#555" stroke-width="0.9"/>
<line x1="589.5" y1="249.2" x2="589.5" y2="259.2" stroke="#555" stroke-width="0.9"/>
<rect x="540.5" y="243.3" width="18.8" height="21.8" fill="#5ea6f8" stroke="#333" stroke-width="0.8"/>
<line x1="552.7" y1="243.3" x2="552.7" y2="265.1" stroke="#333" stroke-width="0.9"/>
<line x1="549.6" y1="254.2" x2="554" y2="254.2" stroke="#111" stroke-width="0.9"/>
<line x1="551.8" y1="252" x2="551.8" y2="256.4" stroke="#111" stroke-width="0.9"/>
<line x1="536.3" y1="287.5" x2="553.3" y2="287.5" stroke="#555" stroke-width="0.9"/>
<line x1="598.2" y1="287.5" x2="616.2" y2="287.5" stroke="#555" stroke-width="0.9"/>
<line x1="536.3" y1="282.5" x2="536.3" y2="292.5" stroke="#555" stroke-width="0.9"/>
<line x1="616.2" y1="282.5" x2="616.2" y2="292.5" stroke="#555" stroke-width="0.9"/>
<rect x="553.3" y="276.6" width="44.9" height="21.8" fill="#f07880" stroke="#333" stroke-width="0.8"/>
<line x1="589.5" y1="276.6" x2="589.5" y2="298.4" stroke="#333" stroke-width="0.9"/>
<line x1="576" y1="287.5" x2="580.4" y2="287.5" stroke="#111" stroke-width="0.9"/>
<line x1="578.2" y1="285.3" x2="578.2" y2="289.7" stroke="#111" stroke-width="0.9"/>
<rect x="591.7" y="250.9" width="4" height="4" fill="#a19fa4" stroke="none" stroke-width="0"/>
<rect x="596.8" y="250.9" width="4" height="4" fill="#f07880" stroke="none" stroke-width="0"/>
<rect x="617.8" y="285.3" width="4" height="4" fill="#5ea6f8" stroke="none" stroke-width="0"/>
<rect x="622.9" y="285.3" width="4" height="4" fill="#a19fa4" stroke="none" stroke-width="0"/>
<text x="486.6" y="436.2" font-size="7.4" text-anchor="middle" fill="#000" font-weight="bold" transform="rotate(-90 486.6 436.2)" textLength="69" lengthAdjust="spacingAndGlyphs">BDI-II change score</text>
<line x1="492.5" y1="381.5" x2="492.5" y2="492.8" stroke="#3a3a3a" stroke-width="1.3"/>
<line x1="492.5" y1="492.2" x2="657.9" y2="492.2" stroke="#3a3a3a" stroke-width="1.3"/>
<line x1="489.5" y1="437" x2="492.5" y2="437" stroke="#3a3a3a" stroke-width="1"/>
<line x1="491.9" y1="492.2" x2="491.9" y2="495.2" stroke="#3a3a3a" stroke-width="1"/>
<text x="491.9" y="502.8" font-size="6.6" text-anchor="middle" fill="#222">-20</text>
<line x1="533.3" y1="492.2" x2="533.3" y2="495.2" stroke="#3a3a3a" stroke-width="1"/>
<text x="533.3" y="502.8" font-size="6.6" text-anchor="middle" fill="#222">0</text>
<line x1="574.6" y1="492.2" x2="574.6" y2="495.2" stroke="#3a3a3a" stroke-width="1"/>
<text x="574.6" y="502.8" font-size="6.6" text-anchor="middle" fill="#222">20</text>
<line x1="616" y1="492.2" x2="616" y2="495.2" stroke="#3a3a3a" stroke-width="1"/>
<text x="616" y="502.8" font-size="6.6" text-anchor="middle" fill="#222">40</text>
<line x1="657.4" y1="492.2" x2="657.4" y2="495.2" stroke="#3a3a3a" stroke-width="1"/>
<text x="657.4" y="502.8" font-size="6.6" text-anchor="middle" fill="#222">60</text>
<text x="575.2" y="514" font-size="8.4" text-anchor="middle" fill="#111" font-weight="bold" textLength="21" lengthAdjust="spacingAndGlyphs">Score</text>
<line x1="518.5" y1="404" x2="529.1" y2="404" stroke="#555" stroke-width="0.9"/>
<line x1="544.5" y1="404" x2="566" y2="404" stroke="#555" stroke-width="0.9"/>
<line x1="518.5" y1="399" x2="518.5" y2="409" stroke="#555" stroke-width="0.9"/>
<line x1="566" y1="399" x2="566" y2="409" stroke="#555" stroke-width="0.9"/>
<rect x="529.1" y="393.1" width="15.4" height="21.8" fill="#a19fa4" stroke="#333" stroke-width="0.8"/>
<line x1="533.9" y1="393.1" x2="533.9" y2="414.9" stroke="#333" stroke-width="0.9"/>
<line x1="536.2" y1="404" x2="540.6" y2="404" stroke="#111" stroke-width="0.9"/>
<line x1="538.4" y1="401.8" x2="538.4" y2="406.2" stroke="#111" stroke-width="0.9"/>
<line x1="535.5" y1="437.1" x2="548" y2="437.1" stroke="#555" stroke-width="0.9"/>
<line x1="567.9" y1="437.1" x2="582.7" y2="437.1" stroke="#555" stroke-width="0.9"/>
<line x1="535.5" y1="432.1" x2="535.5" y2="442.1" stroke="#555" stroke-width="0.9"/>
<line x1="582.7" y1="432.1" x2="582.7" y2="442.1" stroke="#555" stroke-width="0.9"/>
<rect x="548" y="426.3" width="19.9" height="21.6" fill="#5ea6f8" stroke="#333" stroke-width="0.8"/>
<line x1="562.5" y1="426.3" x2="562.5" y2="447.9" stroke="#333" stroke-width="0.9"/>
<line x1="557.4" y1="437.1" x2="561.8" y2="437.1" stroke="#111" stroke-width="0.9"/>
<line x1="559.6" y1="434.9" x2="559.6" y2="439.3" stroke="#111" stroke-width="0.9"/>
<line x1="535.5" y1="470.5" x2="549.9" y2="470.5" stroke="#555" stroke-width="0.9"/>
<line x1="588.4" y1="470.5" x2="624.4" y2="470.5" stroke="#555" stroke-width="0.9"/>
<line x1="535.5" y1="465.5" x2="535.5" y2="475.5" stroke="#555" stroke-width="0.9"/>
<line x1="624.4" y1="465.5" x2="624.4" y2="475.5" stroke="#555" stroke-width="0.9"/>
<rect x="549.9" y="459.7" width="38.5" height="21.6" fill="#f07880" stroke="#333" stroke-width="0.8"/>
<line x1="572.7" y1="459.7" x2="572.7" y2="481.3" stroke="#333" stroke-width="0.9"/>
<line x1="570.8" y1="470.5" x2="575.2" y2="470.5" stroke="#111" stroke-width="0.9"/>
<line x1="573" y1="468.3" x2="573" y2="472.7" stroke="#111" stroke-width="0.9"/>
<rect x="584.8" y="435" width="4" height="4" fill="#a19fa4" stroke="none" stroke-width="0"/>
<rect x="626.5" y="467.4" width="4" height="4" fill="#a19fa4" stroke="none" stroke-width="0"/>
</svg>
</body></html>
